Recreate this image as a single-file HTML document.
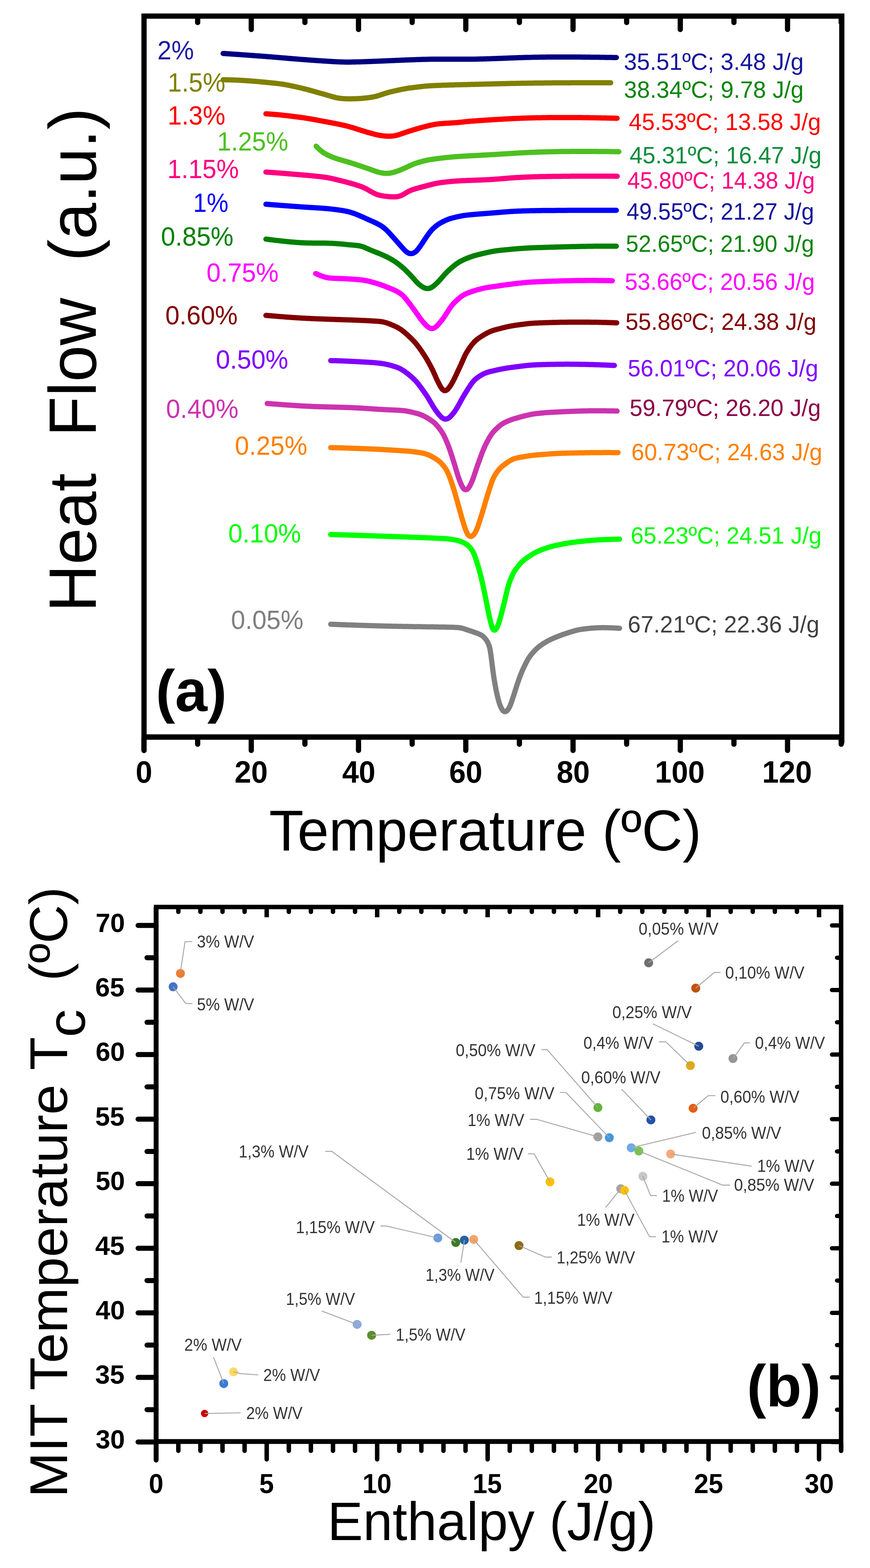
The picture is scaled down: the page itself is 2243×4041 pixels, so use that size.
<!DOCTYPE html>
<html><head><meta charset="utf-8"><title>DSC figure</title>
<style>
html,body{margin:0;padding:0;background:#fff;overflow:hidden;}
svg{display:block;filter:blur(0.5px);}
text{font-family:"Liberation Sans",Arial,sans-serif;white-space:pre;}
</style></head>
<body>
<svg width="2243" height="4041" viewBox="0 0 2243 4041">
<rect width="2243" height="4041" fill="#fff"/>
<g fill="none" stroke="#000" stroke-linecap="round">
<line x1="371.3" y1="1902" x2="371.3" y2="1934" stroke-width="13.5"/>
<line x1="647.8" y1="1902" x2="647.8" y2="1934" stroke-width="13.5"/>
<line x1="924.3" y1="1902" x2="924.3" y2="1934" stroke-width="13.5"/>
<line x1="1200.9" y1="1902" x2="1200.9" y2="1934" stroke-width="13.5"/>
<line x1="1477.4" y1="1902" x2="1477.4" y2="1934" stroke-width="13.5"/>
<line x1="1753.9" y1="1902" x2="1753.9" y2="1934" stroke-width="13.5"/>
<line x1="2030.4" y1="1902" x2="2030.4" y2="1934" stroke-width="13.5"/>
<line x1="509.6" y1="1902" x2="509.6" y2="1918" stroke-width="13.5"/>
<line x1="786.1" y1="1902" x2="786.1" y2="1918" stroke-width="13.5"/>
<line x1="1062.6" y1="1902" x2="1062.6" y2="1918" stroke-width="13.5"/>
<line x1="1339.1" y1="1902" x2="1339.1" y2="1918" stroke-width="13.5"/>
<line x1="1615.6" y1="1902" x2="1615.6" y2="1918" stroke-width="13.5"/>
<line x1="1892.2" y1="1902" x2="1892.2" y2="1918" stroke-width="13.5"/>
<line x1="2168.7" y1="1902" x2="2168.7" y2="1918" stroke-width="13.5"/>
<line x1="647.8" y1="44" x2="647.8" y2="76" stroke-width="13.5"/>
<line x1="924.3" y1="44" x2="924.3" y2="76" stroke-width="13.5"/>
<line x1="1200.9" y1="44" x2="1200.9" y2="76" stroke-width="13.5"/>
<line x1="1477.4" y1="44" x2="1477.4" y2="76" stroke-width="13.5"/>
<line x1="1753.9" y1="44" x2="1753.9" y2="76" stroke-width="13.5"/>
<line x1="2030.4" y1="44" x2="2030.4" y2="76" stroke-width="13.5"/>
<line x1="509.6" y1="44" x2="509.6" y2="58" stroke-width="13.5"/>
<line x1="786.1" y1="44" x2="786.1" y2="58" stroke-width="13.5"/>
<line x1="1062.6" y1="44" x2="1062.6" y2="58" stroke-width="13.5"/>
<line x1="1339.1" y1="44" x2="1339.1" y2="58" stroke-width="13.5"/>
<line x1="1615.6" y1="44" x2="1615.6" y2="58" stroke-width="13.5"/>
<line x1="1892.2" y1="44" x2="1892.2" y2="58" stroke-width="13.5"/>
<line x1="2168.7" y1="44" x2="2168.7" y2="58" stroke-width="13.5"/>
</g>
<path d="M371.3 1934 V41.5 H2170.3 V1913" fill="none" stroke="#000" stroke-width="13.5" stroke-linejoin="miter" stroke-linecap="round"/>
<line x1="365" y1="1899.5" x2="2177" y2="1899.5" stroke="#000" stroke-width="14"/>
<g fill="none" stroke-width="13.5" stroke-linecap="round" stroke-linejoin="round">
<path d="M575.3 137.8 L578.8 138.0 L580.2 138.1 L581.8 138.2 L583.5 138.3 L585.4 138.5 L587.3 138.6 L589.3 138.7 L591.3 138.8 L593.3 139.0 L595.3 139.1 L597.3 139.2 L599.2 139.4 L601.2 139.5 L603.2 139.6 L605.2 139.8 L607.2 139.9 L609.2 140.0 L611.2 140.2 L613.2 140.3 L615.2 140.5 L617.2 140.6 L619.2 140.7 L621.2 140.9 L623.2 141.0 L625.2 141.2 L627.2 141.3 L629.2 141.4 L631.2 141.6 L633.2 141.7 L635.2 141.9 L637.2 142.0 L639.2 142.1 L641.1 142.3 L643.1 142.4 L645.1 142.6 L647.1 142.7 L649.1 142.9 L651.1 143.0 L653.1 143.2 L655.1 143.3 L657.1 143.5 L659.1 143.6 L661.1 143.8 L663.1 143.9 L665.1 144.0 L667.1 144.2 L669.1 144.3 L671.1 144.5 L673.1 144.6 L675.1 144.8 L677.0 144.9 L679.0 145.1 L681.0 145.2 L683.0 145.4 L685.0 145.6 L687.0 145.7 L689.0 145.9 L691.0 146.0 L693.0 146.2 L695.0 146.3 L697.0 146.5 L699.0 146.6 L701.0 146.8 L703.0 146.9 L705.0 147.1 L707.0 147.3 L709.0 147.4 L710.9 147.6 L712.9 147.8 L714.9 147.9 L716.9 148.1 L718.9 148.3 L720.9 148.4 L722.9 148.6 L724.9 148.8 L726.9 148.9 L728.9 149.1 L730.9 149.3 L732.9 149.5 L734.9 149.6 L736.9 149.8 L738.8 150.0 L740.8 150.2 L742.8 150.3 L744.8 150.5 L746.8 150.7 L748.8 150.8 L750.8 151.0 L752.8 151.2 L754.8 151.3 L756.8 151.5 L758.8 151.7 L760.8 151.8 L762.8 152.0 L764.8 152.1 L766.7 152.3 L768.7 152.5 L770.7 152.6 L772.7 152.8 L774.7 152.9 L776.7 153.1 L778.7 153.2 L780.7 153.4 L782.7 153.5 L784.7 153.7 L786.7 153.8 L788.7 154.0 L790.7 154.1 L792.7 154.3 L794.7 154.4 L796.7 154.6 L798.7 154.7 L800.6 154.9 L802.6 155.0 L804.6 155.2 L806.6 155.3 L808.6 155.4 L810.6 155.6 L812.6 155.7 L814.6 155.9 L816.6 156.0 L818.6 156.1 L820.6 156.3 L822.6 156.4 L824.6 156.5 L826.6 156.6 L828.6 156.8 L830.6 156.9 L832.6 157.0 L834.6 157.2 L836.6 157.3 L838.6 157.4 L840.6 157.6 L842.6 157.7 L844.5 157.8 L846.5 158.0 L848.5 158.1 L850.5 158.2 L852.5 158.3 L854.5 158.5 L856.5 158.6 L858.5 158.7 L860.5 158.8 L862.5 158.9 L864.5 159.0 L866.5 159.1 L868.5 159.2 L870.5 159.3 L872.5 159.4 L874.5 159.5 L876.5 159.6 L878.5 159.6 L880.5 159.7 L882.5 159.8 L884.5 159.8 L886.5 159.8 L888.5 159.9 L890.5 159.9 L892.5 159.9 L894.5 159.9 L896.5 159.9 L898.5 159.9 L900.5 159.9 L902.5 159.9 L904.5 159.9 L906.5 159.8 L908.5 159.8 L910.5 159.8 L912.5 159.8 L914.5 159.7 L916.5 159.7 L918.5 159.6 L920.5 159.6 L922.5 159.5 L924.5 159.5 L926.5 159.4 L928.5 159.4 L930.5 159.3 L932.5 159.2 L934.5 159.2 L936.5 159.1 L938.5 159.0 L940.5 159.0 L942.5 158.9 L944.5 158.8 L946.5 158.8 L948.5 158.7 L950.5 158.6 L952.5 158.5 L954.5 158.5 L956.5 158.4 L958.5 158.3 L960.5 158.2 L962.5 158.1 L964.5 158.1 L966.5 158.0 L968.5 157.9 L970.5 157.8 L972.5 157.7 L974.5 157.7 L976.5 157.6 L978.5 157.5 L980.5 157.4 L982.4 157.3 L984.4 157.2 L986.4 157.2 L988.4 157.1 L990.4 157.0 L992.4 156.9 L994.4 156.8 L996.4 156.7 L998.4 156.7 L1000.4 156.6 L1002.4 156.5 L1004.4 156.4 L1006.4 156.3 L1008.4 156.2 L1010.4 156.2 L1012.4 156.1 L1014.4 156.0 L1016.4 155.9 L1018.4 155.8 L1020.4 155.7 L1022.4 155.6 L1024.4 155.6 L1026.4 155.5 L1028.4 155.4 L1030.4 155.3 L1032.4 155.2 L1034.4 155.1 L1036.4 155.0 L1038.4 155.0 L1040.4 154.9 L1042.4 154.8 L1044.4 154.7 L1046.4 154.6 L1048.4 154.5 L1050.4 154.5 L1052.4 154.4 L1054.4 154.3 L1056.4 154.2 L1058.4 154.2 L1060.4 154.1 L1062.4 154.0 L1064.4 153.9 L1066.4 153.9 L1068.4 153.8 L1070.4 153.7 L1072.4 153.7 L1074.4 153.6 L1076.4 153.5 L1078.4 153.5 L1080.4 153.4 L1082.4 153.3 L1084.4 153.3 L1086.4 153.2 L1088.4 153.1 L1090.4 153.1 L1092.4 153.0 L1094.4 153.0 L1096.4 152.9 L1098.4 152.9 L1100.4 152.8 L1102.4 152.8 L1104.4 152.7 L1106.4 152.7 L1108.4 152.6 L1110.4 152.6 L1112.4 152.6 L1114.4 152.5 L1116.4 152.5 L1118.4 152.5 L1120.4 152.5 L1122.4 152.4 L1124.4 152.4 L1126.4 152.4 L1128.4 152.4 L1130.4 152.4 L1132.4 152.4 L1134.4 152.4 L1136.4 152.4 L1138.4 152.4 L1140.4 152.4 L1142.4 152.4 L1144.4 152.4 L1146.4 152.4 L1148.4 152.4 L1150.4 152.4 L1152.4 152.4 L1154.4 152.4 L1156.4 152.4 L1158.4 152.4 L1160.4 152.5 L1162.4 152.5 L1164.4 152.5 L1166.4 152.5 L1168.4 152.5 L1170.4 152.5 L1172.4 152.5 L1174.4 152.6 L1176.4 152.6 L1178.4 152.6 L1180.4 152.6 L1182.4 152.6 L1184.4 152.6 L1186.4 152.6 L1188.4 152.6 L1190.4 152.6 L1192.4 152.6 L1194.4 152.6 L1196.4 152.6 L1198.4 152.6 L1200.4 152.6 L1202.4 152.6 L1204.4 152.6 L1206.4 152.6 L1208.4 152.6 L1210.4 152.6 L1212.4 152.6 L1214.4 152.5 L1216.4 152.5 L1218.4 152.5 L1220.4 152.5 L1222.4 152.4 L1224.4 152.4 L1226.4 152.4 L1228.4 152.3 L1230.4 152.3 L1232.4 152.2 L1234.4 152.2 L1236.4 152.1 L1238.4 152.1 L1240.4 152.0 L1242.4 152.0 L1244.4 151.9 L1246.3 151.9 L1248.3 151.8 L1250.3 151.8 L1252.3 151.7 L1254.3 151.7 L1256.3 151.6 L1258.3 151.5 L1260.3 151.5 L1262.3 151.4 L1264.3 151.3 L1266.3 151.3 L1268.3 151.2 L1270.3 151.1 L1272.3 151.1 L1274.3 151.0 L1276.3 150.9 L1278.3 150.8 L1280.3 150.8 L1282.3 150.7 L1284.3 150.6 L1286.3 150.6 L1288.3 150.5 L1290.3 150.4 L1292.3 150.3 L1294.3 150.3 L1296.3 150.2 L1298.3 150.1 L1300.3 150.0 L1302.3 149.9 L1304.3 149.9 L1306.3 149.8 L1308.3 149.7 L1310.3 149.6 L1312.3 149.6 L1314.3 149.5 L1316.3 149.4 L1318.3 149.3 L1320.3 149.3 L1322.3 149.2 L1324.3 149.1 L1326.3 149.0 L1328.3 149.0 L1330.3 148.9 L1332.3 148.8 L1334.3 148.8 L1336.3 148.7 L1338.3 148.6 L1340.3 148.6 L1342.3 148.5 L1344.3 148.4 L1346.3 148.4 L1348.3 148.3 L1350.3 148.2 L1352.3 148.2 L1354.3 148.1 L1356.3 148.1 L1358.3 148.0 L1360.3 148.0 L1362.3 147.9 L1364.3 147.9 L1366.3 147.8 L1368.3 147.8 L1370.3 147.7 L1372.3 147.7 L1374.3 147.6 L1376.3 147.6 L1378.3 147.5 L1380.3 147.5 L1382.3 147.5 L1384.3 147.4 L1386.3 147.4 L1388.3 147.4 L1390.3 147.3 L1392.3 147.3 L1394.3 147.3 L1396.3 147.3 L1398.3 147.2 L1400.3 147.2 L1402.3 147.2 L1404.3 147.2 L1406.3 147.2 L1408.3 147.1 L1410.3 147.1 L1412.3 147.1 L1414.3 147.1 L1416.3 147.1 L1418.3 147.1 L1420.3 147.0 L1422.3 147.0 L1424.3 147.0 L1426.3 147.0 L1428.3 147.0 L1430.3 147.0 L1432.3 147.0 L1434.3 147.0 L1436.3 147.0 L1438.3 147.0 L1440.3 147.0 L1442.3 147.0 L1444.3 146.9 L1446.3 146.9 L1448.3 146.9 L1450.3 146.9 L1452.3 146.9 L1454.3 146.9 L1456.3 146.9 L1458.3 146.9 L1460.3 147.0 L1462.3 147.0 L1464.3 147.0 L1466.3 147.0 L1468.3 147.0 L1470.3 147.0 L1472.3 147.0 L1474.3 147.0 L1476.3 147.0 L1478.3 147.0 L1480.3 147.0 L1482.3 147.0 L1484.3 147.0 L1486.3 147.1 L1488.3 147.1 L1490.3 147.1 L1492.3 147.1 L1494.3 147.1 L1496.3 147.1 L1498.3 147.1 L1500.3 147.2 L1502.3 147.2 L1504.3 147.2 L1506.3 147.2 L1508.3 147.2 L1510.3 147.2 L1512.3 147.3 L1514.3 147.3 L1516.3 147.3 L1518.3 147.3 L1520.3 147.3 L1522.3 147.4 L1524.3 147.4 L1526.3 147.4 L1528.3 147.4 L1530.3 147.5 L1532.3 147.5 L1534.3 147.5 L1536.3 147.5 L1538.3 147.6 L1540.3 147.6 L1542.3 147.6 L1544.3 147.6 L1546.3 147.7 L1548.3 147.7 L1550.3 147.7 L1552.3 147.7 L1554.3 147.8 L1556.3 147.8 L1558.3 147.8 L1560.3 147.9 L1562.3 147.9 L1564.3 147.9 L1566.3 147.9 L1568.3 148.0 L1570.3 148.0 L1572.3 148.0 L1574.3 148.1 L1576.2 148.1 L1578.2 148.1 L1580.1 148.2 L1581.9 148.2 L1583.5 148.2 L1585.0 148.2 L1586.2 148.3 L1589.0 148.3" stroke="#000080"/>
<path d="M575.3 205.6 L578.8 205.6 L580.2 205.6 L581.8 205.7 L583.6 205.7 L585.4 205.7 L587.3 205.8 L589.3 205.8 L591.3 205.8 L593.3 205.9 L595.3 206.0 L597.3 206.0 L599.3 206.1 L601.3 206.1 L603.3 206.2 L605.3 206.3 L607.3 206.4 L609.3 206.5 L611.3 206.5 L613.3 206.6 L615.3 206.7 L617.3 206.8 L619.3 206.9 L621.3 207.1 L623.3 207.2 L625.3 207.3 L627.3 207.4 L629.3 207.5 L631.3 207.6 L633.2 207.8 L635.2 207.9 L637.2 208.0 L639.2 208.2 L641.2 208.3 L643.2 208.5 L645.2 208.6 L647.2 208.8 L649.2 208.9 L651.2 209.1 L653.2 209.2 L655.2 209.4 L657.2 209.6 L659.2 209.7 L661.2 209.9 L663.2 210.1 L665.2 210.2 L667.1 210.4 L669.1 210.6 L671.1 210.8 L673.1 211.0 L675.1 211.1 L677.1 211.3 L679.1 211.5 L681.1 211.7 L683.1 211.9 L685.1 212.1 L687.1 212.3 L689.0 212.5 L691.0 212.7 L693.0 212.9 L695.0 213.1 L697.0 213.3 L699.0 213.5 L701.0 213.7 L703.0 213.9 L705.0 214.1 L707.0 214.3 L708.9 214.5 L710.9 214.7 L712.9 214.9 L714.9 215.1 L716.9 215.4 L718.9 215.6 L720.9 215.9 L722.8 216.1 L724.8 216.4 L726.8 216.7 L728.8 217.0 L730.8 217.3 L732.7 217.7 L734.7 218.0 L736.7 218.4 L738.6 218.7 L740.6 219.1 L742.6 219.5 L744.5 219.8 L746.5 220.2 L748.4 220.6 L750.4 221.0 L752.4 221.5 L754.3 221.9 L756.3 222.3 L758.2 222.7 L760.2 223.2 L762.1 223.6 L764.1 224.0 L766.0 224.5 L768.0 224.9 L769.9 225.4 L771.9 225.8 L773.8 226.3 L775.8 226.7 L777.7 227.2 L779.7 227.6 L781.6 228.1 L783.6 228.6 L785.5 229.1 L787.4 229.5 L789.4 230.0 L791.3 230.5 L793.2 231.0 L795.2 231.6 L797.1 232.1 L799.0 232.6 L801.0 233.1 L802.9 233.7 L804.8 234.2 L806.7 234.8 L808.7 235.3 L810.6 235.9 L812.5 236.4 L814.4 237.0 L816.4 237.5 L818.3 238.1 L820.2 238.6 L822.1 239.2 L824.1 239.7 L826.0 240.2 L827.9 240.8 L829.8 241.3 L831.8 241.8 L833.7 242.4 L835.6 242.9 L837.5 243.5 L839.5 244.0 L841.4 244.6 L843.3 245.1 L845.2 245.7 L847.1 246.2 L849.1 246.8 L851.0 247.4 L852.9 248.0 L854.8 248.5 L856.7 249.1 L858.7 249.6 L860.6 250.1 L862.5 250.6 L864.5 251.1 L866.4 251.6 L868.4 252.0 L870.3 252.4 L872.3 252.7 L874.3 253.0 L876.2 253.3 L878.2 253.6 L880.2 253.8 L882.2 254.0 L884.2 254.1 L886.2 254.3 L888.2 254.4 L890.2 254.5 L892.2 254.6 L894.2 254.6 L896.2 254.7 L898.2 254.7 L900.2 254.7 L902.2 254.7 L904.2 254.7 L906.2 254.7 L908.2 254.6 L910.2 254.6 L912.2 254.5 L914.2 254.5 L916.2 254.4 L918.2 254.3 L920.2 254.3 L922.2 254.2 L924.2 254.1 L926.1 253.9 L928.1 253.8 L930.1 253.7 L932.1 253.5 L934.1 253.4 L936.1 253.2 L938.1 253.0 L940.1 252.8 L942.1 252.6 L944.1 252.4 L946.1 252.2 L948.1 251.9 L950.0 251.7 L952.0 251.4 L954.0 251.1 L956.0 250.8 L957.9 250.5 L959.9 250.2 L961.9 249.8 L963.8 249.5 L965.8 249.0 L967.7 248.6 L969.7 248.1 L971.6 247.6 L973.5 247.0 L975.5 246.5 L977.4 245.9 L979.3 245.3 L981.2 244.7 L983.1 244.0 L985.0 243.4 L986.9 242.7 L988.7 242.1 L990.6 241.5 L992.5 240.9 L994.5 240.3 L996.4 239.7 L998.3 239.1 L1000.2 238.6 L1002.1 238.0 L1004.1 237.5 L1006.0 237.0 L1007.9 236.5 L1009.9 236.1 L1011.8 235.6 L1013.8 235.2 L1015.7 234.7 L1017.7 234.3 L1019.6 233.8 L1021.6 233.4 L1023.5 232.9 L1025.5 232.5 L1027.4 232.1 L1029.4 231.7 L1031.3 231.2 L1033.3 230.8 L1035.3 230.4 L1037.2 230.1 L1039.2 229.7 L1041.2 229.3 L1043.1 228.9 L1045.1 228.6 L1047.1 228.3 L1049.0 227.9 L1051.0 227.6 L1053.0 227.3 L1055.0 227.0 L1056.9 226.7 L1058.9 226.4 L1060.9 226.2 L1062.9 225.9 L1064.9 225.7 L1066.9 225.4 L1068.8 225.1 L1070.8 224.9 L1072.8 224.7 L1074.8 224.4 L1076.8 224.2 L1078.8 223.9 L1080.8 223.7 L1082.7 223.5 L1084.7 223.3 L1086.7 223.0 L1088.7 222.8 L1090.7 222.6 L1092.7 222.4 L1094.7 222.2 L1096.7 222.1 L1098.7 221.9 L1100.7 221.7 L1102.6 221.5 L1104.6 221.4 L1106.6 221.3 L1108.6 221.1 L1110.6 221.0 L1112.6 220.9 L1114.6 220.8 L1116.6 220.7 L1118.6 220.6 L1120.6 220.5 L1122.6 220.4 L1124.6 220.3 L1126.6 220.2 L1128.6 220.2 L1130.6 220.1 L1132.6 220.0 L1134.6 219.9 L1136.6 219.9 L1138.6 219.8 L1140.6 219.7 L1142.6 219.6 L1144.6 219.6 L1146.6 219.5 L1148.6 219.4 L1150.6 219.4 L1152.6 219.3 L1154.6 219.2 L1156.6 219.2 L1158.6 219.1 L1160.6 219.0 L1162.6 219.0 L1164.6 218.9 L1166.6 218.9 L1168.6 218.8 L1170.6 218.7 L1172.6 218.7 L1174.6 218.6 L1176.6 218.6 L1178.6 218.5 L1180.6 218.5 L1182.6 218.4 L1184.6 218.4 L1186.6 218.3 L1188.6 218.3 L1190.6 218.2 L1192.6 218.2 L1194.6 218.1 L1196.6 218.1 L1198.6 218.0 L1200.6 218.0 L1202.6 217.9 L1204.6 217.9 L1206.6 217.8 L1208.6 217.8 L1210.6 217.7 L1212.6 217.7 L1214.6 217.6 L1216.6 217.6 L1218.6 217.5 L1220.6 217.5 L1222.6 217.4 L1224.6 217.4 L1226.6 217.3 L1228.6 217.3 L1230.6 217.2 L1232.6 217.2 L1234.6 217.1 L1236.6 217.1 L1238.6 217.0 L1240.6 217.0 L1242.6 216.9 L1244.6 216.9 L1246.6 216.8 L1248.6 216.8 L1250.6 216.7 L1252.6 216.7 L1254.6 216.6 L1256.6 216.6 L1258.6 216.5 L1260.6 216.5 L1262.5 216.4 L1264.5 216.4 L1266.5 216.3 L1268.5 216.3 L1270.5 216.2 L1272.5 216.2 L1274.5 216.1 L1276.5 216.1 L1278.5 216.0 L1280.5 216.0 L1282.5 215.9 L1284.5 215.9 L1286.5 215.8 L1288.5 215.8 L1290.5 215.7 L1292.5 215.7 L1294.5 215.6 L1296.5 215.6 L1298.5 215.5 L1300.5 215.5 L1302.5 215.4 L1304.5 215.4 L1306.5 215.3 L1308.5 215.3 L1310.5 215.3 L1312.5 215.2 L1314.5 215.2 L1316.5 215.1 L1318.5 215.1 L1320.5 215.0 L1322.5 215.0 L1324.5 215.0 L1326.5 214.9 L1328.5 214.9 L1330.5 214.8 L1332.5 214.8 L1334.5 214.8 L1336.5 214.7 L1338.5 214.7 L1340.5 214.7 L1342.5 214.6 L1344.5 214.6 L1346.5 214.6 L1348.5 214.5 L1350.5 214.5 L1352.5 214.5 L1354.5 214.4 L1356.5 214.4 L1358.5 214.4 L1360.5 214.3 L1362.5 214.3 L1364.5 214.3 L1366.5 214.2 L1368.5 214.2 L1370.5 214.2 L1372.5 214.2 L1374.5 214.1 L1376.5 214.1 L1378.5 214.1 L1380.5 214.1 L1382.5 214.0 L1384.5 214.0 L1386.5 214.0 L1388.5 214.0 L1390.5 214.0 L1392.5 213.9 L1394.5 213.9 L1396.5 213.9 L1398.5 213.9 L1400.5 213.9 L1402.5 213.8 L1404.5 213.8 L1406.5 213.8 L1408.5 213.8 L1410.5 213.8 L1412.5 213.7 L1414.5 213.7 L1416.5 213.7 L1418.5 213.7 L1420.5 213.7 L1422.5 213.7 L1424.5 213.6 L1426.5 213.6 L1428.5 213.6 L1430.5 213.6 L1432.5 213.6 L1434.5 213.6 L1436.5 213.6 L1438.5 213.5 L1440.5 213.5 L1442.5 213.5 L1444.5 213.5 L1446.5 213.5 L1448.5 213.5 L1450.5 213.5 L1452.5 213.5 L1454.5 213.4 L1456.5 213.4 L1458.5 213.4 L1460.5 213.4 L1462.5 213.4 L1464.5 213.4 L1466.5 213.4 L1468.5 213.4 L1470.5 213.4 L1472.5 213.3 L1474.5 213.3 L1476.5 213.3 L1478.5 213.3 L1480.5 213.3 L1482.5 213.3 L1484.5 213.3 L1486.5 213.3 L1488.5 213.3 L1490.5 213.3 L1492.5 213.3 L1494.5 213.3 L1496.5 213.3 L1498.5 213.3 L1500.5 213.2 L1502.5 213.2 L1504.5 213.2 L1506.5 213.2 L1508.5 213.2 L1510.5 213.2 L1512.5 213.2 L1514.5 213.2 L1516.5 213.2 L1518.5 213.2 L1520.5 213.2 L1522.5 213.2 L1524.5 213.2 L1526.5 213.2 L1528.5 213.2 L1530.5 213.2 L1532.5 213.2 L1534.5 213.2 L1536.5 213.2 L1538.5 213.2 L1540.5 213.2 L1542.5 213.2 L1544.5 213.2 L1546.5 213.2 L1548.5 213.2 L1550.5 213.2 L1552.5 213.2 L1554.5 213.2 L1556.5 213.2 L1558.5 213.2 L1560.5 213.3 L1562.5 213.3 L1564.4 213.3 L1566.3 213.3 L1568.0 213.3 L1569.6 213.3 L1571.0 213.3 L1574.5 213.3 L1574.5 213.3" stroke="#808000"/>
<path d="M685.6 293.3 L689.1 293.5 L690.5 293.6 L692.1 293.7 L693.8 293.8 L695.7 293.9 L697.6 294.1 L699.6 294.2 L701.6 294.4 L703.6 294.5 L705.6 294.7 L707.5 294.8 L709.5 295.0 L711.5 295.2 L713.5 295.4 L715.5 295.5 L717.5 295.7 L719.5 295.9 L721.5 296.1 L723.5 296.3 L725.5 296.5 L727.5 296.7 L729.4 297.0 L731.4 297.2 L733.4 297.4 L735.4 297.6 L737.4 297.8 L739.4 298.1 L741.4 298.3 L743.4 298.5 L745.3 298.8 L747.3 299.0 L749.3 299.2 L751.3 299.5 L753.3 299.7 L755.3 300.0 L757.2 300.2 L759.2 300.5 L761.2 300.7 L763.2 301.0 L765.2 301.3 L767.2 301.5 L769.1 301.8 L771.1 302.0 L773.1 302.3 L775.1 302.6 L777.1 302.8 L779.1 303.1 L781.0 303.4 L783.0 303.6 L785.0 303.9 L787.0 304.2 L789.0 304.5 L790.9 304.8 L792.9 305.1 L794.9 305.5 L796.9 305.8 L798.8 306.1 L800.8 306.5 L802.8 306.8 L804.7 307.2 L806.7 307.5 L808.7 307.9 L810.6 308.2 L812.6 308.6 L814.6 309.0 L816.5 309.3 L818.5 309.7 L820.5 310.1 L822.4 310.4 L824.4 310.8 L826.4 311.2 L828.3 311.6 L830.3 311.9 L832.3 312.3 L834.2 312.7 L836.2 313.0 L838.2 313.4 L840.1 313.8 L842.1 314.1 L844.1 314.5 L846.0 314.8 L848.0 315.2 L850.0 315.6 L851.9 315.9 L853.9 316.3 L855.9 316.7 L857.8 317.1 L859.8 317.4 L861.8 317.8 L863.7 318.2 L865.7 318.6 L867.6 319.0 L869.6 319.4 L871.6 319.7 L873.5 320.2 L875.5 320.6 L877.4 321.0 L879.4 321.4 L881.3 321.8 L883.3 322.2 L885.2 322.7 L887.2 323.1 L889.1 323.6 L891.1 324.1 L893.0 324.5 L895.0 325.0 L896.9 325.5 L898.8 326.0 L900.8 326.6 L902.7 327.1 L904.6 327.7 L906.5 328.2 L908.4 328.8 L910.4 329.4 L912.3 330.0 L914.2 330.6 L916.1 331.2 L918.0 331.8 L919.9 332.4 L921.8 333.0 L923.7 333.6 L925.6 334.2 L927.5 334.8 L929.4 335.4 L931.3 336.0 L933.2 336.6 L935.2 337.2 L937.1 337.8 L939.0 338.4 L940.9 339.0 L942.8 339.5 L944.7 340.1 L946.6 340.7 L948.6 341.2 L950.5 341.8 L952.4 342.3 L954.3 342.8 L956.3 343.4 L958.2 343.9 L960.1 344.4 L962.1 345.0 L964.0 345.5 L965.9 346.0 L967.9 346.5 L969.8 346.9 L971.8 347.4 L973.7 347.8 L975.7 348.2 L977.6 348.6 L979.6 349.0 L981.6 349.3 L983.5 349.6 L985.5 349.9 L987.5 350.1 L989.5 350.3 L991.5 350.5 L993.5 350.7 L995.5 350.8 L997.5 350.9 L999.4 351.0 L1001.4 351.0 L1003.4 351.0 L1005.4 351.0 L1007.4 350.9 L1009.4 350.8 L1011.4 350.6 L1013.4 350.4 L1015.4 350.1 L1017.3 349.8 L1019.3 349.4 L1021.3 349.0 L1023.2 348.6 L1025.1 348.0 L1027.0 347.5 L1028.9 346.9 L1030.8 346.2 L1032.7 345.6 L1034.6 344.9 L1036.5 344.3 L1038.4 343.6 L1040.3 342.9 L1042.1 342.3 L1044.0 341.6 L1045.9 341.0 L1047.8 340.4 L1049.7 339.8 L1051.6 339.2 L1053.6 338.5 L1055.5 337.9 L1057.4 337.3 L1059.3 336.7 L1061.2 336.2 L1063.1 335.6 L1065.0 335.0 L1066.9 334.4 L1068.8 333.8 L1070.7 333.2 L1072.7 332.6 L1074.6 332.1 L1076.5 331.5 L1078.4 331.0 L1080.3 330.4 L1082.3 329.9 L1084.2 329.4 L1086.1 328.8 L1088.1 328.3 L1090.0 327.8 L1091.9 327.3 L1093.9 326.8 L1095.8 326.3 L1097.7 325.8 L1099.7 325.3 L1101.6 324.8 L1103.6 324.3 L1105.5 323.8 L1107.4 323.4 L1109.4 322.9 L1111.3 322.5 L1113.3 322.0 L1115.2 321.6 L1117.2 321.2 L1119.2 320.9 L1121.1 320.5 L1123.1 320.2 L1125.1 319.9 L1127.1 319.6 L1129.0 319.4 L1131.0 319.2 L1133.0 318.9 L1135.0 318.8 L1137.0 318.6 L1139.0 318.4 L1141.0 318.3 L1143.0 318.1 L1145.0 318.0 L1147.0 317.9 L1149.0 317.7 L1151.0 317.6 L1153.0 317.5 L1155.0 317.4 L1157.0 317.3 L1159.0 317.2 L1161.0 317.1 L1163.0 317.0 L1164.9 316.8 L1166.9 316.7 L1168.9 316.6 L1170.9 316.5 L1172.9 316.3 L1174.9 316.2 L1176.9 316.0 L1178.9 315.9 L1180.9 315.7 L1182.9 315.5 L1184.9 315.3 L1186.9 315.1 L1188.9 314.9 L1190.9 314.7 L1192.8 314.5 L1194.8 314.3 L1196.8 314.0 L1198.8 313.8 L1200.8 313.6 L1202.8 313.4 L1204.8 313.2 L1206.8 313.0 L1208.8 312.8 L1210.7 312.6 L1212.7 312.5 L1214.7 312.3 L1216.7 312.1 L1218.7 312.0 L1220.7 311.8 L1222.7 311.7 L1224.7 311.5 L1226.7 311.4 L1228.7 311.3 L1230.7 311.1 L1232.7 311.0 L1234.7 310.8 L1236.7 310.7 L1238.7 310.6 L1240.7 310.4 L1242.7 310.3 L1244.7 310.2 L1246.7 310.0 L1248.6 309.9 L1250.6 309.8 L1252.6 309.6 L1254.6 309.5 L1256.6 309.4 L1258.6 309.2 L1260.6 309.1 L1262.6 309.0 L1264.6 308.9 L1266.6 308.7 L1268.6 308.6 L1270.6 308.5 L1272.6 308.4 L1274.6 308.2 L1276.6 308.1 L1278.6 308.0 L1280.6 307.9 L1282.6 307.7 L1284.6 307.6 L1286.6 307.5 L1288.6 307.4 L1290.6 307.3 L1292.6 307.2 L1294.6 307.1 L1296.6 306.9 L1298.6 306.8 L1300.6 306.7 L1302.5 306.6 L1304.5 306.5 L1306.5 306.4 L1308.5 306.3 L1310.5 306.2 L1312.5 306.1 L1314.5 306.0 L1316.5 305.9 L1318.5 305.8 L1320.5 305.7 L1322.5 305.6 L1324.5 305.5 L1326.5 305.4 L1328.5 305.3 L1330.5 305.3 L1332.5 305.2 L1334.5 305.1 L1336.5 305.0 L1338.5 304.9 L1340.5 304.8 L1342.5 304.8 L1344.5 304.7 L1346.5 304.6 L1348.5 304.5 L1350.5 304.5 L1352.5 304.4 L1354.5 304.3 L1356.5 304.3 L1358.5 304.2 L1360.5 304.1 L1362.5 304.1 L1364.5 304.0 L1366.5 304.0 L1368.5 303.9 L1370.5 303.8 L1372.5 303.8 L1374.5 303.7 L1376.5 303.7 L1378.5 303.7 L1380.5 303.6 L1382.5 303.6 L1384.5 303.5 L1386.5 303.5 L1388.5 303.5 L1390.5 303.4 L1392.5 303.4 L1394.5 303.4 L1396.5 303.3 L1398.5 303.3 L1400.5 303.3 L1402.5 303.2 L1404.5 303.2 L1406.5 303.2 L1408.5 303.2 L1410.5 303.2 L1412.5 303.1 L1414.5 303.1 L1416.5 303.1 L1418.5 303.1 L1420.5 303.1 L1422.5 303.0 L1424.5 303.0 L1426.5 303.0 L1428.5 303.0 L1430.5 303.0 L1432.5 303.0 L1434.5 303.0 L1436.5 302.9 L1438.5 302.9 L1440.5 302.9 L1442.5 302.9 L1444.5 302.9 L1446.5 302.9 L1448.5 302.9 L1450.5 302.9 L1452.5 302.9 L1454.5 302.9 L1456.5 302.9 L1458.5 302.9 L1460.5 302.9 L1462.5 302.9 L1464.5 302.9 L1466.5 302.9 L1468.5 302.9 L1470.5 302.9 L1472.5 302.9 L1474.5 302.9 L1476.5 303.0 L1478.5 303.0 L1480.5 303.0 L1482.5 303.0 L1484.5 303.0 L1486.5 303.0 L1488.5 303.0 L1490.5 303.0 L1492.5 303.1 L1494.5 303.1 L1496.5 303.1 L1498.5 303.1 L1500.5 303.1 L1502.5 303.2 L1504.5 303.2 L1506.5 303.2 L1508.5 303.2 L1510.5 303.2 L1512.5 303.3 L1514.5 303.3 L1516.5 303.3 L1518.5 303.3 L1520.5 303.4 L1522.5 303.4 L1524.5 303.4 L1526.5 303.5 L1528.5 303.5 L1530.5 303.5 L1532.5 303.6 L1534.5 303.6 L1536.5 303.6 L1538.5 303.7 L1540.5 303.7 L1542.5 303.7 L1544.5 303.8 L1546.5 303.8 L1548.5 303.8 L1550.5 303.9 L1552.5 303.9 L1554.5 304.0 L1556.5 304.0 L1558.5 304.0 L1560.5 304.1 L1562.5 304.1 L1564.5 304.2 L1566.5 304.2 L1568.5 304.3 L1570.5 304.3 L1572.5 304.3 L1574.5 304.4 L1576.5 304.4 L1578.4 304.5 L1580.4 304.5 L1582.3 304.6 L1584.0 304.6 L1585.7 304.7 L1587.1 304.7 L1588.3 304.7 L1591.0 304.8" stroke="#FF0000"/>
<path d="M815.0 376.8 L817.5 379.3 L818.5 380.3 L819.6 381.4 L820.9 382.6 L822.2 383.9 L823.6 385.2 L825.1 386.5 L826.6 387.8 L828.1 389.1 L829.7 390.3 L831.3 391.5 L832.9 392.7 L834.5 393.8 L836.2 394.9 L838.0 395.9 L839.7 396.8 L841.4 397.8 L843.2 398.7 L845.0 399.6 L846.8 400.5 L848.6 401.3 L850.4 402.2 L852.3 403.0 L854.1 403.7 L856.0 404.5 L857.8 405.2 L859.7 405.9 L861.6 406.6 L863.4 407.3 L865.3 408.0 L867.2 408.6 L869.1 409.2 L871.0 409.8 L872.9 410.4 L874.9 411.0 L876.8 411.5 L878.7 412.1 L880.6 412.7 L882.5 413.2 L884.5 413.8 L886.4 414.3 L888.3 414.9 L890.2 415.4 L892.1 416.0 L894.1 416.6 L896.0 417.1 L897.9 417.7 L899.8 418.3 L901.7 418.8 L903.6 419.4 L905.6 420.0 L907.5 420.6 L909.4 421.2 L911.3 421.9 L913.2 422.5 L915.1 423.1 L917.0 423.7 L918.9 424.4 L920.8 425.0 L922.7 425.6 L924.6 426.3 L926.4 426.9 L928.3 427.5 L930.2 428.2 L932.1 428.8 L934.0 429.5 L935.9 430.1 L937.8 430.7 L939.7 431.4 L941.6 432.0 L943.5 432.7 L945.4 433.3 L947.3 434.0 L949.2 434.6 L951.1 435.3 L952.9 435.9 L954.8 436.6 L956.7 437.3 L958.6 438.0 L960.5 438.6 L962.4 439.3 L964.2 440.0 L966.1 440.6 L968.0 441.3 L969.9 441.9 L971.8 442.5 L973.7 443.1 L975.7 443.7 L977.6 444.2 L979.5 444.7 L981.5 445.1 L983.4 445.5 L985.4 445.8 L987.4 446.1 L989.3 446.4 L991.3 446.6 L993.3 446.7 L995.3 446.8 L997.3 446.8 L999.3 446.7 L1001.3 446.6 L1003.2 446.4 L1005.2 446.2 L1007.2 445.9 L1009.1 445.5 L1011.1 445.1 L1013.0 444.6 L1014.9 444.1 L1016.9 443.5 L1018.8 442.9 L1020.7 442.3 L1022.6 441.6 L1024.4 440.9 L1026.3 440.3 L1028.2 439.6 L1030.1 438.9 L1031.9 438.1 L1033.8 437.4 L1035.6 436.7 L1037.5 435.9 L1039.3 435.1 L1041.2 434.3 L1043.0 433.5 L1044.8 432.6 L1046.6 431.8 L1048.4 431.0 L1050.2 430.1 L1052.0 429.2 L1053.8 428.4 L1055.6 427.5 L1057.5 426.7 L1059.3 425.9 L1061.1 425.1 L1062.9 424.3 L1064.8 423.5 L1066.6 422.8 L1068.5 422.1 L1070.4 421.4 L1072.3 420.7 L1074.2 420.1 L1076.1 419.5 L1078.0 418.9 L1079.9 418.3 L1081.8 417.7 L1083.7 417.2 L1085.7 416.7 L1087.6 416.1 L1089.5 415.6 L1091.5 415.1 L1093.4 414.7 L1095.4 414.2 L1097.3 413.7 L1099.3 413.3 L1101.2 412.9 L1103.2 412.5 L1105.1 412.1 L1107.1 411.7 L1109.1 411.4 L1111.0 411.1 L1113.0 410.8 L1115.0 410.5 L1117.0 410.2 L1119.0 409.9 L1120.9 409.6 L1122.9 409.4 L1124.9 409.1 L1126.9 408.8 L1128.9 408.6 L1130.9 408.3 L1132.8 408.1 L1134.8 407.8 L1136.8 407.6 L1138.8 407.4 L1140.8 407.1 L1142.8 406.9 L1144.8 406.7 L1146.7 406.4 L1148.7 406.2 L1150.7 406.0 L1152.7 405.8 L1154.7 405.6 L1156.7 405.4 L1158.7 405.2 L1160.7 405.0 L1162.7 404.8 L1164.6 404.6 L1166.6 404.4 L1168.6 404.3 L1170.6 404.1 L1172.6 403.9 L1174.6 403.8 L1176.6 403.7 L1178.6 403.5 L1180.6 403.4 L1182.6 403.3 L1184.6 403.1 L1186.6 403.0 L1188.6 402.9 L1190.6 402.8 L1192.6 402.6 L1194.6 402.5 L1196.6 402.4 L1198.6 402.3 L1200.6 402.2 L1202.6 402.1 L1204.6 402.0 L1206.6 401.8 L1208.5 401.7 L1210.5 401.6 L1212.5 401.5 L1214.5 401.4 L1216.5 401.3 L1218.5 401.2 L1220.5 401.1 L1222.5 401.0 L1224.5 400.9 L1226.5 400.8 L1228.5 400.7 L1230.5 400.6 L1232.5 400.5 L1234.5 400.4 L1236.5 400.3 L1238.5 400.2 L1240.5 400.0 L1242.5 399.9 L1244.5 399.8 L1246.5 399.7 L1248.5 399.6 L1250.5 399.5 L1252.5 399.4 L1254.5 399.3 L1256.5 399.2 L1258.5 399.1 L1260.5 399.0 L1262.5 398.9 L1264.5 398.7 L1266.5 398.6 L1268.5 398.5 L1270.5 398.4 L1272.5 398.3 L1274.5 398.2 L1276.4 398.0 L1278.4 397.9 L1280.4 397.8 L1282.4 397.7 L1284.4 397.6 L1286.4 397.4 L1288.4 397.3 L1290.4 397.2 L1292.4 397.1 L1294.4 396.9 L1296.4 396.8 L1298.4 396.7 L1300.4 396.6 L1302.4 396.4 L1304.4 396.3 L1306.4 396.2 L1308.4 396.1 L1310.4 395.9 L1312.4 395.8 L1314.4 395.7 L1316.4 395.6 L1318.4 395.4 L1320.4 395.3 L1322.4 395.2 L1324.4 395.1 L1326.4 395.0 L1328.3 394.8 L1330.3 394.7 L1332.3 394.6 L1334.3 394.5 L1336.3 394.4 L1338.3 394.2 L1340.3 394.1 L1342.3 394.0 L1344.3 393.9 L1346.3 393.8 L1348.3 393.7 L1350.3 393.6 L1352.3 393.5 L1354.3 393.4 L1356.3 393.3 L1358.3 393.2 L1360.3 393.1 L1362.3 393.0 L1364.3 392.9 L1366.3 392.8 L1368.3 392.7 L1370.3 392.6 L1372.3 392.5 L1374.3 392.4 L1376.3 392.4 L1378.3 392.3 L1380.3 392.2 L1382.3 392.1 L1384.3 392.1 L1386.3 392.0 L1388.3 391.9 L1390.3 391.9 L1392.3 391.8 L1394.3 391.7 L1396.3 391.7 L1398.3 391.6 L1400.3 391.6 L1402.3 391.5 L1404.3 391.5 L1406.3 391.4 L1408.3 391.3 L1410.3 391.3 L1412.3 391.2 L1414.3 391.2 L1416.3 391.2 L1418.3 391.1 L1420.3 391.1 L1422.3 391.0 L1424.3 391.0 L1426.3 390.9 L1428.3 390.9 L1430.3 390.9 L1432.3 390.8 L1434.3 390.8 L1436.3 390.8 L1438.3 390.7 L1440.3 390.7 L1442.3 390.7 L1444.3 390.6 L1446.3 390.6 L1448.3 390.6 L1450.3 390.5 L1452.3 390.5 L1454.3 390.5 L1456.3 390.5 L1458.3 390.4 L1460.3 390.4 L1462.3 390.4 L1464.3 390.4 L1466.3 390.4 L1468.3 390.4 L1470.3 390.3 L1472.3 390.3 L1474.3 390.3 L1476.3 390.3 L1478.3 390.3 L1480.3 390.3 L1482.3 390.3 L1484.3 390.3 L1486.3 390.2 L1488.3 390.2 L1490.3 390.2 L1492.3 390.2 L1494.3 390.2 L1496.3 390.2 L1498.3 390.2 L1500.3 390.2 L1502.3 390.2 L1504.3 390.2 L1506.3 390.2 L1508.3 390.2 L1510.3 390.2 L1512.3 390.2 L1514.3 390.2 L1516.3 390.2 L1518.3 390.2 L1520.3 390.2 L1522.3 390.3 L1524.3 390.3 L1526.3 390.3 L1528.3 390.3 L1530.3 390.3 L1532.3 390.3 L1534.3 390.3 L1536.3 390.3 L1538.3 390.3 L1540.3 390.4 L1542.3 390.4 L1544.3 390.4 L1546.3 390.4 L1548.3 390.4 L1550.3 390.4 L1552.3 390.5 L1554.3 390.5 L1556.3 390.5 L1558.3 390.5 L1560.3 390.5 L1562.3 390.6 L1564.3 390.6 L1566.3 390.6 L1568.3 390.6 L1570.3 390.7 L1572.3 390.7 L1574.3 390.7 L1576.3 390.7 L1578.3 390.8 L1580.2 390.8 L1582.2 390.8 L1584.2 390.8 L1586.1 390.9 L1587.9 390.9 L1589.6 390.9 L1591.1 390.9 L1592.4 391.0 L1595.5 391.0 L1595.5 391.0" stroke="#4DC020"/>
<path d="M685.6 443.4 L689.1 443.6 L690.5 443.7 L692.1 443.8 L693.8 444.0 L695.7 444.1 L697.6 444.2 L699.6 444.4 L701.6 444.5 L703.6 444.7 L705.6 444.8 L707.5 445.0 L709.5 445.1 L711.5 445.3 L713.5 445.4 L715.5 445.6 L717.5 445.7 L719.5 445.9 L721.5 446.0 L723.5 446.2 L725.5 446.4 L727.5 446.5 L729.5 446.7 L731.5 446.8 L733.5 447.0 L735.5 447.2 L737.5 447.3 L739.4 447.5 L741.4 447.7 L743.4 447.8 L745.4 448.0 L747.4 448.2 L749.4 448.3 L751.4 448.5 L753.4 448.7 L755.4 448.8 L757.4 449.0 L759.4 449.2 L761.4 449.3 L763.4 449.5 L765.4 449.7 L767.3 449.8 L769.3 450.0 L771.3 450.2 L773.3 450.3 L775.3 450.5 L777.3 450.7 L779.3 450.8 L781.3 451.0 L783.3 451.2 L785.3 451.3 L787.3 451.5 L789.3 451.7 L791.3 451.9 L793.3 452.0 L795.2 452.2 L797.2 452.4 L799.2 452.6 L801.2 452.8 L803.2 452.9 L805.2 453.1 L807.2 453.3 L809.2 453.5 L811.2 453.7 L813.2 453.9 L815.2 454.1 L817.1 454.3 L819.1 454.5 L821.1 454.7 L823.1 455.0 L825.1 455.2 L827.1 455.4 L829.1 455.7 L831.1 455.9 L833.0 456.2 L835.0 456.4 L837.0 456.7 L839.0 457.0 L841.0 457.3 L842.9 457.6 L844.9 458.0 L846.9 458.3 L848.8 458.7 L850.8 459.1 L852.7 459.5 L854.7 459.9 L856.7 460.3 L858.6 460.8 L860.6 461.2 L862.5 461.7 L864.4 462.1 L866.4 462.6 L868.3 463.1 L870.3 463.6 L872.2 464.1 L874.2 464.5 L876.1 465.0 L878.0 465.5 L880.0 466.0 L881.9 466.5 L883.8 467.0 L885.8 467.5 L887.7 468.0 L889.6 468.5 L891.6 469.0 L893.5 469.5 L895.5 470.0 L897.4 470.5 L899.3 471.0 L901.3 471.6 L903.2 472.1 L905.1 472.6 L907.0 473.1 L909.0 473.7 L910.9 474.3 L912.8 474.8 L914.7 475.4 L916.6 476.0 L918.5 476.6 L920.4 477.2 L922.4 477.8 L924.2 478.4 L926.1 479.1 L928.0 479.7 L929.9 480.4 L931.8 481.1 L933.6 481.8 L935.5 482.6 L937.3 483.4 L939.1 484.2 L940.9 485.1 L942.7 486.0 L944.5 486.9 L946.2 487.9 L948.0 488.9 L949.7 489.8 L951.4 490.8 L953.2 491.9 L954.9 492.9 L956.6 493.9 L958.4 494.8 L960.1 495.8 L961.9 496.7 L963.7 497.7 L965.5 498.5 L967.3 499.3 L969.1 500.1 L971.0 500.8 L972.8 501.5 L974.7 502.1 L976.7 502.7 L978.6 503.2 L980.5 503.6 L982.5 504.0 L984.4 504.4 L986.4 504.7 L988.4 505.1 L990.4 505.4 L992.3 505.6 L994.3 505.9 L996.3 506.1 L998.3 506.3 L1000.3 506.5 L1002.3 506.7 L1004.3 506.9 L1006.3 507.0 L1008.3 507.1 L1010.3 507.2 L1012.3 507.3 L1014.2 507.3 L1016.2 507.3 L1018.2 507.3 L1020.2 507.2 L1022.2 507.0 L1024.2 506.7 L1026.1 506.4 L1028.1 506.0 L1030.0 505.5 L1031.8 504.8 L1033.7 504.1 L1035.5 503.3 L1037.3 502.5 L1039.0 501.5 L1040.8 500.6 L1042.5 499.6 L1044.2 498.5 L1045.9 497.5 L1047.6 496.5 L1049.4 495.5 L1051.1 494.5 L1052.9 493.5 L1054.6 492.6 L1056.4 491.8 L1058.3 491.0 L1060.1 490.2 L1062.0 489.5 L1063.8 488.8 L1065.7 488.2 L1067.6 487.6 L1069.5 487.0 L1071.5 486.4 L1073.4 485.8 L1075.3 485.2 L1077.2 484.7 L1079.1 484.2 L1081.1 483.6 L1083.0 483.1 L1084.9 482.6 L1086.9 482.1 L1088.8 481.6 L1090.7 481.1 L1092.7 480.6 L1094.6 480.1 L1096.5 479.6 L1098.5 479.1 L1100.4 478.6 L1102.3 478.1 L1104.3 477.6 L1106.2 477.1 L1108.2 476.6 L1110.1 476.1 L1112.0 475.6 L1114.0 475.1 L1115.9 474.6 L1117.8 474.1 L1119.8 473.7 L1121.7 473.2 L1123.7 472.8 L1125.7 472.4 L1127.6 472.0 L1129.6 471.7 L1131.6 471.4 L1133.5 471.1 L1135.5 470.8 L1137.5 470.5 L1139.5 470.3 L1141.5 470.0 L1143.5 469.8 L1145.4 469.5 L1147.4 469.3 L1149.4 469.1 L1151.4 468.8 L1153.4 468.6 L1155.4 468.4 L1157.4 468.2 L1159.4 468.0 L1161.3 467.8 L1163.3 467.6 L1165.3 467.5 L1167.3 467.3 L1169.3 467.1 L1171.3 467.0 L1173.3 466.8 L1175.3 466.7 L1177.3 466.5 L1179.3 466.4 L1181.3 466.3 L1183.3 466.2 L1185.3 466.0 L1187.3 465.9 L1189.3 465.8 L1191.3 465.7 L1193.3 465.6 L1195.3 465.5 L1197.3 465.4 L1199.3 465.4 L1201.3 465.3 L1203.3 465.2 L1205.3 465.1 L1207.3 465.0 L1209.3 465.0 L1211.3 464.9 L1213.3 464.8 L1215.3 464.7 L1217.2 464.7 L1219.2 464.6 L1221.2 464.5 L1223.2 464.5 L1225.2 464.4 L1227.2 464.3 L1229.2 464.2 L1231.2 464.2 L1233.2 464.1 L1235.2 464.0 L1237.2 463.9 L1239.2 463.9 L1241.2 463.8 L1243.2 463.7 L1245.2 463.6 L1247.2 463.5 L1249.2 463.5 L1251.2 463.4 L1253.2 463.3 L1255.2 463.2 L1257.2 463.1 L1259.2 463.0 L1261.2 462.9 L1263.2 462.8 L1265.2 462.6 L1267.2 462.5 L1269.2 462.4 L1271.2 462.3 L1273.2 462.1 L1275.2 462.0 L1277.2 461.8 L1279.2 461.7 L1281.2 461.5 L1283.2 461.4 L1285.2 461.2 L1287.1 461.1 L1289.1 460.9 L1291.1 460.7 L1293.1 460.6 L1295.1 460.4 L1297.1 460.2 L1299.1 460.0 L1301.1 459.9 L1303.1 459.7 L1305.1 459.5 L1307.1 459.4 L1309.1 459.2 L1311.1 459.1 L1313.1 458.9 L1315.1 458.8 L1317.0 458.6 L1319.0 458.5 L1321.0 458.3 L1323.0 458.2 L1325.0 458.1 L1327.0 457.9 L1329.0 457.8 L1331.0 457.7 L1333.0 457.6 L1335.0 457.5 L1337.0 457.4 L1339.0 457.3 L1341.0 457.2 L1343.0 457.1 L1345.0 457.0 L1347.0 456.9 L1349.0 456.8 L1351.0 456.7 L1353.0 456.6 L1355.0 456.5 L1357.0 456.4 L1359.0 456.3 L1361.0 456.2 L1363.0 456.1 L1365.0 456.1 L1367.0 456.0 L1369.0 455.9 L1371.0 455.8 L1373.0 455.7 L1375.0 455.7 L1377.0 455.6 L1379.0 455.5 L1381.0 455.5 L1383.0 455.4 L1385.0 455.4 L1387.0 455.3 L1389.0 455.2 L1391.0 455.2 L1393.0 455.1 L1395.0 455.1 L1397.0 455.1 L1399.0 455.0 L1401.0 455.0 L1403.0 455.0 L1405.0 454.9 L1407.0 454.9 L1409.0 454.9 L1411.0 454.8 L1413.0 454.8 L1415.0 454.8 L1417.0 454.7 L1419.0 454.7 L1421.0 454.7 L1423.0 454.7 L1425.0 454.6 L1427.0 454.6 L1429.0 454.6 L1431.0 454.6 L1433.0 454.5 L1435.0 454.5 L1437.0 454.5 L1439.0 454.5 L1441.0 454.4 L1443.0 454.4 L1445.0 454.4 L1447.0 454.4 L1449.0 454.3 L1451.0 454.3 L1453.0 454.3 L1455.0 454.3 L1457.0 454.3 L1459.0 454.2 L1461.0 454.2 L1463.0 454.2 L1465.0 454.2 L1467.0 454.2 L1469.0 454.2 L1471.0 454.1 L1473.0 454.1 L1475.0 454.1 L1477.0 454.1 L1479.0 454.1 L1481.0 454.1 L1483.0 454.1 L1485.0 454.0 L1487.0 454.0 L1489.0 454.0 L1491.0 454.0 L1493.0 454.0 L1495.0 454.0 L1497.0 454.0 L1499.0 454.0 L1501.0 454.0 L1503.0 454.0 L1505.0 453.9 L1507.0 453.9 L1509.0 453.9 L1511.0 453.9 L1513.0 453.9 L1515.0 453.9 L1517.0 453.9 L1519.0 453.9 L1521.0 453.9 L1523.0 453.9 L1525.0 453.9 L1527.0 453.9 L1529.0 453.9 L1531.0 453.9 L1533.0 453.9 L1535.0 453.9 L1537.0 453.9 L1539.0 453.9 L1541.0 453.9 L1543.0 453.9 L1545.0 453.9 L1547.0 453.9 L1549.0 453.9 L1551.0 453.9 L1553.0 453.9 L1555.0 454.0 L1557.0 454.0 L1559.0 454.0 L1561.0 454.0 L1563.0 454.0 L1565.0 454.0 L1567.0 454.0 L1569.0 454.0 L1571.0 454.0 L1573.0 454.0 L1574.9 454.1 L1576.9 454.1 L1578.9 454.1 L1580.8 454.1 L1582.7 454.1 L1584.5 454.1 L1586.1 454.2 L1587.6 454.2 L1588.7 454.2 L1591.3 454.2" stroke="#FF0080"/>
<path d="M685.6 526.3 L689.1 526.6 L690.5 526.7 L692.1 526.8 L693.8 527.0 L695.7 527.1 L697.6 527.3 L699.6 527.4 L701.6 527.6 L703.5 527.7 L705.5 527.9 L707.5 528.0 L709.5 528.2 L711.5 528.3 L713.5 528.5 L715.5 528.6 L717.5 528.8 L719.5 528.9 L721.5 529.1 L723.5 529.3 L725.5 529.4 L727.5 529.6 L729.5 529.7 L731.5 529.9 L733.5 530.0 L735.5 530.2 L737.4 530.3 L739.4 530.5 L741.4 530.6 L743.4 530.7 L745.4 530.9 L747.4 531.0 L749.4 531.2 L751.4 531.3 L753.4 531.5 L755.4 531.6 L757.4 531.8 L759.4 531.9 L761.4 532.1 L763.4 532.2 L765.4 532.4 L767.4 532.5 L769.4 532.6 L771.4 532.8 L773.4 532.9 L775.3 533.1 L777.3 533.2 L779.3 533.3 L781.3 533.5 L783.3 533.6 L785.3 533.8 L787.3 533.9 L789.3 534.0 L791.3 534.1 L793.3 534.3 L795.3 534.4 L797.3 534.5 L799.3 534.6 L801.3 534.8 L803.3 534.9 L805.3 535.0 L807.3 535.1 L809.3 535.2 L811.3 535.4 L813.3 535.5 L815.3 535.6 L817.3 535.7 L819.3 535.9 L821.3 536.0 L823.2 536.1 L825.2 536.2 L827.2 536.4 L829.2 536.5 L831.2 536.7 L833.2 536.8 L835.2 537.0 L837.2 537.1 L839.2 537.3 L841.2 537.5 L843.2 537.6 L845.2 537.8 L847.2 538.0 L849.2 538.2 L851.1 538.4 L853.1 538.6 L855.1 538.9 L857.1 539.1 L859.1 539.3 L861.1 539.6 L863.1 539.8 L865.1 540.1 L867.0 540.3 L869.0 540.6 L871.0 540.8 L873.0 541.1 L875.0 541.4 L876.9 541.7 L878.9 541.9 L880.9 542.2 L882.9 542.6 L884.8 542.9 L886.8 543.2 L888.8 543.6 L890.7 544.0 L892.7 544.4 L894.6 544.9 L896.6 545.3 L898.5 545.8 L900.5 546.3 L902.4 546.8 L904.3 547.4 L906.2 548.0 L908.1 548.6 L910.0 549.2 L911.9 549.8 L913.8 550.5 L915.7 551.2 L917.5 551.9 L919.4 552.7 L921.3 553.4 L923.1 554.2 L924.9 554.9 L926.8 555.7 L928.6 556.5 L930.5 557.3 L932.3 558.1 L934.1 558.9 L936.0 559.7 L937.8 560.5 L939.6 561.4 L941.4 562.2 L943.2 563.0 L945.1 563.9 L946.9 564.7 L948.7 565.5 L950.5 566.3 L952.4 567.1 L954.2 567.9 L956.0 568.8 L957.8 569.6 L959.7 570.4 L961.5 571.2 L963.3 572.0 L965.1 572.8 L967.0 573.7 L968.8 574.5 L970.6 575.4 L972.4 576.3 L974.1 577.2 L975.9 578.1 L977.7 579.1 L979.4 580.1 L981.1 581.1 L982.8 582.1 L984.5 583.2 L986.1 584.4 L987.7 585.5 L989.3 586.8 L990.9 588.0 L992.4 589.3 L993.9 590.6 L995.3 592.0 L996.8 593.3 L998.2 594.7 L999.6 596.2 L1001.0 597.6 L1002.4 599.1 L1003.7 600.5 L1005.1 602.0 L1006.4 603.5 L1007.8 605.0 L1009.1 606.5 L1010.5 607.9 L1011.8 609.4 L1013.1 610.9 L1014.5 612.4 L1015.8 613.9 L1017.1 615.4 L1018.5 616.9 L1019.8 618.4 L1021.1 619.9 L1022.4 621.4 L1023.7 622.9 L1025.0 624.4 L1026.4 625.9 L1027.7 627.4 L1029.0 628.9 L1030.3 630.4 L1031.6 631.9 L1032.9 633.4 L1034.3 634.9 L1035.6 636.4 L1036.9 637.9 L1038.3 639.4 L1039.6 640.9 L1041.0 642.3 L1042.3 643.8 L1043.7 645.2 L1045.2 646.6 L1046.6 647.9 L1048.2 649.2 L1049.7 650.3 L1051.4 651.3 L1053.1 652.2 L1054.8 652.9 L1056.7 653.4 L1058.5 653.6 L1060.3 653.6 L1062.2 653.4 L1064.0 652.9 L1065.8 652.3 L1067.5 651.4 L1069.1 650.4 L1070.7 649.3 L1072.3 648.1 L1073.7 646.7 L1075.1 645.3 L1076.4 643.9 L1077.7 642.3 L1078.9 640.8 L1080.1 639.2 L1081.3 637.5 L1082.4 635.9 L1083.6 634.3 L1084.7 632.6 L1085.8 631.0 L1087.0 629.3 L1088.1 627.7 L1089.2 626.0 L1090.3 624.3 L1091.4 622.7 L1092.5 621.0 L1093.6 619.3 L1094.7 617.7 L1095.8 616.0 L1096.9 614.3 L1098.1 612.7 L1099.2 611.0 L1100.3 609.4 L1101.5 607.7 L1102.6 606.1 L1103.8 604.5 L1104.9 602.9 L1106.1 601.2 L1107.3 599.6 L1108.6 598.1 L1109.8 596.5 L1111.1 595.0 L1112.4 593.5 L1113.8 592.0 L1115.2 590.6 L1116.6 589.2 L1118.0 587.8 L1119.5 586.5 L1121.0 585.1 L1122.5 583.9 L1124.1 582.6 L1125.6 581.4 L1127.2 580.2 L1128.8 579.0 L1130.5 577.9 L1132.2 576.8 L1133.9 575.7 L1135.6 574.7 L1137.3 573.8 L1139.1 572.8 L1140.9 571.9 L1142.6 571.0 L1144.4 570.1 L1146.2 569.2 L1148.0 568.3 L1149.8 567.5 L1151.7 566.7 L1153.5 566.0 L1155.4 565.2 L1157.3 564.6 L1159.2 563.9 L1161.1 563.3 L1163.0 562.7 L1164.9 562.2 L1166.8 561.7 L1168.8 561.2 L1170.7 560.7 L1172.6 560.2 L1174.6 559.8 L1176.5 559.3 L1178.5 558.8 L1180.4 558.4 L1182.4 558.0 L1184.3 557.6 L1186.3 557.2 L1188.3 556.8 L1190.2 556.4 L1192.2 556.1 L1194.2 555.7 L1196.1 555.4 L1198.1 555.1 L1200.1 554.9 L1202.1 554.6 L1204.1 554.4 L1206.1 554.1 L1208.0 553.9 L1210.0 553.7 L1212.0 553.5 L1214.0 553.3 L1216.0 553.2 L1218.0 553.0 L1220.0 552.8 L1222.0 552.6 L1224.0 552.5 L1226.0 552.3 L1228.0 552.1 L1230.0 552.0 L1231.9 551.8 L1233.9 551.6 L1235.9 551.5 L1237.9 551.3 L1239.9 551.2 L1241.9 551.0 L1243.9 550.8 L1245.9 550.7 L1247.9 550.5 L1249.9 550.4 L1251.9 550.2 L1253.9 550.1 L1255.9 549.9 L1257.9 549.8 L1259.9 549.6 L1261.9 549.5 L1263.8 549.3 L1265.8 549.1 L1267.8 549.0 L1269.8 548.8 L1271.8 548.7 L1273.8 548.5 L1275.8 548.3 L1277.8 548.2 L1279.8 548.0 L1281.8 547.8 L1283.8 547.7 L1285.8 547.5 L1287.8 547.3 L1289.8 547.2 L1291.8 547.0 L1293.7 546.8 L1295.7 546.7 L1297.7 546.5 L1299.7 546.3 L1301.7 546.2 L1303.7 546.0 L1305.7 545.9 L1307.7 545.7 L1309.7 545.6 L1311.7 545.4 L1313.7 545.3 L1315.7 545.1 L1317.7 545.0 L1319.7 544.9 L1321.7 544.8 L1323.7 544.7 L1325.7 544.6 L1327.7 544.5 L1329.7 544.4 L1331.7 544.3 L1333.7 544.2 L1335.7 544.1 L1337.7 544.0 L1339.7 544.0 L1341.6 543.9 L1343.6 543.8 L1345.6 543.8 L1347.6 543.7 L1349.6 543.6 L1351.6 543.6 L1353.6 543.5 L1355.6 543.5 L1357.6 543.4 L1359.6 543.3 L1361.6 543.3 L1363.6 543.2 L1365.6 543.2 L1367.6 543.1 L1369.6 543.1 L1371.6 543.0 L1373.6 543.0 L1375.6 543.0 L1377.6 542.9 L1379.6 542.9 L1381.6 542.8 L1383.6 542.8 L1385.6 542.8 L1387.6 542.7 L1389.6 542.7 L1391.6 542.7 L1393.6 542.7 L1395.6 542.6 L1397.6 542.6 L1399.6 542.6 L1401.6 542.6 L1403.6 542.6 L1405.6 542.6 L1407.6 542.5 L1409.6 542.5 L1411.6 542.5 L1413.6 542.5 L1415.6 542.5 L1417.6 542.5 L1419.6 542.4 L1421.6 542.4 L1423.6 542.4 L1425.6 542.4 L1427.6 542.4 L1429.6 542.4 L1431.6 542.4 L1433.6 542.3 L1435.6 542.3 L1437.6 542.3 L1439.6 542.3 L1441.6 542.3 L1443.6 542.3 L1445.6 542.3 L1447.6 542.2 L1449.6 542.2 L1451.6 542.2 L1453.6 542.2 L1455.6 542.2 L1457.6 542.2 L1459.6 542.2 L1461.6 542.2 L1463.6 542.1 L1465.6 542.1 L1467.6 542.1 L1469.6 542.1 L1471.6 542.1 L1473.6 542.1 L1475.6 542.1 L1477.6 542.1 L1479.6 542.0 L1481.6 542.0 L1483.6 542.0 L1485.6 542.0 L1487.6 542.0 L1489.6 542.0 L1491.6 542.0 L1493.6 542.0 L1495.6 542.0 L1497.6 542.0 L1499.6 542.0 L1501.6 542.0 L1503.6 541.9 L1505.6 541.9 L1507.6 541.9 L1509.6 541.9 L1511.6 541.9 L1513.6 541.9 L1515.6 541.9 L1517.6 541.9 L1519.6 541.9 L1521.6 541.9 L1523.6 541.9 L1525.6 541.9 L1527.6 541.9 L1529.6 541.9 L1531.6 541.9 L1533.6 541.9 L1535.6 541.9 L1537.6 541.9 L1539.6 541.9 L1541.6 541.9 L1543.6 541.9 L1545.6 541.9 L1547.6 541.9 L1549.6 541.9 L1551.6 541.9 L1553.6 541.9 L1555.6 541.9 L1557.6 541.9 L1559.6 541.9 L1561.6 541.9 L1563.6 541.9 L1565.6 541.9 L1567.6 541.9 L1569.6 541.9 L1571.6 541.9 L1573.6 541.9 L1575.6 541.9 L1577.6 541.9 L1579.5 542.0 L1581.3 542.0 L1583.0 542.0 L1584.6 542.0 L1585.9 542.0 L1589.0 542.0 L1589.0 542.0" stroke="#0000FF"/>
<path d="M685.6 616.2 L689.1 616.6 L690.5 616.8 L692.0 617.0 L693.8 617.2 L695.6 617.5 L697.6 617.7 L699.5 617.9 L701.5 618.2 L703.5 618.4 L705.4 618.7 L707.4 618.9 L709.4 619.2 L711.4 619.4 L713.4 619.6 L715.4 619.9 L717.4 620.1 L719.3 620.3 L721.3 620.6 L723.3 620.8 L725.3 621.0 L727.3 621.2 L729.3 621.4 L731.3 621.7 L733.3 621.9 L735.3 622.1 L737.2 622.3 L739.2 622.5 L741.2 622.7 L743.2 622.9 L745.2 623.1 L747.2 623.3 L749.2 623.5 L751.2 623.6 L753.2 623.8 L755.2 624.0 L757.2 624.1 L759.1 624.3 L761.1 624.5 L763.1 624.6 L765.1 624.8 L767.1 624.9 L769.1 625.0 L771.1 625.2 L773.1 625.3 L775.1 625.4 L777.1 625.5 L779.1 625.6 L781.1 625.7 L783.1 625.8 L785.1 625.9 L787.1 626.0 L789.1 626.0 L791.1 626.1 L793.1 626.2 L795.1 626.2 L797.1 626.2 L799.1 626.3 L801.1 626.3 L803.1 626.3 L805.1 626.4 L807.1 626.4 L809.1 626.4 L811.1 626.4 L813.1 626.4 L815.1 626.4 L817.1 626.5 L819.1 626.5 L821.1 626.5 L823.1 626.5 L825.1 626.5 L827.1 626.5 L829.1 626.5 L831.1 626.5 L833.1 626.6 L835.1 626.6 L837.1 626.6 L839.1 626.6 L841.1 626.7 L843.1 626.7 L845.1 626.8 L847.1 626.8 L849.1 626.9 L851.1 626.9 L853.1 627.0 L855.1 627.1 L857.1 627.2 L859.1 627.3 L861.1 627.4 L863.1 627.5 L865.1 627.6 L867.1 627.8 L869.1 627.9 L871.0 628.1 L873.0 628.2 L875.0 628.4 L877.0 628.6 L879.0 628.7 L881.0 628.9 L883.0 629.1 L885.0 629.3 L887.0 629.5 L889.0 629.7 L891.0 629.9 L893.0 630.1 L894.9 630.3 L896.9 630.5 L898.9 630.7 L900.9 630.9 L902.9 631.0 L904.9 631.2 L906.9 631.4 L908.9 631.5 L910.9 631.7 L912.9 631.9 L914.9 632.1 L916.9 632.3 L918.8 632.5 L920.8 632.7 L922.8 633.0 L924.8 633.3 L926.7 633.7 L928.7 634.0 L930.6 634.5 L932.5 635.0 L934.4 635.6 L936.3 636.2 L938.2 636.9 L940.1 637.7 L941.9 638.5 L943.7 639.3 L945.5 640.1 L947.4 640.9 L949.2 641.7 L951.0 642.5 L952.8 643.3 L954.7 644.1 L956.5 644.9 L958.4 645.7 L960.2 646.4 L962.1 647.2 L963.9 647.9 L965.8 648.6 L967.7 649.4 L969.5 650.1 L971.4 650.8 L973.2 651.6 L975.1 652.3 L977.0 653.1 L978.8 653.8 L980.7 654.6 L982.5 655.4 L984.3 656.2 L986.2 657.0 L988.0 657.8 L989.8 658.6 L991.6 659.4 L993.4 660.3 L995.2 661.1 L997.0 662.0 L998.8 662.9 L1000.6 663.8 L1002.4 664.7 L1004.2 665.7 L1005.9 666.6 L1007.7 667.6 L1009.4 668.6 L1011.1 669.6 L1012.8 670.6 L1014.5 671.7 L1016.2 672.7 L1017.9 673.8 L1019.6 674.9 L1021.2 676.1 L1022.8 677.2 L1024.4 678.4 L1026.0 679.6 L1027.6 680.8 L1029.2 682.1 L1030.8 683.3 L1032.3 684.6 L1033.9 685.9 L1035.4 687.1 L1036.9 688.4 L1038.4 689.7 L1039.9 691.1 L1041.4 692.4 L1042.9 693.7 L1044.3 695.1 L1045.8 696.5 L1047.2 697.9 L1048.6 699.3 L1050.0 700.7 L1051.4 702.1 L1052.8 703.6 L1054.2 705.0 L1055.6 706.5 L1057.0 707.9 L1058.4 709.4 L1059.7 710.8 L1061.1 712.3 L1062.4 713.8 L1063.8 715.2 L1065.1 716.7 L1066.5 718.2 L1067.8 719.7 L1069.1 721.2 L1070.4 722.7 L1071.8 724.2 L1073.1 725.7 L1074.5 727.1 L1075.9 728.6 L1077.3 730.0 L1078.8 731.3 L1080.2 732.7 L1081.8 733.9 L1083.3 735.2 L1084.9 736.4 L1086.5 737.6 L1088.2 738.7 L1089.9 739.7 L1091.6 740.6 L1093.4 741.5 L1095.2 742.3 L1097.0 742.9 L1098.9 743.3 L1100.8 743.6 L1102.7 743.6 L1104.6 743.5 L1106.4 743.2 L1108.3 742.7 L1110.1 741.9 L1111.8 741.1 L1113.5 740.1 L1115.2 739.0 L1116.8 737.9 L1118.3 736.7 L1119.9 735.4 L1121.4 734.1 L1122.9 732.8 L1124.4 731.5 L1125.8 730.1 L1127.3 728.7 L1128.7 727.3 L1130.1 725.9 L1131.5 724.4 L1132.8 723.0 L1134.2 721.5 L1135.5 720.0 L1136.8 718.5 L1138.1 716.9 L1139.4 715.4 L1140.7 713.9 L1142.0 712.4 L1143.3 710.9 L1144.6 709.3 L1145.9 707.8 L1147.3 706.4 L1148.6 704.9 L1150.0 703.5 L1151.4 702.0 L1152.8 700.6 L1154.3 699.2 L1155.7 697.9 L1157.2 696.5 L1158.7 695.2 L1160.1 693.8 L1161.6 692.5 L1163.1 691.2 L1164.6 689.9 L1166.2 688.6 L1167.7 687.3 L1169.2 686.0 L1170.8 684.7 L1172.3 683.5 L1173.9 682.2 L1175.5 681.0 L1177.1 679.9 L1178.7 678.7 L1180.4 677.6 L1182.1 676.5 L1183.8 675.4 L1185.5 674.4 L1187.2 673.5 L1189.0 672.5 L1190.8 671.6 L1192.6 670.7 L1194.4 669.9 L1196.2 669.0 L1198.0 668.2 L1199.8 667.4 L1201.7 666.6 L1203.5 665.9 L1205.4 665.1 L1207.2 664.4 L1209.1 663.7 L1211.0 663.0 L1212.8 662.3 L1214.7 661.6 L1216.6 661.0 L1218.5 660.3 L1220.4 659.7 L1222.3 659.1 L1224.3 658.6 L1226.2 658.0 L1228.1 657.5 L1230.0 657.0 L1232.0 656.5 L1233.9 656.0 L1235.9 655.5 L1237.8 655.1 L1239.7 654.6 L1241.7 654.1 L1243.6 653.7 L1245.6 653.2 L1247.5 652.7 L1249.5 652.3 L1251.4 651.8 L1253.4 651.4 L1255.3 650.9 L1257.3 650.5 L1259.2 650.1 L1261.2 649.7 L1263.1 649.3 L1265.1 648.9 L1267.1 648.5 L1269.0 648.1 L1271.0 647.8 L1273.0 647.4 L1274.9 647.1 L1276.9 646.8 L1278.9 646.5 L1280.9 646.2 L1282.9 645.9 L1284.8 645.7 L1286.8 645.4 L1288.8 645.2 L1290.8 645.0 L1292.8 644.8 L1294.8 644.6 L1296.8 644.4 L1298.8 644.2 L1300.7 644.0 L1302.7 643.8 L1304.7 643.6 L1306.7 643.4 L1308.7 643.3 L1310.7 643.1 L1312.7 642.9 L1314.7 642.7 L1316.7 642.5 L1318.7 642.3 L1320.7 642.1 L1322.7 642.0 L1324.6 641.8 L1326.6 641.6 L1328.6 641.4 L1330.6 641.3 L1332.6 641.1 L1334.6 641.0 L1336.6 640.8 L1338.6 640.6 L1340.6 640.5 L1342.6 640.3 L1344.6 640.2 L1346.6 640.0 L1348.6 639.9 L1350.6 639.8 L1352.6 639.6 L1354.6 639.5 L1356.6 639.4 L1358.5 639.3 L1360.5 639.2 L1362.5 639.1 L1364.5 639.0 L1366.5 638.9 L1368.5 638.8 L1370.5 638.7 L1372.5 638.6 L1374.5 638.5 L1376.5 638.4 L1378.5 638.4 L1380.5 638.3 L1382.5 638.2 L1384.5 638.2 L1386.5 638.1 L1388.5 638.0 L1390.5 638.0 L1392.5 637.9 L1394.5 637.9 L1396.5 637.8 L1398.5 637.7 L1400.5 637.7 L1402.5 637.6 L1404.5 637.6 L1406.5 637.5 L1408.5 637.4 L1410.5 637.4 L1412.5 637.3 L1414.5 637.3 L1416.5 637.2 L1418.5 637.1 L1420.5 637.1 L1422.5 637.0 L1424.5 637.0 L1426.5 636.9 L1428.5 636.9 L1430.5 636.8 L1432.5 636.7 L1434.5 636.7 L1436.5 636.6 L1438.5 636.6 L1440.5 636.5 L1442.5 636.5 L1444.5 636.4 L1446.5 636.3 L1448.5 636.3 L1450.5 636.2 L1452.5 636.2 L1454.5 636.1 L1456.5 636.1 L1458.5 636.0 L1460.5 636.0 L1462.5 635.9 L1464.5 635.9 L1466.5 635.8 L1468.5 635.8 L1470.5 635.7 L1472.5 635.7 L1474.5 635.6 L1476.5 635.6 L1478.5 635.5 L1480.5 635.5 L1482.5 635.5 L1484.5 635.4 L1486.5 635.4 L1488.5 635.3 L1490.5 635.3 L1492.5 635.2 L1494.5 635.2 L1496.5 635.2 L1498.5 635.1 L1500.5 635.1 L1502.5 635.0 L1504.5 635.0 L1506.5 635.0 L1508.5 634.9 L1510.5 634.9 L1512.5 634.9 L1514.5 634.8 L1516.5 634.8 L1518.5 634.8 L1520.5 634.8 L1522.5 634.7 L1524.5 634.7 L1526.5 634.7 L1528.5 634.7 L1530.5 634.6 L1532.5 634.6 L1534.5 634.6 L1536.5 634.6 L1538.5 634.6 L1540.5 634.5 L1542.5 634.5 L1544.5 634.5 L1546.5 634.5 L1548.5 634.5 L1550.5 634.5 L1552.5 634.5 L1554.5 634.4 L1556.5 634.4 L1558.5 634.4 L1560.5 634.4 L1562.5 634.4 L1564.5 634.4 L1566.5 634.4 L1568.5 634.4 L1570.5 634.4 L1572.5 634.4 L1574.5 634.4 L1576.4 634.4 L1578.4 634.4 L1580.3 634.5 L1582.1 634.5 L1583.7 634.5 L1585.1 634.5 L1586.3 634.5 L1589.0 634.5" stroke="#008000"/>
<path d="M813.8 705.0 L817.0 706.4 L818.3 706.9 L819.8 707.5 L821.4 708.2 L823.1 708.9 L824.9 709.7 L826.7 710.4 L828.6 711.1 L830.5 711.8 L832.3 712.5 L834.2 713.1 L836.1 713.7 L838.0 714.3 L840.0 714.8 L841.9 715.2 L843.9 715.6 L845.8 715.9 L847.8 716.2 L849.8 716.4 L851.8 716.6 L853.8 716.8 L855.8 716.9 L857.8 717.1 L859.8 717.2 L861.8 717.3 L863.8 717.4 L865.7 717.5 L867.7 717.5 L869.7 717.6 L871.7 717.7 L873.7 717.8 L875.7 717.8 L877.7 717.9 L879.7 718.0 L881.7 718.0 L883.7 718.1 L885.7 718.2 L887.7 718.3 L889.7 718.4 L891.7 718.5 L893.7 718.6 L895.7 718.7 L897.7 718.8 L899.7 718.9 L901.7 719.0 L903.7 719.2 L905.7 719.3 L907.7 719.4 L909.7 719.6 L911.7 719.7 L913.7 719.8 L915.7 720.0 L917.7 720.1 L919.7 720.3 L921.7 720.5 L923.7 720.6 L925.6 720.8 L927.6 721.0 L929.6 721.2 L931.6 721.4 L933.6 721.6 L935.6 721.9 L937.6 722.2 L939.5 722.5 L941.5 722.8 L943.5 723.2 L945.4 723.6 L947.4 724.0 L949.3 724.4 L951.3 724.9 L953.2 725.4 L955.1 725.9 L957.1 726.4 L959.0 726.9 L960.9 727.5 L962.9 728.0 L964.8 728.5 L966.7 729.1 L968.6 729.7 L970.5 730.2 L972.5 730.8 L974.4 731.4 L976.3 732.0 L978.2 732.7 L980.1 733.3 L981.9 733.9 L983.8 734.6 L985.7 735.3 L987.6 736.0 L989.5 736.7 L991.3 737.4 L993.2 738.1 L995.1 738.8 L996.9 739.6 L998.8 740.3 L1000.6 741.0 L1002.5 741.8 L1004.4 742.5 L1006.2 743.3 L1008.1 744.0 L1009.9 744.8 L1011.8 745.5 L1013.6 746.3 L1015.4 747.2 L1017.2 748.0 L1019.0 748.8 L1020.8 749.7 L1022.6 750.6 L1024.4 751.6 L1026.1 752.6 L1027.8 753.6 L1029.5 754.7 L1031.2 755.8 L1032.8 756.9 L1034.4 758.1 L1035.9 759.4 L1037.4 760.7 L1038.9 762.0 L1040.3 763.4 L1041.7 764.9 L1043.0 766.3 L1044.4 767.8 L1045.7 769.3 L1046.9 770.9 L1048.2 772.4 L1049.4 774.0 L1050.7 775.6 L1051.9 777.2 L1053.1 778.7 L1054.3 780.3 L1055.5 781.9 L1056.7 783.5 L1057.9 785.1 L1059.1 786.7 L1060.3 788.3 L1061.5 789.9 L1062.7 791.5 L1063.9 793.1 L1065.1 794.7 L1066.3 796.3 L1067.5 797.9 L1068.7 799.5 L1069.9 801.2 L1071.0 802.8 L1072.2 804.4 L1073.3 806.1 L1074.4 807.7 L1075.6 809.4 L1076.7 811.0 L1077.8 812.7 L1079.0 814.3 L1080.1 816.0 L1081.3 817.6 L1082.4 819.2 L1083.6 820.8 L1084.8 822.4 L1086.0 824.0 L1087.3 825.6 L1088.5 827.1 L1089.8 828.7 L1091.1 830.2 L1092.4 831.7 L1093.7 833.2 L1095.1 834.7 L1096.5 836.1 L1097.8 837.6 L1099.3 839.0 L1100.7 840.3 L1102.2 841.6 L1103.8 842.8 L1105.4 843.9 L1107.0 844.9 L1108.7 845.7 L1110.5 846.2 L1112.3 846.6 L1114.1 846.6 L1115.9 846.4 L1117.6 845.9 L1119.4 845.2 L1121.0 844.3 L1122.6 843.2 L1124.1 842.0 L1125.6 840.7 L1127.0 839.3 L1128.4 837.9 L1129.7 836.4 L1131.1 834.9 L1132.4 833.4 L1133.7 831.9 L1135.0 830.4 L1136.2 828.8 L1137.5 827.3 L1138.7 825.7 L1140.0 824.1 L1141.2 822.5 L1142.3 820.9 L1143.5 819.3 L1144.6 817.6 L1145.8 816.0 L1146.9 814.3 L1148.0 812.6 L1149.0 811.0 L1150.1 809.3 L1151.2 807.6 L1152.3 805.9 L1153.4 804.2 L1154.4 802.5 L1155.5 800.9 L1156.6 799.2 L1157.7 797.5 L1158.8 795.8 L1159.9 794.2 L1161.1 792.6 L1162.2 790.9 L1163.4 789.3 L1164.7 787.7 L1165.9 786.2 L1167.2 784.6 L1168.5 783.1 L1169.8 781.7 L1171.2 780.2 L1172.6 778.8 L1174.0 777.4 L1175.4 776.0 L1176.9 774.6 L1178.4 773.3 L1179.9 771.9 L1181.3 770.6 L1182.9 769.3 L1184.4 768.0 L1185.9 766.8 L1187.5 765.5 L1189.1 764.3 L1190.7 763.2 L1192.4 762.1 L1194.1 761.0 L1195.8 760.0 L1197.5 759.0 L1199.3 758.1 L1201.1 757.2 L1202.9 756.4 L1204.8 755.6 L1206.6 754.9 L1208.5 754.2 L1210.4 753.5 L1212.2 752.9 L1214.1 752.2 L1216.0 751.6 L1217.9 751.0 L1219.8 750.3 L1221.7 749.7 L1223.6 749.1 L1225.5 748.5 L1227.5 747.9 L1229.4 747.3 L1231.3 746.8 L1233.2 746.2 L1235.1 745.7 L1237.1 745.2 L1239.0 744.7 L1240.9 744.2 L1242.9 743.7 L1244.8 743.3 L1246.8 742.8 L1248.7 742.4 L1250.7 742.0 L1252.7 741.6 L1254.6 741.3 L1256.6 741.0 L1258.6 740.6 L1260.6 740.3 L1262.5 740.0 L1264.5 739.7 L1266.5 739.4 L1268.5 739.2 L1270.4 738.9 L1272.4 738.6 L1274.4 738.3 L1276.4 738.0 L1278.4 737.7 L1280.3 737.5 L1282.3 737.2 L1284.3 736.9 L1286.3 736.6 L1288.3 736.3 L1290.2 736.0 L1292.2 735.7 L1294.2 735.5 L1296.2 735.2 L1298.2 734.9 L1300.1 734.6 L1302.1 734.4 L1304.1 734.1 L1306.1 733.8 L1308.1 733.5 L1310.1 733.3 L1312.0 733.0 L1314.0 732.7 L1316.0 732.5 L1318.0 732.2 L1320.0 732.0 L1321.9 731.7 L1323.9 731.4 L1325.9 731.2 L1327.9 731.0 L1329.9 730.7 L1331.9 730.5 L1333.9 730.3 L1335.8 730.0 L1337.8 729.8 L1339.8 729.6 L1341.8 729.4 L1343.8 729.2 L1345.8 729.0 L1347.8 728.8 L1349.8 728.6 L1351.8 728.4 L1353.8 728.2 L1355.7 728.0 L1357.7 727.9 L1359.7 727.7 L1361.7 727.5 L1363.7 727.4 L1365.7 727.2 L1367.7 727.1 L1369.7 727.0 L1371.7 726.9 L1373.7 726.7 L1375.7 726.6 L1377.7 726.5 L1379.7 726.4 L1381.7 726.3 L1383.7 726.3 L1385.7 726.2 L1387.7 726.1 L1389.7 726.0 L1391.7 725.9 L1393.7 725.8 L1395.7 725.7 L1397.7 725.7 L1399.7 725.6 L1401.7 725.5 L1403.7 725.4 L1405.7 725.4 L1407.7 725.3 L1409.7 725.2 L1411.7 725.1 L1413.7 725.1 L1415.7 725.0 L1417.7 724.9 L1419.7 724.8 L1421.7 724.8 L1423.7 724.7 L1425.7 724.6 L1427.7 724.6 L1429.7 724.5 L1431.7 724.4 L1433.7 724.4 L1435.6 724.3 L1437.6 724.2 L1439.6 724.2 L1441.6 724.1 L1443.6 724.1 L1445.6 724.0 L1447.6 723.9 L1449.6 723.9 L1451.6 723.8 L1453.6 723.8 L1455.6 723.7 L1457.6 723.7 L1459.6 723.6 L1461.6 723.6 L1463.6 723.5 L1465.6 723.5 L1467.6 723.4 L1469.6 723.4 L1471.6 723.4 L1473.6 723.3 L1475.6 723.3 L1477.6 723.2 L1479.6 723.2 L1481.6 723.2 L1483.6 723.1 L1485.6 723.1 L1487.6 723.1 L1489.6 723.0 L1491.6 723.0 L1493.6 723.0 L1495.6 723.0 L1497.6 722.9 L1499.6 722.9 L1501.6 722.9 L1503.6 722.9 L1505.6 722.9 L1507.6 722.9 L1509.6 722.8 L1511.6 722.8 L1513.6 722.8 L1515.6 722.8 L1517.6 722.8 L1519.6 722.8 L1521.6 722.8 L1523.6 722.8 L1525.6 722.8 L1527.6 722.8 L1529.6 722.8 L1531.6 722.8 L1533.6 722.8 L1535.6 722.8 L1537.6 722.8 L1539.6 722.8 L1541.6 722.9 L1543.6 722.9 L1545.6 722.9 L1547.6 722.9 L1549.6 722.9 L1551.6 723.0 L1553.6 723.0 L1555.6 723.0 L1557.6 723.1 L1559.6 723.1 L1561.6 723.1 L1563.6 723.2 L1565.6 723.2 L1567.6 723.2 L1569.5 723.3 L1571.3 723.3 L1573.0 723.4 L1574.5 723.4 L1575.7 723.4 L1578.7 723.5 L1578.7 723.5" stroke="#FF00FF"/>
<path d="M685.6 812.8 L689.1 813.1 L690.5 813.2 L692.1 813.3 L693.8 813.5 L695.7 813.7 L697.6 813.8 L699.6 814.0 L701.6 814.1 L703.5 814.3 L705.5 814.5 L707.5 814.6 L709.5 814.8 L711.5 815.0 L713.5 815.1 L715.5 815.3 L717.5 815.5 L719.5 815.6 L721.5 815.8 L723.5 815.9 L725.5 816.1 L727.5 816.2 L729.5 816.4 L731.4 816.6 L733.4 816.7 L735.4 816.9 L737.4 817.0 L739.4 817.2 L741.4 817.3 L743.4 817.5 L745.4 817.6 L747.4 817.7 L749.4 817.9 L751.4 818.0 L753.4 818.2 L755.4 818.3 L757.4 818.4 L759.4 818.6 L761.4 818.7 L763.4 818.8 L765.4 819.0 L767.4 819.1 L769.4 819.2 L771.3 819.3 L773.3 819.4 L775.3 819.6 L777.3 819.7 L779.3 819.8 L781.3 819.9 L783.3 820.0 L785.3 820.1 L787.3 820.2 L789.3 820.3 L791.3 820.4 L793.3 820.5 L795.3 820.6 L797.3 820.7 L799.3 820.8 L801.3 820.9 L803.3 821.0 L805.3 821.1 L807.3 821.2 L809.3 821.2 L811.3 821.3 L813.3 821.4 L815.3 821.5 L817.3 821.6 L819.3 821.7 L821.3 821.7 L823.3 821.8 L825.3 821.9 L827.3 822.0 L829.3 822.0 L831.3 822.1 L833.3 822.2 L835.3 822.3 L837.3 822.3 L839.3 822.4 L841.3 822.5 L843.3 822.5 L845.3 822.6 L847.3 822.7 L849.3 822.8 L851.3 822.8 L853.3 822.9 L855.3 823.0 L857.3 823.0 L859.3 823.1 L861.3 823.2 L863.3 823.2 L865.3 823.3 L867.3 823.4 L869.3 823.4 L871.3 823.5 L873.3 823.6 L875.3 823.6 L877.3 823.7 L879.3 823.8 L881.3 823.8 L883.3 823.9 L885.3 824.0 L887.3 824.0 L889.2 824.1 L891.2 824.2 L893.2 824.2 L895.2 824.3 L897.2 824.4 L899.2 824.4 L901.2 824.5 L903.2 824.6 L905.2 824.6 L907.2 824.7 L909.2 824.8 L911.2 824.9 L913.2 824.9 L915.2 825.0 L917.2 825.1 L919.2 825.2 L921.2 825.2 L923.2 825.3 L925.2 825.4 L927.2 825.5 L929.2 825.6 L931.2 825.7 L933.2 825.7 L935.2 825.8 L937.2 825.9 L939.2 826.0 L941.2 826.1 L943.2 826.2 L945.2 826.3 L947.2 826.4 L949.2 826.5 L951.2 826.6 L953.2 826.7 L955.2 826.8 L957.2 826.9 L959.2 827.1 L961.2 827.2 L963.2 827.3 L965.2 827.4 L967.2 827.6 L969.2 827.7 L971.2 827.8 L973.2 828.0 L975.1 828.1 L977.1 828.3 L979.1 828.5 L981.1 828.7 L983.1 829.0 L985.1 829.3 L987.0 829.6 L989.0 830.0 L990.9 830.5 L992.8 831.0 L994.8 831.5 L996.7 832.1 L998.6 832.7 L1000.5 833.4 L1002.3 834.1 L1004.2 834.8 L1006.1 835.5 L1007.9 836.3 L1009.8 837.1 L1011.6 837.8 L1013.4 838.6 L1015.3 839.4 L1017.1 840.3 L1018.9 841.1 L1020.7 841.9 L1022.5 842.8 L1024.3 843.7 L1026.0 844.7 L1027.8 845.6 L1029.5 846.7 L1031.2 847.7 L1032.8 848.8 L1034.5 850.0 L1036.1 851.1 L1037.7 852.3 L1039.3 853.5 L1040.9 854.8 L1042.4 856.1 L1043.9 857.3 L1045.4 858.6 L1047.0 860.0 L1048.4 861.3 L1049.9 862.6 L1051.4 864.0 L1052.9 865.3 L1054.3 866.7 L1055.8 868.1 L1057.2 869.5 L1058.7 870.9 L1060.1 872.2 L1061.5 873.7 L1062.9 875.1 L1064.3 876.5 L1065.7 877.9 L1067.1 879.4 L1068.4 880.9 L1069.8 882.4 L1071.1 883.9 L1072.4 885.4 L1073.6 886.9 L1074.9 888.5 L1076.1 890.1 L1077.3 891.7 L1078.5 893.3 L1079.7 894.9 L1080.9 896.5 L1082.1 898.1 L1083.2 899.7 L1084.4 901.4 L1085.5 903.0 L1086.7 904.7 L1087.8 906.3 L1088.9 908.0 L1090.0 909.6 L1091.2 911.3 L1092.3 912.9 L1093.4 914.6 L1094.4 916.3 L1095.5 918.0 L1096.6 919.7 L1097.6 921.4 L1098.7 923.1 L1099.7 924.8 L1100.7 926.5 L1101.7 928.3 L1102.7 930.0 L1103.7 931.7 L1104.7 933.5 L1105.6 935.2 L1106.6 937.0 L1107.5 938.7 L1108.5 940.5 L1109.4 942.3 L1110.4 944.0 L1111.3 945.8 L1112.2 947.6 L1113.1 949.4 L1114.0 951.1 L1114.9 952.9 L1115.8 954.7 L1116.7 956.5 L1117.5 958.3 L1118.3 960.2 L1119.2 962.0 L1120.0 963.8 L1120.8 965.6 L1121.6 967.5 L1122.4 969.3 L1123.2 971.1 L1124.0 973.0 L1124.8 974.8 L1125.6 976.6 L1126.5 978.4 L1127.3 980.2 L1128.2 982.0 L1129.1 983.8 L1130.0 985.6 L1130.9 987.4 L1131.8 989.2 L1132.7 990.9 L1133.7 992.7 L1134.6 994.5 L1135.6 996.2 L1136.6 997.9 L1137.7 999.6 L1138.8 1001.2 L1140.0 1002.7 L1141.2 1004.0 L1142.6 1005.1 L1144.1 1006.0 L1145.6 1006.5 L1147.2 1006.7 L1148.8 1006.5 L1150.3 1005.9 L1151.8 1005.1 L1153.3 1004.0 L1154.7 1002.7 L1156.0 1001.3 L1157.2 999.7 L1158.4 998.2 L1159.6 996.5 L1160.7 994.9 L1161.8 993.2 L1162.8 991.5 L1163.9 989.8 L1164.9 988.1 L1165.9 986.4 L1166.8 984.6 L1167.8 982.9 L1168.7 981.1 L1169.6 979.3 L1170.5 977.5 L1171.4 975.7 L1172.3 973.9 L1173.2 972.1 L1174.0 970.3 L1174.9 968.5 L1175.8 966.7 L1176.6 964.9 L1177.4 963.1 L1178.3 961.3 L1179.1 959.5 L1180.0 957.7 L1180.8 955.8 L1181.7 954.0 L1182.5 952.2 L1183.4 950.4 L1184.2 948.6 L1185.1 946.8 L1185.9 945.0 L1186.7 943.1 L1187.6 941.3 L1188.4 939.5 L1189.2 937.7 L1190.0 935.8 L1190.8 934.0 L1191.6 932.2 L1192.4 930.3 L1193.2 928.5 L1194.0 926.7 L1194.8 924.8 L1195.6 923.0 L1196.4 921.2 L1197.3 919.4 L1198.1 917.6 L1199.0 915.8 L1199.9 914.0 L1200.8 912.2 L1201.8 910.5 L1202.8 908.7 L1203.8 907.0 L1204.8 905.3 L1205.9 903.6 L1207.0 901.9 L1208.1 900.2 L1209.2 898.6 L1210.3 896.9 L1211.4 895.3 L1212.6 893.7 L1213.8 892.1 L1215.0 890.5 L1216.2 888.9 L1217.4 887.3 L1218.7 885.8 L1220.0 884.3 L1221.3 882.8 L1222.7 881.3 L1224.1 879.9 L1225.5 878.5 L1227.0 877.2 L1228.5 875.9 L1230.1 874.6 L1231.6 873.4 L1233.3 872.2 L1234.9 871.1 L1236.5 870.0 L1238.2 868.8 L1239.9 867.7 L1241.6 866.7 L1243.3 865.6 L1244.9 864.5 L1246.7 863.5 L1248.4 862.5 L1250.1 861.5 L1251.8 860.5 L1253.6 859.5 L1255.3 858.6 L1257.1 857.6 L1258.9 856.8 L1260.7 855.9 L1262.5 855.1 L1264.4 854.3 L1266.2 853.5 L1268.1 852.8 L1270.0 852.2 L1271.8 851.5 L1273.8 850.9 L1275.7 850.3 L1277.6 849.8 L1279.5 849.3 L1281.4 848.7 L1283.4 848.2 L1285.3 847.7 L1287.2 847.2 L1289.2 846.7 L1291.1 846.2 L1293.0 845.7 L1295.0 845.2 L1296.9 844.7 L1298.9 844.2 L1300.8 843.8 L1302.8 843.3 L1304.7 842.9 L1306.7 842.4 L1308.6 842.0 L1310.6 841.6 L1312.5 841.2 L1314.5 840.8 L1316.5 840.4 L1318.4 840.1 L1320.4 839.7 L1322.4 839.4 L1324.3 839.1 L1326.3 838.7 L1328.3 838.4 L1330.3 838.2 L1332.2 837.9 L1334.2 837.6 L1336.2 837.3 L1338.2 837.0 L1340.2 836.8 L1342.2 836.5 L1344.1 836.2 L1346.1 836.0 L1348.1 835.7 L1350.1 835.5 L1352.1 835.2 L1354.1 835.0 L1356.0 834.7 L1358.0 834.5 L1360.0 834.3 L1362.0 834.0 L1364.0 833.8 L1366.0 833.6 L1368.0 833.5 L1370.0 833.3 L1372.0 833.1 L1374.0 833.0 L1375.9 832.9 L1377.9 832.8 L1379.9 832.6 L1381.9 832.5 L1383.9 832.5 L1385.9 832.4 L1387.9 832.3 L1389.9 832.2 L1391.9 832.1 L1393.9 832.1 L1395.9 832.0 L1397.9 831.9 L1399.9 831.8 L1401.9 831.8 L1403.9 831.7 L1405.9 831.6 L1407.9 831.6 L1409.9 831.5 L1411.9 831.4 L1413.9 831.4 L1415.9 831.3 L1417.9 831.3 L1419.9 831.2 L1421.9 831.2 L1423.9 831.1 L1425.9 831.1 L1427.9 831.0 L1429.9 831.0 L1431.9 830.9 L1433.9 830.9 L1435.9 830.8 L1437.9 830.8 L1439.9 830.7 L1441.9 830.7 L1443.9 830.6 L1445.9 830.6 L1447.9 830.6 L1449.9 830.5 L1451.9 830.5 L1453.9 830.5 L1455.9 830.4 L1457.9 830.4 L1459.9 830.4 L1461.9 830.4 L1463.9 830.3 L1465.9 830.3 L1467.9 830.3 L1469.9 830.3 L1471.9 830.3 L1473.9 830.3 L1475.9 830.2 L1477.9 830.2 L1479.9 830.2 L1481.9 830.2 L1483.9 830.2 L1485.9 830.2 L1487.9 830.2 L1489.9 830.2 L1491.9 830.2 L1493.9 830.2 L1495.9 830.2 L1497.9 830.2 L1499.9 830.2 L1501.9 830.2 L1503.9 830.2 L1505.9 830.2 L1507.9 830.2 L1509.9 830.2 L1511.9 830.2 L1513.9 830.3 L1515.9 830.3 L1517.9 830.3 L1519.9 830.3 L1521.9 830.3 L1523.9 830.4 L1525.9 830.4 L1527.9 830.4 L1529.9 830.4 L1531.9 830.5 L1533.9 830.5 L1535.9 830.5 L1537.9 830.6 L1539.9 830.6 L1541.9 830.6 L1543.9 830.7 L1545.9 830.7 L1547.9 830.7 L1549.9 830.8 L1551.9 830.8 L1553.9 830.9 L1555.9 830.9 L1557.9 831.0 L1559.9 831.0 L1561.9 831.1 L1563.9 831.1 L1565.9 831.2 L1567.9 831.3 L1569.9 831.3 L1571.9 831.4 L1573.9 831.4 L1575.9 831.5 L1577.8 831.6 L1579.8 831.6 L1581.6 831.7 L1583.4 831.8 L1585.0 831.8 L1586.4 831.9 L1587.6 831.9 L1590.0 832.0" stroke="#800000"/>
<path d="M852.7 929.3 L856.2 929.4 L857.6 929.4 L859.2 929.4 L860.9 929.5 L862.8 929.5 L864.7 929.6 L866.7 929.6 L868.7 929.7 L870.7 929.8 L872.7 929.8 L874.7 929.9 L876.7 930.0 L878.7 930.0 L880.7 930.1 L882.7 930.2 L884.7 930.3 L886.7 930.4 L888.7 930.4 L890.7 930.5 L892.7 930.6 L894.7 930.7 L896.7 930.8 L898.7 930.9 L900.7 931.0 L902.7 931.1 L904.7 931.2 L906.7 931.3 L908.7 931.4 L910.7 931.5 L912.7 931.6 L914.7 931.7 L916.6 931.8 L918.6 931.9 L920.6 932.0 L922.6 932.1 L924.6 932.2 L926.6 932.3 L928.6 932.4 L930.6 932.6 L932.6 932.7 L934.6 932.8 L936.6 932.9 L938.6 933.0 L940.6 933.1 L942.6 933.2 L944.6 933.3 L946.6 933.4 L948.6 933.5 L950.6 933.6 L952.6 933.8 L954.6 933.9 L956.6 934.0 L958.6 934.1 L960.6 934.3 L962.6 934.4 L964.6 934.6 L966.6 934.8 L968.5 935.0 L970.5 935.2 L972.5 935.4 L974.5 935.6 L976.5 935.8 L978.5 936.0 L980.5 936.2 L982.5 936.5 L984.4 936.8 L986.4 937.1 L988.4 937.4 L990.4 937.7 L992.3 938.1 L994.3 938.5 L996.2 938.9 L998.2 939.4 L1000.1 939.8 L1002.1 940.3 L1004.0 940.8 L1005.9 941.3 L1007.9 941.8 L1009.8 942.3 L1011.7 942.9 L1013.6 943.4 L1015.6 944.0 L1017.5 944.6 L1019.4 945.2 L1021.3 945.8 L1023.2 946.5 L1025.0 947.2 L1026.9 948.0 L1028.7 948.8 L1030.5 949.6 L1032.3 950.5 L1034.0 951.5 L1035.8 952.5 L1037.5 953.5 L1039.2 954.6 L1040.8 955.6 L1042.5 956.8 L1044.1 957.9 L1045.7 959.1 L1047.3 960.3 L1048.9 961.5 L1050.5 962.7 L1052.1 964.0 L1053.6 965.2 L1055.2 966.5 L1056.7 967.8 L1058.2 969.0 L1059.8 970.3 L1061.3 971.6 L1062.8 973.0 L1064.3 974.3 L1065.7 975.7 L1067.2 977.1 L1068.6 978.5 L1070.0 979.9 L1071.3 981.4 L1072.7 982.8 L1074.0 984.3 L1075.3 985.9 L1076.6 987.4 L1077.8 989.0 L1079.1 990.5 L1080.3 992.1 L1081.5 993.7 L1082.7 995.3 L1083.9 996.9 L1085.1 998.5 L1086.3 1000.1 L1087.5 1001.7 L1088.6 1003.3 L1089.8 1005.0 L1091.0 1006.6 L1092.1 1008.2 L1093.3 1009.9 L1094.4 1011.5 L1095.6 1013.1 L1096.7 1014.8 L1097.8 1016.4 L1099.0 1018.1 L1100.1 1019.7 L1101.2 1021.4 L1102.2 1023.1 L1103.3 1024.8 L1104.3 1026.5 L1105.4 1028.2 L1106.4 1029.9 L1107.4 1031.7 L1108.4 1033.4 L1109.4 1035.1 L1110.4 1036.8 L1111.4 1038.6 L1112.5 1040.3 L1113.5 1042.0 L1114.5 1043.7 L1115.5 1045.4 L1116.6 1047.2 L1117.6 1048.9 L1118.7 1050.5 L1119.8 1052.2 L1120.9 1053.9 L1122.0 1055.5 L1123.1 1057.2 L1124.3 1058.8 L1125.5 1060.4 L1126.7 1062.0 L1127.9 1063.6 L1129.1 1065.2 L1130.4 1066.7 L1131.6 1068.3 L1132.9 1069.8 L1134.3 1071.3 L1135.6 1072.7 L1137.0 1074.1 L1138.5 1075.5 L1140.0 1076.7 L1141.6 1077.8 L1143.2 1078.7 L1144.9 1079.4 L1146.7 1079.8 L1148.5 1080.0 L1150.3 1079.9 L1152.0 1079.5 L1153.8 1078.9 L1155.5 1078.1 L1157.1 1077.1 L1158.6 1075.9 L1160.1 1074.6 L1161.5 1073.3 L1162.9 1071.9 L1164.3 1070.4 L1165.6 1068.9 L1166.9 1067.4 L1168.1 1065.8 L1169.4 1064.2 L1170.6 1062.7 L1171.8 1061.0 L1172.9 1059.4 L1174.0 1057.8 L1175.2 1056.1 L1176.2 1054.4 L1177.3 1052.7 L1178.3 1051.0 L1179.3 1049.3 L1180.3 1047.6 L1181.3 1045.8 L1182.3 1044.1 L1183.2 1042.3 L1184.2 1040.6 L1185.2 1038.8 L1186.1 1037.0 L1187.1 1035.3 L1188.0 1033.5 L1189.0 1031.8 L1189.9 1030.0 L1190.9 1028.3 L1191.9 1026.5 L1192.9 1024.8 L1193.9 1023.1 L1194.9 1021.3 L1195.9 1019.6 L1196.9 1017.9 L1198.0 1016.2 L1199.0 1014.5 L1200.1 1012.8 L1201.2 1011.1 L1202.2 1009.4 L1203.3 1007.7 L1204.3 1006.0 L1205.4 1004.3 L1206.5 1002.6 L1207.5 1000.9 L1208.6 999.2 L1209.7 997.6 L1210.8 995.9 L1211.9 994.2 L1213.0 992.6 L1214.1 990.9 L1215.3 989.3 L1216.4 987.7 L1217.7 986.1 L1218.9 984.5 L1220.2 983.0 L1221.5 981.5 L1222.9 980.1 L1224.3 978.7 L1225.8 977.4 L1227.3 976.1 L1228.9 974.8 L1230.4 973.6 L1232.0 972.4 L1233.7 971.3 L1235.3 970.1 L1237.0 969.1 L1238.7 968.0 L1240.4 967.0 L1242.1 966.0 L1243.9 965.0 L1245.7 964.1 L1247.4 963.2 L1249.3 962.4 L1251.1 961.6 L1253.0 960.9 L1254.8 960.2 L1256.7 959.6 L1258.6 959.0 L1260.5 958.4 L1262.5 957.9 L1264.4 957.4 L1266.3 956.9 L1268.3 956.5 L1270.2 956.0 L1272.2 955.6 L1274.1 955.1 L1276.1 954.7 L1278.0 954.2 L1280.0 953.8 L1281.9 953.4 L1283.9 952.9 L1285.9 952.5 L1287.8 952.1 L1289.8 951.7 L1291.7 951.3 L1293.7 950.9 L1295.7 950.6 L1297.6 950.2 L1299.6 949.8 L1301.6 949.5 L1303.5 949.2 L1305.5 948.8 L1307.5 948.5 L1309.5 948.2 L1311.4 947.9 L1313.4 947.6 L1315.4 947.4 L1317.4 947.1 L1319.4 946.8 L1321.3 946.6 L1323.3 946.3 L1325.3 946.0 L1327.3 945.8 L1329.3 945.5 L1331.3 945.3 L1333.2 945.0 L1335.2 944.7 L1337.2 944.5 L1339.2 944.2 L1341.2 944.0 L1343.2 943.7 L1345.1 943.5 L1347.1 943.2 L1349.1 943.0 L1351.1 942.8 L1353.1 942.5 L1355.1 942.3 L1357.1 942.1 L1359.1 941.9 L1361.0 941.7 L1363.0 941.5 L1365.0 941.3 L1367.0 941.2 L1369.0 941.0 L1371.0 940.9 L1373.0 940.7 L1375.0 940.6 L1377.0 940.5 L1379.0 940.4 L1381.0 940.3 L1383.0 940.2 L1385.0 940.1 L1387.0 940.0 L1389.0 940.0 L1391.0 939.9 L1393.0 939.8 L1395.0 939.7 L1397.0 939.7 L1399.0 939.6 L1401.0 939.5 L1403.0 939.5 L1405.0 939.4 L1407.0 939.4 L1409.0 939.3 L1411.0 939.3 L1413.0 939.2 L1415.0 939.2 L1417.0 939.1 L1419.0 939.1 L1421.0 939.0 L1423.0 939.0 L1425.0 939.0 L1427.0 938.9 L1429.0 938.9 L1431.0 938.9 L1433.0 938.8 L1435.0 938.8 L1437.0 938.8 L1439.0 938.8 L1441.0 938.7 L1443.0 938.7 L1445.0 938.7 L1447.0 938.7 L1449.0 938.7 L1451.0 938.7 L1453.0 938.7 L1455.0 938.7 L1457.0 938.6 L1459.0 938.6 L1461.0 938.6 L1463.0 938.6 L1465.0 938.6 L1467.0 938.6 L1469.0 938.7 L1471.0 938.7 L1473.0 938.7 L1475.0 938.7 L1477.0 938.7 L1479.0 938.7 L1481.0 938.7 L1483.0 938.7 L1485.0 938.8 L1487.0 938.8 L1489.0 938.8 L1491.0 938.8 L1493.0 938.9 L1495.0 938.9 L1497.0 938.9 L1499.0 939.0 L1501.0 939.0 L1503.0 939.0 L1505.0 939.1 L1507.0 939.1 L1509.0 939.1 L1511.0 939.2 L1513.0 939.2 L1515.0 939.3 L1517.0 939.3 L1519.0 939.4 L1521.0 939.4 L1523.0 939.5 L1525.0 939.5 L1527.0 939.6 L1529.0 939.6 L1531.0 939.7 L1533.0 939.8 L1534.9 939.8 L1536.9 939.9 L1538.9 940.0 L1540.9 940.0 L1542.9 940.1 L1544.9 940.2 L1546.9 940.2 L1548.9 940.3 L1550.9 940.4 L1552.9 940.4 L1554.9 940.5 L1556.9 940.6 L1558.9 940.7 L1560.9 940.8 L1562.9 940.8 L1564.9 940.9 L1566.9 941.0 L1568.9 941.1 L1570.9 941.2 L1572.8 941.3 L1574.8 941.4 L1576.6 941.4 L1578.3 941.5 L1579.8 941.6 L1581.0 941.7 L1584.0 941.8 L1584.0 941.8" stroke="#8000FF"/>
<path d="M689.0 1039.8 L692.5 1040.1 L693.9 1040.2 L695.5 1040.3 L697.2 1040.5 L699.1 1040.6 L701.0 1040.8 L703.0 1040.9 L705.0 1041.1 L706.9 1041.2 L708.9 1041.4 L710.9 1041.5 L712.9 1041.7 L714.9 1041.8 L716.9 1042.0 L718.9 1042.1 L720.9 1042.3 L722.9 1042.4 L724.9 1042.6 L726.9 1042.7 L728.9 1042.9 L730.9 1043.0 L732.9 1043.2 L734.9 1043.3 L736.9 1043.5 L738.9 1043.6 L740.8 1043.8 L742.8 1043.9 L744.8 1044.0 L746.8 1044.2 L748.8 1044.3 L750.8 1044.5 L752.8 1044.6 L754.8 1044.7 L756.8 1044.9 L758.8 1045.0 L760.8 1045.1 L762.8 1045.2 L764.8 1045.4 L766.8 1045.5 L768.8 1045.6 L770.8 1045.7 L772.8 1045.9 L774.8 1046.0 L776.8 1046.1 L778.8 1046.2 L780.8 1046.3 L782.8 1046.4 L784.8 1046.5 L786.8 1046.6 L788.8 1046.7 L790.8 1046.8 L792.8 1046.9 L794.7 1047.0 L796.7 1047.1 L798.7 1047.2 L800.7 1047.3 L802.7 1047.4 L804.7 1047.5 L806.7 1047.6 L808.7 1047.7 L810.7 1047.7 L812.7 1047.8 L814.7 1047.9 L816.7 1048.0 L818.7 1048.0 L820.7 1048.1 L822.7 1048.2 L824.7 1048.2 L826.7 1048.3 L828.7 1048.3 L830.7 1048.4 L832.7 1048.5 L834.7 1048.5 L836.7 1048.6 L838.7 1048.6 L840.7 1048.7 L842.7 1048.7 L844.7 1048.8 L846.7 1048.8 L848.7 1048.9 L850.7 1048.9 L852.7 1049.0 L854.7 1049.0 L856.7 1049.1 L858.7 1049.1 L860.7 1049.2 L862.7 1049.2 L864.7 1049.3 L866.7 1049.3 L868.7 1049.4 L870.7 1049.4 L872.7 1049.5 L874.7 1049.5 L876.7 1049.6 L878.7 1049.7 L880.7 1049.7 L882.7 1049.8 L884.7 1049.8 L886.7 1049.9 L888.7 1050.0 L890.7 1050.0 L892.7 1050.1 L894.7 1050.2 L896.7 1050.2 L898.7 1050.3 L900.7 1050.4 L902.7 1050.5 L904.7 1050.5 L906.7 1050.6 L908.7 1050.7 L910.7 1050.8 L912.7 1050.9 L914.7 1051.0 L916.7 1051.1 L918.7 1051.2 L920.7 1051.3 L922.7 1051.4 L924.7 1051.5 L926.7 1051.6 L928.7 1051.7 L930.7 1051.8 L932.7 1052.0 L934.6 1052.1 L936.6 1052.2 L938.6 1052.3 L940.6 1052.5 L942.6 1052.6 L944.6 1052.7 L946.6 1052.8 L948.6 1053.0 L950.6 1053.1 L952.6 1053.2 L954.6 1053.4 L956.6 1053.5 L958.6 1053.6 L960.6 1053.8 L962.6 1053.9 L964.6 1054.0 L966.6 1054.2 L968.6 1054.3 L970.6 1054.4 L972.6 1054.5 L974.6 1054.7 L976.6 1054.8 L978.6 1054.9 L980.6 1055.0 L982.6 1055.1 L984.5 1055.2 L986.5 1055.4 L988.5 1055.5 L990.5 1055.6 L992.5 1055.7 L994.5 1055.8 L996.5 1055.8 L998.5 1055.9 L1000.5 1056.0 L1002.5 1056.1 L1004.5 1056.2 L1006.5 1056.3 L1008.5 1056.4 L1010.5 1056.5 L1012.5 1056.6 L1014.5 1056.7 L1016.5 1056.8 L1018.5 1056.9 L1020.5 1057.0 L1022.5 1057.1 L1024.5 1057.2 L1026.5 1057.3 L1028.5 1057.4 L1030.5 1057.5 L1032.5 1057.6 L1034.5 1057.8 L1036.5 1057.9 L1038.5 1058.1 L1040.5 1058.3 L1042.4 1058.6 L1044.4 1058.8 L1046.4 1059.1 L1048.4 1059.4 L1050.3 1059.8 L1052.3 1060.2 L1054.3 1060.5 L1056.2 1060.9 L1058.2 1061.4 L1060.1 1061.8 L1062.1 1062.3 L1064.0 1062.7 L1066.0 1063.2 L1067.9 1063.7 L1069.8 1064.2 L1071.8 1064.7 L1073.7 1065.2 L1075.6 1065.7 L1077.6 1066.3 L1079.5 1066.8 L1081.4 1067.5 L1083.2 1068.1 L1085.1 1068.8 L1087.0 1069.6 L1088.8 1070.3 L1090.6 1071.2 L1092.4 1072.1 L1094.2 1073.0 L1095.9 1073.9 L1097.7 1074.9 L1099.4 1075.8 L1101.2 1076.8 L1102.9 1077.9 L1104.6 1078.9 L1106.3 1080.0 L1108.0 1081.0 L1109.7 1082.1 L1111.3 1083.2 L1113.0 1084.3 L1114.6 1085.5 L1116.2 1086.7 L1117.7 1087.9 L1119.3 1089.2 L1120.7 1090.6 L1122.2 1091.9 L1123.6 1093.4 L1124.9 1094.8 L1126.3 1096.3 L1127.6 1097.8 L1128.9 1099.4 L1130.1 1100.9 L1131.3 1102.5 L1132.6 1104.1 L1133.8 1105.7 L1134.9 1107.3 L1136.1 1108.9 L1137.2 1110.5 L1138.4 1112.2 L1139.5 1113.9 L1140.5 1115.6 L1141.6 1117.3 L1142.6 1119.0 L1143.5 1120.7 L1144.5 1122.5 L1145.4 1124.3 L1146.2 1126.1 L1147.1 1127.9 L1147.9 1129.7 L1148.7 1131.5 L1149.5 1133.4 L1150.3 1135.2 L1151.1 1137.0 L1151.9 1138.9 L1152.6 1140.7 L1153.4 1142.6 L1154.1 1144.5 L1154.9 1146.3 L1155.6 1148.2 L1156.3 1150.0 L1157.0 1151.9 L1157.7 1153.8 L1158.4 1155.7 L1159.1 1157.5 L1159.7 1159.4 L1160.4 1161.3 L1161.0 1163.2 L1161.7 1165.1 L1162.3 1167.0 L1162.9 1168.9 L1163.6 1170.8 L1164.2 1172.7 L1164.8 1174.6 L1165.4 1176.5 L1166.0 1178.4 L1166.6 1180.3 L1167.2 1182.2 L1167.8 1184.1 L1168.4 1186.0 L1169.0 1188.0 L1169.6 1189.9 L1170.2 1191.8 L1170.8 1193.7 L1171.4 1195.6 L1172.0 1197.5 L1172.6 1199.4 L1173.2 1201.3 L1173.8 1203.2 L1174.3 1205.2 L1174.9 1207.1 L1175.5 1209.0 L1176.0 1210.9 L1176.6 1212.8 L1177.2 1214.7 L1177.7 1216.7 L1178.3 1218.6 L1178.9 1220.5 L1179.5 1222.4 L1180.1 1224.3 L1180.7 1226.2 L1181.3 1228.1 L1182.0 1230.0 L1182.6 1231.9 L1183.3 1233.8 L1184.0 1235.6 L1184.7 1237.5 L1185.4 1239.4 L1186.2 1241.2 L1186.9 1243.1 L1187.7 1244.9 L1188.4 1246.8 L1189.2 1248.6 L1190.1 1250.4 L1190.9 1252.2 L1191.8 1254.0 L1192.8 1255.7 L1193.8 1257.3 L1194.9 1258.8 L1196.1 1260.1 L1197.4 1261.1 L1198.8 1261.8 L1200.3 1262.1 L1201.8 1262.0 L1203.2 1261.5 L1204.7 1260.7 L1206.0 1259.6 L1207.2 1258.3 L1208.4 1256.8 L1209.5 1255.2 L1210.5 1253.5 L1211.5 1251.7 L1212.4 1250.0 L1213.3 1248.2 L1214.2 1246.4 L1215.0 1244.6 L1215.9 1242.8 L1216.6 1240.9 L1217.4 1239.1 L1218.1 1237.2 L1218.9 1235.4 L1219.6 1233.5 L1220.2 1231.6 L1220.9 1229.7 L1221.6 1227.8 L1222.2 1225.9 L1222.9 1224.0 L1223.5 1222.2 L1224.1 1220.3 L1224.7 1218.4 L1225.4 1216.5 L1226.0 1214.6 L1226.6 1212.7 L1227.2 1210.8 L1227.9 1208.9 L1228.5 1207.0 L1229.2 1205.1 L1229.8 1203.2 L1230.5 1201.3 L1231.1 1199.4 L1231.8 1197.5 L1232.5 1195.6 L1233.2 1193.8 L1233.9 1191.9 L1234.5 1190.0 L1235.2 1188.1 L1235.9 1186.2 L1236.6 1184.4 L1237.3 1182.5 L1238.0 1180.6 L1238.6 1178.7 L1239.3 1176.8 L1240.0 1175.0 L1240.7 1173.1 L1241.4 1171.2 L1242.1 1169.3 L1242.8 1167.5 L1243.5 1165.6 L1244.3 1163.7 L1245.0 1161.9 L1245.8 1160.0 L1246.5 1158.2 L1247.3 1156.3 L1248.1 1154.5 L1248.9 1152.7 L1249.7 1150.9 L1250.6 1149.0 L1251.4 1147.2 L1252.3 1145.4 L1253.2 1143.7 L1254.1 1141.9 L1255.0 1140.1 L1255.9 1138.3 L1256.9 1136.5 L1257.8 1134.8 L1258.8 1133.0 L1259.7 1131.3 L1260.7 1129.5 L1261.7 1127.8 L1262.8 1126.1 L1263.8 1124.4 L1264.9 1122.7 L1266.0 1121.1 L1267.1 1119.4 L1268.3 1117.8 L1269.5 1116.2 L1270.7 1114.6 L1272.0 1113.1 L1273.3 1111.6 L1274.7 1110.1 L1276.1 1108.7 L1277.5 1107.3 L1278.9 1105.9 L1280.3 1104.5 L1281.8 1103.1 L1283.2 1101.8 L1284.7 1100.4 L1286.2 1099.1 L1287.8 1097.8 L1289.3 1096.6 L1290.9 1095.4 L1292.5 1094.2 L1294.2 1093.1 L1295.8 1092.0 L1297.5 1090.9 L1299.3 1089.9 L1301.0 1089.0 L1302.8 1088.1 L1304.6 1087.3 L1306.4 1086.4 L1308.3 1085.6 L1310.1 1084.9 L1311.9 1084.1 L1313.8 1083.4 L1315.7 1082.7 L1317.5 1082.0 L1319.4 1081.3 L1321.3 1080.7 L1323.2 1080.0 L1325.1 1079.4 L1327.0 1078.8 L1329.0 1078.3 L1330.9 1077.7 L1332.8 1077.2 L1334.7 1076.6 L1336.7 1076.1 L1338.6 1075.6 L1340.5 1075.0 L1342.4 1074.5 L1344.4 1074.0 L1346.3 1073.5 L1348.2 1072.9 L1350.2 1072.4 L1352.1 1071.9 L1354.0 1071.4 L1356.0 1070.9 L1357.9 1070.5 L1359.9 1070.0 L1361.8 1069.5 L1363.8 1069.1 L1365.7 1068.7 L1367.7 1068.3 L1369.6 1067.9 L1371.6 1067.6 L1373.6 1067.2 L1375.5 1066.9 L1377.5 1066.6 L1379.5 1066.3 L1381.5 1066.1 L1383.5 1065.8 L1385.5 1065.6 L1387.4 1065.4 L1389.4 1065.2 L1391.4 1065.0 L1393.4 1064.7 L1395.4 1064.5 L1397.4 1064.4 L1399.4 1064.2 L1401.4 1064.0 L1403.4 1063.8 L1405.4 1063.6 L1407.4 1063.5 L1409.3 1063.3 L1411.3 1063.2 L1413.3 1063.1 L1415.3 1062.9 L1417.3 1062.8 L1419.3 1062.7 L1421.3 1062.6 L1423.3 1062.5 L1425.3 1062.4 L1427.3 1062.3 L1429.3 1062.2 L1431.3 1062.1 L1433.3 1062.0 L1435.3 1061.9 L1437.3 1061.8 L1439.3 1061.7 L1441.3 1061.6 L1443.3 1061.5 L1445.3 1061.4 L1447.3 1061.3 L1449.3 1061.2 L1451.3 1061.1 L1453.3 1061.0 L1455.3 1060.9 L1457.3 1060.8 L1459.3 1060.8 L1461.3 1060.7 L1463.3 1060.6 L1465.3 1060.5 L1467.3 1060.4 L1469.3 1060.3 L1471.3 1060.2 L1473.3 1060.1 L1475.3 1060.1 L1477.3 1060.0 L1479.3 1059.9 L1481.3 1059.8 L1483.3 1059.7 L1485.3 1059.7 L1487.3 1059.6 L1489.3 1059.5 L1491.2 1059.5 L1493.2 1059.4 L1495.2 1059.3 L1497.2 1059.3 L1499.2 1059.2 L1501.2 1059.2 L1503.2 1059.1 L1505.2 1059.1 L1507.2 1059.0 L1509.2 1059.0 L1511.2 1058.9 L1513.2 1058.9 L1515.2 1058.9 L1517.2 1058.8 L1519.2 1058.8 L1521.2 1058.8 L1523.2 1058.8 L1525.2 1058.8 L1527.2 1058.7 L1529.2 1058.7 L1531.2 1058.7 L1533.2 1058.7 L1535.2 1058.7 L1537.2 1058.7 L1539.2 1058.7 L1541.2 1058.7 L1543.2 1058.7 L1545.2 1058.7 L1547.2 1058.7 L1549.2 1058.7 L1551.2 1058.7 L1553.2 1058.7 L1555.2 1058.8 L1557.2 1058.8 L1559.2 1058.8 L1561.2 1058.8 L1563.2 1058.8 L1565.2 1058.9 L1567.2 1058.9 L1569.2 1058.9 L1571.2 1058.9 L1573.2 1059.0 L1575.2 1059.0 L1577.2 1059.0 L1579.2 1059.1 L1581.1 1059.1 L1583.0 1059.1 L1584.7 1059.2 L1586.3 1059.2 L1587.6 1059.2 L1591.0 1059.3 L1591.0 1059.3" stroke="#CC33B0"/>
<path d="M852.7 1153.6 L856.2 1153.7 L857.6 1153.7 L859.2 1153.7 L861.0 1153.8 L862.8 1153.8 L864.7 1153.8 L866.7 1153.9 L868.7 1153.9 L870.7 1154.0 L872.7 1154.0 L874.7 1154.1 L876.7 1154.2 L878.7 1154.2 L880.7 1154.3 L882.7 1154.3 L884.7 1154.4 L886.7 1154.5 L888.7 1154.5 L890.7 1154.6 L892.7 1154.7 L894.7 1154.7 L896.7 1154.8 L898.7 1154.9 L900.7 1154.9 L902.7 1155.0 L904.7 1155.1 L906.7 1155.2 L908.7 1155.2 L910.7 1155.3 L912.7 1155.4 L914.7 1155.5 L916.7 1155.5 L918.7 1155.6 L920.7 1155.7 L922.7 1155.8 L924.7 1155.8 L926.7 1155.9 L928.7 1156.0 L930.7 1156.1 L932.7 1156.2 L934.7 1156.2 L936.7 1156.3 L938.7 1156.4 L940.7 1156.5 L942.6 1156.6 L944.6 1156.6 L946.6 1156.7 L948.6 1156.8 L950.6 1156.9 L952.6 1157.0 L954.6 1157.0 L956.6 1157.1 L958.6 1157.2 L960.6 1157.3 L962.6 1157.4 L964.6 1157.5 L966.6 1157.6 L968.6 1157.6 L970.6 1157.7 L972.6 1157.8 L974.6 1157.9 L976.6 1158.0 L978.6 1158.1 L980.6 1158.2 L982.6 1158.3 L984.6 1158.5 L986.6 1158.6 L988.6 1158.7 L990.6 1158.8 L992.6 1158.9 L994.6 1159.0 L996.6 1159.1 L998.6 1159.2 L1000.6 1159.4 L1002.6 1159.5 L1004.6 1159.6 L1006.6 1159.7 L1008.6 1159.8 L1010.6 1160.0 L1012.6 1160.1 L1014.6 1160.2 L1016.5 1160.3 L1018.5 1160.5 L1020.5 1160.6 L1022.5 1160.7 L1024.5 1160.8 L1026.5 1161.0 L1028.5 1161.1 L1030.5 1161.2 L1032.5 1161.4 L1034.5 1161.5 L1036.5 1161.6 L1038.5 1161.8 L1040.5 1161.9 L1042.5 1162.0 L1044.5 1162.1 L1046.5 1162.3 L1048.5 1162.4 L1050.5 1162.6 L1052.5 1162.7 L1054.5 1162.9 L1056.5 1163.1 L1058.4 1163.3 L1060.4 1163.5 L1062.4 1163.7 L1064.4 1163.9 L1066.4 1164.2 L1068.4 1164.4 L1070.4 1164.7 L1072.3 1165.0 L1074.3 1165.3 L1076.3 1165.6 L1078.3 1165.9 L1080.2 1166.2 L1082.2 1166.5 L1084.2 1166.8 L1086.2 1167.2 L1088.1 1167.5 L1090.1 1167.9 L1092.0 1168.3 L1094.0 1168.8 L1095.9 1169.3 L1097.8 1169.9 L1099.7 1170.5 L1101.6 1171.2 L1103.4 1171.9 L1105.3 1172.7 L1107.1 1173.5 L1108.9 1174.4 L1110.7 1175.3 L1112.4 1176.2 L1114.2 1177.2 L1115.9 1178.1 L1117.7 1179.1 L1119.4 1180.1 L1121.1 1181.1 L1122.9 1182.1 L1124.6 1183.2 L1126.2 1184.3 L1127.9 1185.4 L1129.5 1186.6 L1131.1 1187.8 L1132.6 1189.1 L1134.1 1190.4 L1135.5 1191.7 L1136.9 1193.1 L1138.3 1194.6 L1139.7 1196.1 L1141.0 1197.5 L1142.3 1199.1 L1143.6 1200.6 L1144.8 1202.2 L1146.0 1203.8 L1147.2 1205.4 L1148.3 1207.0 L1149.4 1208.7 L1150.4 1210.4 L1151.4 1212.1 L1152.3 1213.9 L1153.2 1215.7 L1154.1 1217.5 L1154.9 1219.3 L1155.7 1221.1 L1156.5 1223.0 L1157.3 1224.8 L1158.0 1226.7 L1158.8 1228.5 L1159.5 1230.4 L1160.2 1232.2 L1160.9 1234.1 L1161.6 1236.0 L1162.3 1237.9 L1163.0 1239.7 L1163.7 1241.6 L1164.3 1243.5 L1165.0 1245.4 L1165.6 1247.3 L1166.2 1249.2 L1166.8 1251.1 L1167.4 1253.0 L1168.0 1254.9 L1168.6 1256.8 L1169.2 1258.7 L1169.8 1260.7 L1170.4 1262.6 L1170.9 1264.5 L1171.5 1266.4 L1172.1 1268.3 L1172.6 1270.2 L1173.2 1272.2 L1173.8 1274.1 L1174.3 1276.0 L1174.9 1277.9 L1175.4 1279.8 L1176.0 1281.8 L1176.5 1283.7 L1177.1 1285.6 L1177.6 1287.5 L1178.2 1289.5 L1178.7 1291.4 L1179.3 1293.3 L1179.8 1295.2 L1180.3 1297.2 L1180.8 1299.1 L1181.4 1301.0 L1181.9 1303.0 L1182.4 1304.9 L1182.9 1306.8 L1183.5 1308.8 L1184.0 1310.7 L1184.5 1312.6 L1185.0 1314.5 L1185.6 1316.5 L1186.1 1318.4 L1186.6 1320.3 L1187.2 1322.2 L1187.7 1324.2 L1188.3 1326.1 L1188.8 1328.0 L1189.4 1329.9 L1190.0 1331.9 L1190.5 1333.8 L1191.1 1335.7 L1191.7 1337.6 L1192.2 1339.5 L1192.8 1341.4 L1193.4 1343.4 L1193.9 1345.3 L1194.5 1347.2 L1195.1 1349.1 L1195.7 1351.0 L1196.3 1352.9 L1196.9 1354.8 L1197.5 1356.7 L1198.1 1358.6 L1198.7 1360.5 L1199.4 1362.4 L1200.1 1364.3 L1200.8 1366.2 L1201.5 1368.0 L1202.3 1369.9 L1203.1 1371.7 L1204.0 1373.5 L1204.9 1375.2 L1205.9 1376.9 L1207.0 1378.4 L1208.1 1379.8 L1209.4 1381.0 L1210.8 1381.8 L1212.2 1382.4 L1213.7 1382.5 L1215.3 1382.3 L1216.8 1381.7 L1218.2 1380.7 L1219.6 1379.6 L1220.9 1378.2 L1222.1 1376.7 L1223.3 1375.1 L1224.4 1373.5 L1225.4 1371.8 L1226.3 1370.0 L1227.3 1368.3 L1228.1 1366.5 L1228.9 1364.7 L1229.7 1362.8 L1230.5 1361.0 L1231.2 1359.1 L1231.9 1357.2 L1232.5 1355.3 L1233.2 1353.5 L1233.8 1351.6 L1234.5 1349.7 L1235.1 1347.8 L1235.7 1345.9 L1236.3 1344.0 L1236.9 1342.0 L1237.5 1340.1 L1238.1 1338.2 L1238.7 1336.3 L1239.3 1334.4 L1239.9 1332.5 L1240.5 1330.6 L1241.1 1328.7 L1241.7 1326.8 L1242.3 1324.9 L1242.9 1323.0 L1243.5 1321.1 L1244.1 1319.1 L1244.7 1317.2 L1245.2 1315.3 L1245.8 1313.4 L1246.4 1311.5 L1246.9 1309.6 L1247.5 1307.6 L1248.0 1305.7 L1248.6 1303.8 L1249.2 1301.9 L1249.7 1300.0 L1250.3 1298.0 L1250.8 1296.1 L1251.4 1294.2 L1252.0 1292.3 L1252.5 1290.4 L1253.1 1288.4 L1253.7 1286.5 L1254.3 1284.6 L1254.9 1282.7 L1255.4 1280.8 L1256.0 1278.9 L1256.6 1277.0 L1257.2 1275.1 L1257.8 1273.2 L1258.4 1271.3 L1259.0 1269.3 L1259.6 1267.4 L1260.2 1265.5 L1260.8 1263.6 L1261.4 1261.7 L1262.0 1259.8 L1262.6 1257.9 L1263.2 1256.0 L1263.9 1254.1 L1264.5 1252.2 L1265.1 1250.3 L1265.7 1248.4 L1266.4 1246.5 L1267.0 1244.6 L1267.7 1242.7 L1268.4 1240.9 L1269.1 1239.0 L1269.9 1237.1 L1270.6 1235.3 L1271.5 1233.5 L1272.3 1231.7 L1273.2 1229.9 L1274.1 1228.1 L1275.1 1226.4 L1276.1 1224.7 L1277.2 1222.9 L1278.2 1221.3 L1279.3 1219.6 L1280.4 1217.9 L1281.6 1216.3 L1282.7 1214.7 L1283.9 1213.1 L1285.2 1211.5 L1286.5 1210.0 L1287.8 1208.5 L1289.1 1207.0 L1290.5 1205.6 L1291.9 1204.2 L1293.4 1202.9 L1294.9 1201.6 L1296.5 1200.3 L1298.1 1199.1 L1299.6 1197.9 L1301.2 1196.7 L1302.9 1195.5 L1304.5 1194.3 L1306.1 1193.2 L1307.7 1192.0 L1309.4 1190.9 L1311.1 1189.8 L1312.7 1188.7 L1314.4 1187.7 L1316.1 1186.6 L1317.9 1185.7 L1319.7 1184.8 L1321.5 1183.9 L1323.3 1183.1 L1325.1 1182.4 L1327.0 1181.8 L1328.9 1181.2 L1330.8 1180.7 L1332.8 1180.2 L1334.7 1179.8 L1336.7 1179.4 L1338.6 1179.0 L1340.6 1178.6 L1342.6 1178.3 L1344.5 1177.9 L1346.5 1177.5 L1348.5 1177.2 L1350.5 1176.9 L1352.4 1176.5 L1354.4 1176.2 L1356.4 1175.9 L1358.3 1175.6 L1360.3 1175.3 L1362.3 1175.0 L1364.3 1174.7 L1366.3 1174.4 L1368.2 1174.2 L1370.2 1173.9 L1372.2 1173.7 L1374.2 1173.4 L1376.2 1173.2 L1378.2 1173.0 L1380.2 1172.8 L1382.2 1172.6 L1384.2 1172.5 L1386.1 1172.3 L1388.1 1172.1 L1390.1 1172.0 L1392.1 1171.8 L1394.1 1171.7 L1396.1 1171.5 L1398.1 1171.3 L1400.1 1171.2 L1402.1 1171.0 L1404.1 1170.9 L1406.1 1170.7 L1408.1 1170.6 L1410.1 1170.4 L1412.1 1170.3 L1414.1 1170.1 L1416.1 1170.0 L1418.0 1169.8 L1420.0 1169.7 L1422.0 1169.5 L1424.0 1169.4 L1426.0 1169.3 L1428.0 1169.1 L1430.0 1169.0 L1432.0 1168.9 L1434.0 1168.8 L1436.0 1168.7 L1438.0 1168.6 L1440.0 1168.5 L1442.0 1168.4 L1444.0 1168.3 L1446.0 1168.2 L1448.0 1168.2 L1450.0 1168.1 L1452.0 1168.1 L1454.0 1168.0 L1456.0 1168.0 L1458.0 1167.9 L1460.0 1167.9 L1462.0 1167.8 L1464.0 1167.8 L1466.0 1167.7 L1468.0 1167.7 L1470.0 1167.6 L1472.0 1167.6 L1474.0 1167.5 L1476.0 1167.5 L1478.0 1167.4 L1480.0 1167.4 L1482.0 1167.3 L1484.0 1167.3 L1486.0 1167.3 L1488.0 1167.2 L1490.0 1167.2 L1492.0 1167.1 L1494.0 1167.1 L1496.0 1167.1 L1498.0 1167.0 L1500.0 1167.0 L1502.0 1166.9 L1504.0 1166.9 L1506.0 1166.9 L1508.0 1166.8 L1510.0 1166.8 L1512.0 1166.8 L1514.0 1166.7 L1516.0 1166.7 L1518.0 1166.7 L1520.0 1166.7 L1522.0 1166.6 L1524.0 1166.6 L1526.0 1166.6 L1528.0 1166.6 L1530.0 1166.5 L1532.0 1166.5 L1534.0 1166.5 L1536.0 1166.5 L1538.0 1166.5 L1540.0 1166.4 L1542.0 1166.4 L1544.0 1166.4 L1546.0 1166.4 L1548.0 1166.4 L1550.0 1166.4 L1552.0 1166.4 L1554.0 1166.4 L1556.0 1166.3 L1558.0 1166.3 L1560.0 1166.3 L1562.0 1166.3 L1564.0 1166.3 L1566.0 1166.3 L1568.0 1166.3 L1570.0 1166.3 L1572.0 1166.3 L1574.0 1166.4 L1576.0 1166.4 L1578.0 1166.4 L1580.0 1166.4 L1581.9 1166.4 L1583.8 1166.4 L1585.7 1166.4 L1587.4 1166.4 L1588.9 1166.5 L1590.3 1166.5 L1593.5 1166.5 L1593.5 1166.5" stroke="#FF8000"/>
<path d="M852.6 1377.5 L856.1 1377.6 L857.5 1377.6 L859.1 1377.7 L860.8 1377.7 L862.7 1377.8 L864.6 1377.9 L866.6 1377.9 L868.6 1378.0 L870.6 1378.0 L872.6 1378.1 L874.6 1378.2 L876.6 1378.2 L878.6 1378.3 L880.6 1378.3 L882.6 1378.4 L884.6 1378.5 L886.6 1378.5 L888.6 1378.6 L890.6 1378.6 L892.6 1378.7 L894.6 1378.8 L896.6 1378.8 L898.6 1378.9 L900.6 1379.0 L902.6 1379.0 L904.6 1379.1 L906.6 1379.2 L908.6 1379.2 L910.6 1379.3 L912.6 1379.4 L914.6 1379.4 L916.6 1379.5 L918.6 1379.6 L920.6 1379.6 L922.6 1379.7 L924.6 1379.8 L926.6 1379.8 L928.6 1379.9 L930.6 1380.0 L932.6 1380.0 L934.6 1380.1 L936.6 1380.2 L938.6 1380.2 L940.6 1380.3 L942.6 1380.4 L944.6 1380.4 L946.6 1380.5 L948.6 1380.6 L950.6 1380.6 L952.5 1380.7 L954.5 1380.8 L956.5 1380.8 L958.5 1380.9 L960.5 1381.0 L962.5 1381.0 L964.5 1381.1 L966.5 1381.2 L968.5 1381.2 L970.5 1381.3 L972.5 1381.4 L974.5 1381.4 L976.5 1381.5 L978.5 1381.6 L980.5 1381.6 L982.5 1381.7 L984.5 1381.8 L986.5 1381.8 L988.5 1381.9 L990.5 1382.0 L992.5 1382.0 L994.5 1382.1 L996.5 1382.2 L998.5 1382.3 L1000.5 1382.3 L1002.5 1382.4 L1004.5 1382.5 L1006.5 1382.5 L1008.5 1382.6 L1010.5 1382.7 L1012.5 1382.7 L1014.5 1382.8 L1016.5 1382.9 L1018.5 1382.9 L1020.5 1383.0 L1022.5 1383.1 L1024.5 1383.1 L1026.5 1383.2 L1028.5 1383.3 L1030.5 1383.3 L1032.5 1383.4 L1034.5 1383.5 L1036.5 1383.6 L1038.5 1383.6 L1040.5 1383.7 L1042.5 1383.8 L1044.5 1383.8 L1046.5 1383.9 L1048.5 1384.0 L1050.5 1384.1 L1052.5 1384.1 L1054.5 1384.2 L1056.5 1384.3 L1058.5 1384.4 L1060.5 1384.4 L1062.5 1384.5 L1064.5 1384.6 L1066.5 1384.7 L1068.5 1384.7 L1070.5 1384.8 L1072.5 1384.9 L1074.5 1385.0 L1076.5 1385.0 L1078.5 1385.1 L1080.5 1385.2 L1082.5 1385.3 L1084.5 1385.3 L1086.5 1385.4 L1088.5 1385.5 L1090.5 1385.6 L1092.5 1385.7 L1094.5 1385.7 L1096.5 1385.8 L1098.5 1385.9 L1100.5 1386.0 L1102.5 1386.1 L1104.5 1386.2 L1106.4 1386.2 L1108.4 1386.3 L1110.4 1386.4 L1112.4 1386.5 L1114.4 1386.6 L1116.4 1386.7 L1118.4 1386.8 L1120.4 1386.8 L1122.4 1386.9 L1124.4 1387.0 L1126.4 1387.1 L1128.4 1387.2 L1130.4 1387.3 L1132.4 1387.4 L1134.4 1387.5 L1136.4 1387.6 L1138.4 1387.7 L1140.4 1387.8 L1142.4 1387.8 L1144.4 1388.0 L1146.4 1388.1 L1148.4 1388.2 L1150.4 1388.3 L1152.4 1388.5 L1154.4 1388.7 L1156.4 1388.9 L1158.3 1389.1 L1160.3 1389.4 L1162.3 1389.7 L1164.3 1390.0 L1166.3 1390.3 L1168.2 1390.6 L1170.2 1391.0 L1172.2 1391.4 L1174.1 1391.7 L1176.1 1392.2 L1178.0 1392.6 L1180.0 1393.1 L1181.9 1393.6 L1183.8 1394.2 L1185.7 1394.8 L1187.6 1395.4 L1189.4 1396.1 L1191.3 1396.9 L1193.1 1397.7 L1194.9 1398.5 L1196.7 1399.4 L1198.5 1400.3 L1200.2 1401.2 L1201.9 1402.3 L1203.6 1403.4 L1205.1 1404.6 L1206.6 1405.9 L1208.1 1407.2 L1209.5 1408.6 L1210.9 1410.1 L1212.2 1411.6 L1213.4 1413.1 L1214.6 1414.7 L1215.8 1416.3 L1216.9 1417.9 L1217.9 1419.6 L1218.9 1421.4 L1219.9 1423.1 L1220.7 1424.9 L1221.6 1426.7 L1222.3 1428.6 L1223.1 1430.4 L1223.8 1432.3 L1224.5 1434.2 L1225.2 1436.0 L1225.8 1437.9 L1226.5 1439.8 L1227.1 1441.7 L1227.7 1443.6 L1228.4 1445.5 L1229.0 1447.4 L1229.6 1449.3 L1230.2 1451.2 L1230.8 1453.1 L1231.4 1455.0 L1232.0 1456.9 L1232.6 1458.9 L1233.2 1460.8 L1233.7 1462.7 L1234.3 1464.6 L1234.8 1466.5 L1235.4 1468.5 L1235.9 1470.4 L1236.4 1472.3 L1236.9 1474.3 L1237.4 1476.2 L1237.9 1478.1 L1238.4 1480.1 L1238.9 1482.0 L1239.4 1483.9 L1239.9 1485.9 L1240.3 1487.8 L1240.8 1489.8 L1241.3 1491.7 L1241.7 1493.7 L1242.2 1495.6 L1242.7 1497.6 L1243.1 1499.5 L1243.6 1501.5 L1244.0 1503.4 L1244.4 1505.4 L1244.9 1507.3 L1245.3 1509.3 L1245.7 1511.2 L1246.1 1513.2 L1246.5 1515.1 L1246.9 1517.1 L1247.3 1519.1 L1247.7 1521.0 L1248.2 1523.0 L1248.6 1524.9 L1249.0 1526.9 L1249.4 1528.8 L1249.8 1530.8 L1250.2 1532.8 L1250.6 1534.7 L1251.0 1536.7 L1251.4 1538.6 L1251.8 1540.6 L1252.2 1542.6 L1252.6 1544.5 L1253.0 1546.5 L1253.4 1548.4 L1253.8 1550.4 L1254.2 1552.4 L1254.6 1554.3 L1255.0 1556.3 L1255.4 1558.2 L1255.8 1560.2 L1256.2 1562.2 L1256.6 1564.1 L1256.9 1566.1 L1257.3 1568.0 L1257.7 1570.0 L1258.1 1572.0 L1258.5 1573.9 L1258.9 1575.9 L1259.3 1577.8 L1259.7 1579.8 L1260.1 1581.8 L1260.5 1583.7 L1260.9 1585.7 L1261.3 1587.6 L1261.8 1589.6 L1262.2 1591.5 L1262.6 1593.5 L1263.1 1595.4 L1263.6 1597.4 L1264.0 1599.3 L1264.5 1601.3 L1265.0 1603.2 L1265.5 1605.1 L1266.0 1607.1 L1266.5 1609.0 L1267.1 1610.9 L1267.6 1612.8 L1268.2 1614.7 L1268.8 1616.6 L1269.5 1618.4 L1270.3 1620.0 L1271.2 1621.5 L1272.1 1622.7 L1273.2 1623.5 L1274.3 1623.9 L1275.5 1623.8 L1276.7 1623.3 L1277.9 1622.4 L1279.0 1621.2 L1280.0 1619.8 L1280.9 1618.1 L1281.8 1616.4 L1282.6 1614.6 L1283.3 1612.8 L1284.0 1610.9 L1284.7 1609.0 L1285.4 1607.2 L1286.1 1605.3 L1286.7 1603.4 L1287.3 1601.5 L1287.9 1599.5 L1288.4 1597.6 L1289.0 1595.7 L1289.5 1593.8 L1290.1 1591.9 L1290.6 1589.9 L1291.1 1588.0 L1291.6 1586.1 L1292.1 1584.1 L1292.6 1582.2 L1293.2 1580.3 L1293.6 1578.3 L1294.1 1576.4 L1294.6 1574.4 L1295.1 1572.5 L1295.6 1570.6 L1296.1 1568.6 L1296.6 1566.7 L1297.1 1564.8 L1297.6 1562.8 L1298.1 1560.9 L1298.6 1558.9 L1299.1 1557.0 L1299.6 1555.1 L1300.0 1553.1 L1300.5 1551.2 L1301.0 1549.2 L1301.4 1547.3 L1301.9 1545.3 L1302.3 1543.4 L1302.8 1541.4 L1303.2 1539.5 L1303.7 1537.5 L1304.1 1535.6 L1304.6 1533.6 L1305.0 1531.7 L1305.5 1529.7 L1305.9 1527.8 L1306.4 1525.8 L1306.9 1523.9 L1307.3 1522.0 L1307.8 1520.0 L1308.3 1518.1 L1308.8 1516.1 L1309.3 1514.2 L1309.9 1512.3 L1310.4 1510.4 L1311.0 1508.5 L1311.6 1506.5 L1312.2 1504.6 L1312.8 1502.7 L1313.5 1500.9 L1314.2 1499.0 L1314.9 1497.1 L1315.6 1495.2 L1316.3 1493.4 L1317.0 1491.5 L1317.8 1489.7 L1318.5 1487.8 L1319.3 1486.0 L1320.2 1484.2 L1321.0 1482.3 L1321.9 1480.5 L1322.7 1478.8 L1323.7 1477.0 L1324.6 1475.2 L1325.6 1473.5 L1326.7 1471.8 L1327.7 1470.1 L1328.8 1468.4 L1330.0 1466.8 L1331.1 1465.2 L1332.3 1463.6 L1333.5 1462.0 L1334.8 1460.4 L1336.0 1458.8 L1337.2 1457.3 L1338.5 1455.7 L1339.8 1454.2 L1341.1 1452.7 L1342.5 1451.2 L1343.9 1449.8 L1345.3 1448.4 L1346.7 1447.0 L1348.2 1445.7 L1349.7 1444.4 L1351.2 1443.1 L1352.8 1441.9 L1354.4 1440.6 L1356.0 1439.4 L1357.6 1438.3 L1359.2 1437.1 L1360.9 1436.0 L1362.5 1434.8 L1364.2 1433.7 L1365.8 1432.6 L1367.5 1431.5 L1369.2 1430.4 L1370.9 1429.3 L1372.6 1428.3 L1374.3 1427.3 L1376.0 1426.3 L1377.7 1425.3 L1379.5 1424.3 L1381.3 1423.4 L1383.1 1422.6 L1384.9 1421.7 L1386.7 1420.9 L1388.6 1420.1 L1390.4 1419.3 L1392.2 1418.6 L1394.1 1417.9 L1396.0 1417.1 L1397.8 1416.4 L1399.7 1415.7 L1401.6 1415.0 L1403.5 1414.3 L1405.3 1413.6 L1407.2 1413.0 L1409.1 1412.3 L1411.0 1411.7 L1412.9 1411.1 L1414.8 1410.5 L1416.7 1409.9 L1418.6 1409.3 L1420.6 1408.8 L1422.5 1408.2 L1424.4 1407.7 L1426.4 1407.3 L1428.3 1406.8 L1430.3 1406.3 L1432.2 1405.9 L1434.2 1405.5 L1436.1 1405.1 L1438.1 1404.7 L1440.0 1404.3 L1442.0 1403.9 L1444.0 1403.5 L1445.9 1403.1 L1447.9 1402.7 L1449.8 1402.3 L1451.8 1401.9 L1453.8 1401.5 L1455.7 1401.2 L1457.7 1400.8 L1459.7 1400.4 L1461.6 1400.1 L1463.6 1399.8 L1465.6 1399.4 L1467.6 1399.1 L1469.5 1398.8 L1471.5 1398.5 L1473.5 1398.2 L1475.5 1397.9 L1477.5 1397.6 L1479.4 1397.4 L1481.4 1397.1 L1483.4 1396.9 L1485.4 1396.7 L1487.4 1396.4 L1489.4 1396.2 L1491.4 1396.0 L1493.3 1395.8 L1495.3 1395.6 L1497.3 1395.4 L1499.3 1395.2 L1501.3 1394.9 L1503.3 1394.7 L1505.3 1394.5 L1507.3 1394.3 L1509.3 1394.1 L1511.2 1393.9 L1513.2 1393.7 L1515.2 1393.5 L1517.2 1393.4 L1519.2 1393.2 L1521.2 1393.0 L1523.2 1392.8 L1525.2 1392.6 L1527.2 1392.5 L1529.2 1392.3 L1531.2 1392.2 L1533.2 1392.0 L1535.2 1391.9 L1537.2 1391.7 L1539.1 1391.6 L1541.1 1391.5 L1543.1 1391.4 L1545.1 1391.3 L1547.1 1391.2 L1549.1 1391.1 L1551.1 1391.0 L1553.1 1390.9 L1555.1 1390.8 L1557.1 1390.7 L1559.1 1390.6 L1561.1 1390.5 L1563.1 1390.5 L1565.1 1390.4 L1567.1 1390.3 L1569.1 1390.2 L1571.1 1390.2 L1573.1 1390.1 L1575.1 1390.0 L1577.1 1390.0 L1579.1 1389.9 L1581.1 1389.9 L1583.1 1389.8 L1585.1 1389.8 L1587.0 1389.7 L1588.9 1389.7 L1590.6 1389.7 L1592.2 1389.6 L1593.7 1389.6 L1594.8 1389.6 L1597.3 1389.6" stroke="#00FF00"/>
<path d="M852.6 1608.8 L856.1 1608.9 L857.5 1609.0 L859.1 1609.0 L860.8 1609.1 L862.7 1609.2 L864.6 1609.3 L866.6 1609.3 L868.6 1609.4 L870.6 1609.5 L872.6 1609.6 L874.6 1609.6 L876.6 1609.7 L878.6 1609.8 L880.6 1609.8 L882.6 1609.9 L884.6 1610.0 L886.6 1610.1 L888.6 1610.1 L890.6 1610.2 L892.6 1610.3 L894.6 1610.4 L896.6 1610.4 L898.6 1610.5 L900.6 1610.6 L902.6 1610.6 L904.6 1610.7 L906.6 1610.8 L908.6 1610.8 L910.6 1610.9 L912.6 1611.0 L914.6 1611.1 L916.6 1611.1 L918.6 1611.2 L920.6 1611.3 L922.6 1611.3 L924.6 1611.4 L926.6 1611.5 L928.6 1611.5 L930.6 1611.6 L932.5 1611.7 L934.5 1611.7 L936.5 1611.8 L938.5 1611.8 L940.5 1611.9 L942.5 1612.0 L944.5 1612.0 L946.5 1612.1 L948.5 1612.2 L950.5 1612.2 L952.5 1612.3 L954.5 1612.3 L956.5 1612.4 L958.5 1612.5 L960.5 1612.5 L962.5 1612.6 L964.5 1612.6 L966.5 1612.7 L968.5 1612.8 L970.5 1612.8 L972.5 1612.9 L974.5 1612.9 L976.5 1613.0 L978.5 1613.0 L980.5 1613.1 L982.5 1613.1 L984.5 1613.2 L986.5 1613.3 L988.5 1613.3 L990.5 1613.4 L992.5 1613.4 L994.5 1613.5 L996.5 1613.5 L998.5 1613.6 L1000.5 1613.6 L1002.5 1613.7 L1004.5 1613.7 L1006.5 1613.8 L1008.5 1613.8 L1010.5 1613.8 L1012.5 1613.9 L1014.5 1613.9 L1016.5 1614.0 L1018.5 1614.0 L1020.5 1614.1 L1022.5 1614.1 L1024.5 1614.1 L1026.5 1614.2 L1028.5 1614.2 L1030.5 1614.3 L1032.5 1614.3 L1034.5 1614.3 L1036.5 1614.4 L1038.5 1614.4 L1040.5 1614.4 L1042.5 1614.5 L1044.5 1614.5 L1046.5 1614.5 L1048.5 1614.6 L1050.5 1614.6 L1052.5 1614.6 L1054.5 1614.7 L1056.5 1614.7 L1058.5 1614.7 L1060.5 1614.8 L1062.5 1614.8 L1064.5 1614.8 L1066.5 1614.9 L1068.5 1614.9 L1070.5 1614.9 L1072.5 1615.0 L1074.5 1615.0 L1076.5 1615.0 L1078.5 1615.1 L1080.5 1615.1 L1082.5 1615.1 L1084.5 1615.1 L1086.5 1615.2 L1088.5 1615.2 L1090.5 1615.2 L1092.5 1615.3 L1094.5 1615.3 L1096.5 1615.3 L1098.5 1615.4 L1100.5 1615.4 L1102.5 1615.4 L1104.5 1615.4 L1106.5 1615.5 L1108.5 1615.5 L1110.5 1615.5 L1112.5 1615.6 L1114.5 1615.6 L1116.5 1615.6 L1118.5 1615.7 L1120.5 1615.7 L1122.5 1615.7 L1124.5 1615.8 L1126.5 1615.8 L1128.5 1615.8 L1130.5 1615.9 L1132.5 1615.9 L1134.5 1615.9 L1136.5 1616.0 L1138.5 1616.0 L1140.5 1616.0 L1142.5 1616.1 L1144.5 1616.1 L1146.5 1616.1 L1148.5 1616.2 L1150.5 1616.2 L1152.5 1616.3 L1154.5 1616.3 L1156.5 1616.3 L1158.5 1616.4 L1160.5 1616.4 L1162.5 1616.5 L1164.5 1616.6 L1166.5 1616.6 L1168.5 1616.7 L1170.5 1616.8 L1172.5 1616.9 L1174.5 1616.9 L1176.5 1617.1 L1178.5 1617.2 L1180.5 1617.3 L1182.5 1617.5 L1184.4 1617.7 L1186.4 1618.0 L1188.3 1618.4 L1190.3 1618.8 L1192.2 1619.3 L1194.1 1619.8 L1196.0 1620.4 L1197.9 1621.0 L1199.8 1621.7 L1201.7 1622.3 L1203.6 1622.9 L1205.5 1623.6 L1207.4 1624.2 L1209.3 1624.8 L1211.2 1625.5 L1213.1 1626.1 L1215.0 1626.7 L1216.9 1627.4 L1218.8 1628.0 L1220.7 1628.7 L1222.6 1629.3 L1224.5 1630.0 L1226.3 1630.7 L1228.2 1631.3 L1230.1 1632.0 L1232.0 1632.8 L1233.8 1633.5 L1235.6 1634.3 L1237.4 1635.1 L1239.2 1636.0 L1240.9 1637.0 L1242.6 1638.0 L1244.2 1639.2 L1245.7 1640.4 L1247.2 1641.7 L1248.6 1643.1 L1249.9 1644.6 L1251.2 1646.1 L1252.5 1647.6 L1253.6 1649.2 L1254.7 1650.9 L1255.8 1652.6 L1256.7 1654.3 L1257.6 1656.1 L1258.5 1657.9 L1259.2 1659.7 L1260.0 1661.6 L1260.6 1663.4 L1261.3 1665.3 L1261.8 1667.2 L1262.4 1669.2 L1262.8 1671.1 L1263.3 1673.1 L1263.6 1675.0 L1264.0 1677.0 L1264.3 1679.0 L1264.6 1680.9 L1264.9 1682.9 L1265.2 1684.9 L1265.5 1686.9 L1265.8 1688.8 L1266.1 1690.8 L1266.3 1692.8 L1266.6 1694.8 L1266.9 1696.8 L1267.1 1698.8 L1267.4 1700.7 L1267.6 1702.7 L1267.9 1704.7 L1268.1 1706.7 L1268.4 1708.7 L1268.6 1710.7 L1268.8 1712.6 L1269.1 1714.6 L1269.3 1716.6 L1269.6 1718.6 L1269.8 1720.6 L1270.1 1722.6 L1270.3 1724.6 L1270.6 1726.5 L1270.9 1728.5 L1271.1 1730.5 L1271.4 1732.5 L1271.7 1734.5 L1272.0 1736.4 L1272.3 1738.4 L1272.5 1740.4 L1272.8 1742.4 L1273.1 1744.4 L1273.4 1746.3 L1273.7 1748.3 L1274.0 1750.3 L1274.3 1752.3 L1274.7 1754.2 L1275.0 1756.2 L1275.3 1758.2 L1275.7 1760.2 L1276.0 1762.1 L1276.4 1764.1 L1276.7 1766.1 L1277.1 1768.0 L1277.4 1770.0 L1277.8 1772.0 L1278.2 1773.9 L1278.5 1775.9 L1278.9 1777.9 L1279.3 1779.8 L1279.7 1781.8 L1280.1 1783.7 L1280.6 1785.7 L1281.0 1787.6 L1281.4 1789.6 L1281.9 1791.5 L1282.4 1793.5 L1282.8 1795.4 L1283.3 1797.4 L1283.8 1799.3 L1284.3 1801.2 L1284.8 1803.2 L1285.3 1805.1 L1285.8 1807.0 L1286.4 1809.0 L1287.0 1810.9 L1287.6 1812.8 L1288.2 1814.7 L1288.9 1816.6 L1289.6 1818.4 L1290.3 1820.3 L1291.1 1822.1 L1292.0 1823.9 L1292.9 1825.6 L1293.9 1827.3 L1294.9 1829.0 L1296.0 1830.5 L1297.2 1831.8 L1298.5 1832.9 L1299.9 1833.6 L1301.3 1834.0 L1302.8 1834.0 L1304.2 1833.6 L1305.7 1832.9 L1307.0 1831.8 L1308.3 1830.5 L1309.5 1829.0 L1310.6 1827.4 L1311.6 1825.8 L1312.6 1824.0 L1313.5 1822.3 L1314.3 1820.5 L1315.2 1818.7 L1315.9 1816.8 L1316.6 1815.0 L1317.3 1813.1 L1318.0 1811.2 L1318.7 1809.3 L1319.3 1807.4 L1320.0 1805.5 L1320.6 1803.6 L1321.3 1801.7 L1321.9 1799.8 L1322.5 1797.9 L1323.2 1796.0 L1323.8 1794.1 L1324.4 1792.2 L1325.0 1790.3 L1325.6 1788.4 L1326.2 1786.5 L1326.8 1784.6 L1327.4 1782.7 L1328.0 1780.8 L1328.6 1778.9 L1329.2 1777.0 L1329.8 1775.1 L1330.4 1773.2 L1331.0 1771.3 L1331.6 1769.4 L1332.2 1767.5 L1332.8 1765.6 L1333.5 1763.7 L1334.1 1761.8 L1334.8 1759.9 L1335.4 1758.0 L1336.1 1756.1 L1336.7 1754.2 L1337.4 1752.3 L1338.1 1750.4 L1338.7 1748.5 L1339.4 1746.7 L1340.1 1744.8 L1340.8 1742.9 L1341.5 1741.0 L1342.2 1739.2 L1343.0 1737.3 L1343.7 1735.5 L1344.5 1733.6 L1345.2 1731.8 L1346.0 1729.9 L1346.8 1728.1 L1347.6 1726.3 L1348.4 1724.4 L1349.3 1722.6 L1350.1 1720.8 L1351.0 1719.0 L1351.8 1717.2 L1352.7 1715.4 L1353.6 1713.6 L1354.4 1711.8 L1355.3 1710.0 L1356.2 1708.2 L1357.2 1706.4 L1358.1 1704.7 L1359.1 1702.9 L1360.0 1701.2 L1361.0 1699.4 L1362.1 1697.7 L1363.1 1696.0 L1364.2 1694.4 L1365.3 1692.7 L1366.5 1691.1 L1367.7 1689.5 L1368.9 1687.9 L1370.1 1686.3 L1371.4 1684.8 L1372.7 1683.3 L1374.0 1681.8 L1375.3 1680.3 L1376.7 1678.8 L1378.0 1677.3 L1379.4 1675.9 L1380.8 1674.5 L1382.2 1673.1 L1383.7 1671.7 L1385.2 1670.3 L1386.7 1669.0 L1388.2 1667.7 L1389.7 1666.5 L1391.3 1665.3 L1392.9 1664.1 L1394.5 1662.9 L1396.2 1661.7 L1397.8 1660.6 L1399.5 1659.5 L1401.2 1658.4 L1402.9 1657.4 L1404.6 1656.3 L1406.3 1655.3 L1408.0 1654.3 L1409.7 1653.3 L1411.5 1652.3 L1413.2 1651.3 L1415.0 1650.4 L1416.8 1649.5 L1418.6 1648.6 L1420.4 1647.8 L1422.2 1646.9 L1424.0 1646.1 L1425.8 1645.3 L1427.7 1644.5 L1429.5 1643.7 L1431.4 1642.9 L1433.2 1642.2 L1435.1 1641.4 L1436.9 1640.7 L1438.8 1639.9 L1440.6 1639.2 L1442.5 1638.5 L1444.4 1637.8 L1446.2 1637.1 L1448.1 1636.4 L1450.0 1635.7 L1451.9 1635.0 L1453.8 1634.4 L1455.7 1633.7 L1457.6 1633.1 L1459.5 1632.5 L1461.4 1631.9 L1463.3 1631.2 L1465.2 1630.6 L1467.1 1630.0 L1469.0 1629.4 L1470.9 1628.8 L1472.8 1628.2 L1474.7 1627.7 L1476.6 1627.1 L1478.5 1626.5 L1480.5 1626.0 L1482.4 1625.4 L1484.3 1624.9 L1486.3 1624.4 L1488.2 1624.0 L1490.2 1623.5 L1492.1 1623.1 L1494.1 1622.7 L1496.0 1622.4 L1498.0 1622.1 L1500.0 1621.8 L1502.0 1621.5 L1504.0 1621.2 L1505.9 1620.9 L1507.9 1620.7 L1509.9 1620.5 L1511.9 1620.2 L1513.9 1620.0 L1515.9 1619.8 L1517.9 1619.6 L1519.8 1619.4 L1521.8 1619.2 L1523.8 1619.0 L1525.8 1618.8 L1527.8 1618.7 L1529.8 1618.5 L1531.8 1618.4 L1533.8 1618.3 L1535.8 1618.1 L1537.8 1618.0 L1539.8 1617.9 L1541.8 1617.9 L1543.8 1617.8 L1545.8 1617.7 L1547.8 1617.7 L1549.8 1617.7 L1551.8 1617.6 L1553.8 1617.6 L1555.8 1617.6 L1557.8 1617.6 L1559.8 1617.7 L1561.8 1617.7 L1563.8 1617.7 L1565.8 1617.8 L1567.8 1617.8 L1569.8 1617.9 L1571.8 1617.9 L1573.8 1618.0 L1575.8 1618.1 L1577.8 1618.1 L1579.8 1618.2 L1581.8 1618.3 L1583.7 1618.4 L1585.7 1618.5 L1587.6 1618.6 L1589.5 1618.7 L1591.2 1618.8 L1592.7 1618.9 L1594.1 1619.0 L1597.3 1619.2 L1597.3 1619.2" stroke="#808080"/>
</g>
<g stroke="#000" stroke-linecap="round" fill="none">
<line x1="402.5" y1="3716.2" x2="356" y2="3716.2" stroke-width="13"/>
<line x1="402.5" y1="3633.0" x2="379" y2="3633.0" stroke-width="13"/>
<line x1="402.5" y1="3549.8" x2="356" y2="3549.8" stroke-width="13"/>
<line x1="402.5" y1="3466.6" x2="379" y2="3466.6" stroke-width="13"/>
<line x1="402.5" y1="3383.4" x2="356" y2="3383.4" stroke-width="13"/>
<line x1="402.5" y1="3300.2" x2="379" y2="3300.2" stroke-width="13"/>
<line x1="402.5" y1="3217.0" x2="356" y2="3217.0" stroke-width="13"/>
<line x1="402.5" y1="3133.8" x2="379" y2="3133.8" stroke-width="13"/>
<line x1="402.5" y1="3050.6" x2="356" y2="3050.6" stroke-width="13"/>
<line x1="402.5" y1="2967.4" x2="379" y2="2967.4" stroke-width="13"/>
<line x1="402.5" y1="2884.2" x2="356" y2="2884.2" stroke-width="13"/>
<line x1="402.5" y1="2801.0" x2="379" y2="2801.0" stroke-width="13"/>
<line x1="402.5" y1="2717.8" x2="356" y2="2717.8" stroke-width="13"/>
<line x1="402.5" y1="2634.6" x2="379" y2="2634.6" stroke-width="13"/>
<line x1="402.5" y1="2551.4" x2="356" y2="2551.4" stroke-width="13"/>
<line x1="402.5" y1="2468.2" x2="379" y2="2468.2" stroke-width="13"/>
<line x1="402.5" y1="2385.0" x2="356" y2="2385.0" stroke-width="13"/>
<line x1="2168.5" y1="3716.2" x2="2145" y2="3716.2" stroke-width="11"/>
<line x1="2168.5" y1="3633.0" x2="2158" y2="3633.0" stroke-width="11"/>
<line x1="2168.5" y1="3549.8" x2="2145" y2="3549.8" stroke-width="11"/>
<line x1="2168.5" y1="3466.6" x2="2158" y2="3466.6" stroke-width="11"/>
<line x1="2168.5" y1="3383.4" x2="2145" y2="3383.4" stroke-width="11"/>
<line x1="2168.5" y1="3300.2" x2="2158" y2="3300.2" stroke-width="11"/>
<line x1="2168.5" y1="3217.0" x2="2145" y2="3217.0" stroke-width="11"/>
<line x1="2168.5" y1="3133.8" x2="2158" y2="3133.8" stroke-width="11"/>
<line x1="2168.5" y1="3050.6" x2="2145" y2="3050.6" stroke-width="11"/>
<line x1="2168.5" y1="2967.4" x2="2158" y2="2967.4" stroke-width="11"/>
<line x1="2168.5" y1="2884.2" x2="2145" y2="2884.2" stroke-width="11"/>
<line x1="2168.5" y1="2801.0" x2="2158" y2="2801.0" stroke-width="11"/>
<line x1="2168.5" y1="2717.8" x2="2145" y2="2717.8" stroke-width="11"/>
<line x1="2168.5" y1="2634.6" x2="2158" y2="2634.6" stroke-width="11"/>
<line x1="2168.5" y1="2551.4" x2="2145" y2="2551.4" stroke-width="11"/>
<line x1="2168.5" y1="2468.2" x2="2158" y2="2468.2" stroke-width="11"/>
<line x1="2168.5" y1="2385.0" x2="2145" y2="2385.0" stroke-width="11"/>
<line x1="402.8" y1="3718" x2="402.8" y2="3761" stroke-width="11.5"/>
<line x1="459.8" y1="3718" x2="459.8" y2="3739" stroke-width="11.5"/>
<line x1="516.7" y1="3718" x2="516.7" y2="3739" stroke-width="11.5"/>
<line x1="573.7" y1="3718" x2="573.7" y2="3739" stroke-width="11.5"/>
<line x1="630.6" y1="3718" x2="630.6" y2="3739" stroke-width="11.5"/>
<line x1="687.6" y1="3718" x2="687.6" y2="3761" stroke-width="11.5"/>
<line x1="744.6" y1="3718" x2="744.6" y2="3739" stroke-width="11.5"/>
<line x1="801.5" y1="3718" x2="801.5" y2="3739" stroke-width="11.5"/>
<line x1="858.5" y1="3718" x2="858.5" y2="3739" stroke-width="11.5"/>
<line x1="915.4" y1="3718" x2="915.4" y2="3739" stroke-width="11.5"/>
<line x1="972.4" y1="3718" x2="972.4" y2="3761" stroke-width="11.5"/>
<line x1="1029.4" y1="3718" x2="1029.4" y2="3739" stroke-width="11.5"/>
<line x1="1086.3" y1="3718" x2="1086.3" y2="3739" stroke-width="11.5"/>
<line x1="1143.3" y1="3718" x2="1143.3" y2="3739" stroke-width="11.5"/>
<line x1="1200.2" y1="3718" x2="1200.2" y2="3739" stroke-width="11.5"/>
<line x1="1257.2" y1="3718" x2="1257.2" y2="3761" stroke-width="11.5"/>
<line x1="1314.2" y1="3718" x2="1314.2" y2="3739" stroke-width="11.5"/>
<line x1="1371.1" y1="3718" x2="1371.1" y2="3739" stroke-width="11.5"/>
<line x1="1428.1" y1="3718" x2="1428.1" y2="3739" stroke-width="11.5"/>
<line x1="1485.0" y1="3718" x2="1485.0" y2="3739" stroke-width="11.5"/>
<line x1="1542.0" y1="3718" x2="1542.0" y2="3761" stroke-width="11.5"/>
<line x1="1599.0" y1="3718" x2="1599.0" y2="3739" stroke-width="11.5"/>
<line x1="1655.9" y1="3718" x2="1655.9" y2="3739" stroke-width="11.5"/>
<line x1="1712.9" y1="3718" x2="1712.9" y2="3739" stroke-width="11.5"/>
<line x1="1769.8" y1="3718" x2="1769.8" y2="3739" stroke-width="11.5"/>
<line x1="1826.8" y1="3718" x2="1826.8" y2="3761" stroke-width="11.5"/>
<line x1="1883.8" y1="3718" x2="1883.8" y2="3739" stroke-width="11.5"/>
<line x1="1940.7" y1="3718" x2="1940.7" y2="3739" stroke-width="11.5"/>
<line x1="1997.7" y1="3718" x2="1997.7" y2="3739" stroke-width="11.5"/>
<line x1="2054.6" y1="3718" x2="2054.6" y2="3739" stroke-width="11.5"/>
<line x1="2111.6" y1="3718" x2="2111.6" y2="3761" stroke-width="11.5"/>
<line x1="2168.6" y1="3718" x2="2168.6" y2="3739" stroke-width="11.5"/>
<line x1="459.8" y1="2340" x2="459.8" y2="2350" stroke-width="11.5"/>
<line x1="516.7" y1="2340" x2="516.7" y2="2350" stroke-width="11.5"/>
<line x1="573.7" y1="2340" x2="573.7" y2="2350" stroke-width="11.5"/>
<line x1="630.6" y1="2340" x2="630.6" y2="2350" stroke-width="11.5"/>
<line x1="687.6" y1="2337.5" x2="687.6" y2="2364" stroke-width="11.5" stroke-linecap="butt"/>
<line x1="744.6" y1="2340" x2="744.6" y2="2350" stroke-width="11.5"/>
<line x1="801.5" y1="2340" x2="801.5" y2="2350" stroke-width="11.5"/>
<line x1="858.5" y1="2340" x2="858.5" y2="2350" stroke-width="11.5"/>
<line x1="915.4" y1="2340" x2="915.4" y2="2350" stroke-width="11.5"/>
<line x1="972.4" y1="2337.5" x2="972.4" y2="2364" stroke-width="11.5" stroke-linecap="butt"/>
<line x1="1029.4" y1="2340" x2="1029.4" y2="2350" stroke-width="11.5"/>
<line x1="1086.3" y1="2340" x2="1086.3" y2="2350" stroke-width="11.5"/>
<line x1="1143.3" y1="2340" x2="1143.3" y2="2350" stroke-width="11.5"/>
<line x1="1200.2" y1="2340" x2="1200.2" y2="2350" stroke-width="11.5"/>
<line x1="1257.2" y1="2337.5" x2="1257.2" y2="2364" stroke-width="11.5" stroke-linecap="butt"/>
<line x1="1314.2" y1="2340" x2="1314.2" y2="2350" stroke-width="11.5"/>
<line x1="1371.1" y1="2340" x2="1371.1" y2="2350" stroke-width="11.5"/>
<line x1="1428.1" y1="2340" x2="1428.1" y2="2350" stroke-width="11.5"/>
<line x1="1485.0" y1="2340" x2="1485.0" y2="2350" stroke-width="11.5"/>
<line x1="1542.0" y1="2337.5" x2="1542.0" y2="2364" stroke-width="11.5" stroke-linecap="butt"/>
<line x1="1599.0" y1="2340" x2="1599.0" y2="2350" stroke-width="11.5"/>
<line x1="1655.9" y1="2340" x2="1655.9" y2="2350" stroke-width="11.5"/>
<line x1="1712.9" y1="2340" x2="1712.9" y2="2350" stroke-width="11.5"/>
<line x1="1769.8" y1="2340" x2="1769.8" y2="2350" stroke-width="11.5"/>
<line x1="1826.8" y1="2337.5" x2="1826.8" y2="2364" stroke-width="11.5" stroke-linecap="butt"/>
<line x1="1883.8" y1="2340" x2="1883.8" y2="2350" stroke-width="11.5"/>
<line x1="1940.7" y1="2340" x2="1940.7" y2="2350" stroke-width="11.5"/>
<line x1="1997.7" y1="2340" x2="1997.7" y2="2350" stroke-width="11.5"/>
<line x1="2054.6" y1="2340" x2="2054.6" y2="2350" stroke-width="11.5"/>
<line x1="2111.6" y1="2337.5" x2="2111.6" y2="2364" stroke-width="11.5" stroke-linecap="butt"/>
</g>
<path d="M402.5 3763 V2337.5 H2168.5 V3739" fill="none" stroke="#000" stroke-width="11.5" stroke-linejoin="miter" stroke-linecap="round"/>
<line x1="402.5" y1="2340" x2="402.5" y2="3763" stroke="#000" stroke-width="12.5" stroke-linecap="round"/>
<line x1="2168.5" y1="2340" x2="2168.5" y2="3739" stroke="#000" stroke-width="9.5" stroke-linecap="round"/>
<line x1="400" y1="3715" x2="2173" y2="3715" stroke="#000" stroke-width="12.5" stroke-linecap="butt"/>
<g>
<circle cx="465.2" cy="2508.7" r="11.5" fill="#ED7D31"/>
<circle cx="446.3" cy="2543.1" r="11.5" fill="#4472C4"/>
<circle cx="1672.3" cy="2481.3" r="11.5" fill="#6E6E6E"/>
<circle cx="1793.7" cy="2546.5" r="11.5" fill="#C5500A"/>
<circle cx="1801.5" cy="2696.3" r="11.5" fill="#234B96"/>
<circle cx="1780.0" cy="2746.1" r="11.5" fill="#E0AA14"/>
<circle cx="1889.7" cy="2728.0" r="11.5" fill="#969696"/>
<circle cx="1541.5" cy="2854.3" r="11.5" fill="#62B43A"/>
<circle cx="1678.1" cy="2886.2" r="11.5" fill="#2352A8"/>
<circle cx="1787.0" cy="2856.2" r="11.5" fill="#E46010"/>
<circle cx="1541.5" cy="2929.9" r="11.5" fill="#A0A0A0"/>
<circle cx="1570.9" cy="2932.0" r="11.5" fill="#4696DC"/>
<circle cx="1627.4" cy="2957.9" r="11.5" fill="#6EAAE6"/>
<circle cx="1647.1" cy="2966.3" r="11.5" fill="#78C350"/>
<circle cx="1729.0" cy="2974.0" r="11.5" fill="#F5AA78"/>
<circle cx="1657.4" cy="3031.5" r="11.5" fill="#C8C8C8"/>
<circle cx="1418.0" cy="3045.8" r="11.5" fill="#FFC000"/>
<circle cx="1600.3" cy="3063.5" r="11.5" fill="#A5A5A5"/>
<circle cx="1610.0" cy="3067.8" r="11.5" fill="#FFC000"/>
<circle cx="1128.8" cy="3190.4" r="11.5" fill="#6C9BE0"/>
<circle cx="1175.0" cy="3202.0" r="11.5" fill="#3F7A22"/>
<circle cx="1197.2" cy="3196.0" r="11.5" fill="#2162AA"/>
<circle cx="1221.2" cy="3194.2" r="11.5" fill="#F4A463"/>
<circle cx="1338.0" cy="3210.0" r="11.5" fill="#8C6A0F"/>
<circle cx="920.7" cy="3413.2" r="11.5" fill="#8FAADC"/>
<circle cx="958.0" cy="3441.2" r="11.5" fill="#5A8F2E"/>
<circle cx="601.9" cy="3535.4" r="11.5" fill="#FFD966"/>
<circle cx="576.9" cy="3565.7" r="11.5" fill="#3A7BD5"/>
<circle cx="527.5" cy="3642.7" r="9.5" fill="#CC0000"/>
</g>
<g fill="none" stroke="#A6A6A6" stroke-width="2.4" stroke-linejoin="round">
<polyline points="465.2,2505.0 477.0,2426.9 495.8,2426.9"/>
<polyline points="446.3,2543.1 479.0,2586.3 495.8,2586.3"/>
<polyline points="1672.3,2481.3 1748.4,2424.3"/>
<polyline points="1793.7,2546.5 1841.7,2506.0 1857.8,2506.0"/>
<polyline points="1683.2,2638.5 1801.5,2696.3"/>
<polyline points="1699.0,2685.0 1716.6,2685.0 1780.0,2746.1"/>
<polyline points="1889.7,2728.0 1919.4,2687.7 1933.5,2687.7"/>
<polyline points="1396.0,2705.0 1410.5,2705.0 1541.5,2854.3"/>
<polyline points="1602.8,2807.0 1678.1,2886.2"/>
<polyline points="1787.0,2856.2 1826.0,2823.6 1844.3,2823.6"/>
<polyline points="1366.5,2884.7 1383.3,2884.7 1541.5,2929.9"/>
<polyline points="1443.3,2815.4 1458.8,2815.4 1570.9,2932.0"/>
<polyline points="1627.4,2957.9 1794.4,2918.2"/>
<polyline points="1729.0,2974.0 1938.0,3005.5"/>
<polyline points="1647.1,2966.3 1863.1,3054.3 1882.0,3054.3"/>
<polyline points="838.4,2967.3 855.4,2967.3 1175.0,3202.0"/>
<polyline points="1361.0,2973.6 1377.0,2973.6 1418.0,3045.8"/>
<polyline points="1657.4,3031.5 1677.3,3081.2 1693.5,3081.2"/>
<polyline points="1600.3,3063.5 1561.5,3112.0"/>
<polyline points="1610.0,3067.8 1674.6,3187.3 1690.8,3187.3"/>
<polyline points="981.0,3159.5 995.0,3159.5 1128.8,3190.4"/>
<polyline points="1338.0,3210.0 1405.5,3239.7 1422.5,3239.7"/>
<polyline points="1188.3,3254.0 1197.2,3196.0"/>
<polyline points="1221.2,3194.2 1348.8,3343.0 1365.8,3343.0"/>
<polyline points="829.3,3378.6 920.7,3413.2"/>
<polyline points="958.0,3441.2 1006.0,3438.8"/>
<polyline points="550.4,3497.7 576.9,3565.7"/>
<polyline points="601.9,3535.4 620.0,3540.0 665.7,3543.4"/>
<polyline points="527.5,3642.7 620.5,3641.1"/>
</g>
<text transform="translate(405.8 152.5) scale(1 1.030)" font-size="67" fill="#1E1EA0" textLength="94.3" lengthAdjust="spacingAndGlyphs">2%</text>
<text transform="translate(432.2 236.2) scale(1 1.030)" font-size="67" fill="#808000" textLength="148.7" lengthAdjust="spacingAndGlyphs">1.5%</text>
<text transform="translate(432.2 320.7) scale(1 1.030)" font-size="67" fill="#FF0000" textLength="148.7" lengthAdjust="spacingAndGlyphs">1.3%</text>
<text transform="translate(559.9 387.6) scale(1 1.030)" font-size="67" fill="#4DC020" textLength="183.4" lengthAdjust="spacingAndGlyphs">1.25%</text>
<text transform="translate(431.4 459.4) scale(1 1.030)" font-size="67" fill="#FF0080" textLength="184.4" lengthAdjust="spacingAndGlyphs">1.15%</text>
<text transform="translate(498.1 545.7) scale(1 1.030)" font-size="67" fill="#0000FF" textLength="90.9" lengthAdjust="spacingAndGlyphs">1%</text>
<text transform="translate(415.0 633.4) scale(1 1.030)" font-size="67" fill="#008000" textLength="186.9" lengthAdjust="spacingAndGlyphs">0.85%</text>
<text transform="translate(532.6 725.6) scale(1 1.030)" font-size="67" fill="#FF00FF" textLength="185.6" lengthAdjust="spacingAndGlyphs">0.75%</text>
<text transform="translate(426.3 836.2) scale(1 1.030)" font-size="67" fill="#800000" textLength="186.4" lengthAdjust="spacingAndGlyphs">0.60%</text>
<text transform="translate(556.4 950.0) scale(1 1.030)" font-size="67" fill="#8000FF" textLength="186.7" lengthAdjust="spacingAndGlyphs">0.50%</text>
<text transform="translate(428.0 1077.3) scale(1 1.030)" font-size="67" fill="#CC33B0" textLength="186.7" lengthAdjust="spacingAndGlyphs">0.40%</text>
<text transform="translate(605.5 1171.8) scale(1 1.030)" font-size="67" fill="#FF8000" textLength="186.7" lengthAdjust="spacingAndGlyphs">0.25%</text>
<text transform="translate(588.5 1398.0) scale(1 1.030)" font-size="67" fill="#00FF00" textLength="187.4" lengthAdjust="spacingAndGlyphs">0.10%</text>
<text transform="translate(595.5 1621.4) scale(1 1.030)" font-size="67" fill="#808080" textLength="186.8" lengthAdjust="spacingAndGlyphs">0.05%</text>
<text transform="translate(1608.5 179.8) scale(1 1.030)" font-size="60" fill="#14149C" textLength="463.4" lengthAdjust="spacingAndGlyphs">35.51ºC; 3.48 J/g</text>
<text transform="translate(1608.8 252.3) scale(1 1.030)" font-size="60" fill="#0A850A" textLength="463.1" lengthAdjust="spacingAndGlyphs">38.34ºC; 9.78 J/g</text>
<text transform="translate(1621.3 335.0) scale(1 1.030)" font-size="60" fill="#FF0000" textLength="495.0" lengthAdjust="spacingAndGlyphs">45.53ºC; 13.58 J/g</text>
<text transform="translate(1623.2 420.8) scale(1 1.030)" font-size="60" fill="#0A8C3C" textLength="495.0" lengthAdjust="spacingAndGlyphs">45.31ºC; 16.47 J/g</text>
<text transform="translate(1617.5 486.2) scale(1 1.030)" font-size="60" fill="#FF0080" textLength="483.3" lengthAdjust="spacingAndGlyphs">45.80ºC; 14.38 J/g</text>
<text transform="translate(1615.5 566.2) scale(1 1.030)" font-size="60" fill="#14149C" textLength="483.4" lengthAdjust="spacingAndGlyphs">49.55ºC; 21.27 J/g</text>
<text transform="translate(1613.6 648.8) scale(1 1.030)" font-size="60" fill="#0A850A" textLength="485.4" lengthAdjust="spacingAndGlyphs">52.65ºC; 21.90 J/g</text>
<text transform="translate(1610.8 747.0) scale(1 1.030)" font-size="60" fill="#FF00FF" textLength="490.0" lengthAdjust="spacingAndGlyphs">53.66ºC; 20.56 J/g</text>
<text transform="translate(1612.4 850.0) scale(1 1.030)" font-size="60" fill="#800000" textLength="492.4" lengthAdjust="spacingAndGlyphs">55.86ºC; 24.38 J/g</text>
<text transform="translate(1618.5 970.4) scale(1 1.030)" font-size="60" fill="#8000FF" textLength="491.2" lengthAdjust="spacingAndGlyphs">56.01ºC; 20.06 J/g</text>
<text transform="translate(1623.2 1072.3) scale(1 1.030)" font-size="60" fill="#8A0045" textLength="493.1" lengthAdjust="spacingAndGlyphs">59.79ºC; 26.20 J/g</text>
<text transform="translate(1627.8 1185.8) scale(1 1.030)" font-size="60" fill="#FF8000" textLength="492.2" lengthAdjust="spacingAndGlyphs">60.73ºC; 24.63 J/g</text>
<text transform="translate(1626.2 1401.2) scale(1 1.030)" font-size="60" fill="#00FF00" textLength="491.9" lengthAdjust="spacingAndGlyphs">65.23ºC; 24.51 J/g</text>
<text transform="translate(1618.5 1630.0) scale(1 1.030)" font-size="60" fill="#404040" textLength="493.9" lengthAdjust="spacingAndGlyphs">67.21ºC; 22.36 J/g</text>
<text x="507.8" y="2441.6" font-size="44" fill="#333333" textLength="147.4" lengthAdjust="spacingAndGlyphs">3% W/V</text>
<text x="507.8" y="2604.0" font-size="44" fill="#333333" textLength="147.4" lengthAdjust="spacingAndGlyphs">5% W/V</text>
<text x="1646.6" y="2408.5" font-size="44" fill="#333333" textLength="205.8" lengthAdjust="spacingAndGlyphs">0,05% W/V</text>
<text x="1869.7" y="2521.8" font-size="44" fill="#333333" textLength="204.3" lengthAdjust="spacingAndGlyphs">0,10% W/V</text>
<text x="1578.7" y="2624.4" font-size="44" fill="#333333" textLength="204.8" lengthAdjust="spacingAndGlyphs">0,25% W/V</text>
<text x="1504.3" y="2702.6" font-size="44" fill="#333333" textLength="180.0" lengthAdjust="spacingAndGlyphs">0,4% W/V</text>
<text x="1946.4" y="2703.2" font-size="44" fill="#333333" textLength="180.5" lengthAdjust="spacingAndGlyphs">0,4% W/V</text>
<text x="1174.9" y="2721.8" font-size="44" fill="#333333" textLength="205.5" lengthAdjust="spacingAndGlyphs">0,50% W/V</text>
<text x="1498.6" y="2791.5" font-size="44" fill="#333333" textLength="204.0" lengthAdjust="spacingAndGlyphs">0,60% W/V</text>
<text x="1857.3" y="2841.9" font-size="44" fill="#333333" textLength="203.7" lengthAdjust="spacingAndGlyphs">0,60% W/V</text>
<text x="1224.0" y="2833.0" font-size="44" fill="#333333" textLength="205.5" lengthAdjust="spacingAndGlyphs">0,75% W/V</text>
<text x="1205.5" y="2902.3" font-size="44" fill="#333333" textLength="146.2" lengthAdjust="spacingAndGlyphs">1% W/V</text>
<text x="1809.7" y="2935.4" font-size="44" fill="#333333" textLength="204.3" lengthAdjust="spacingAndGlyphs">0,85% W/V</text>
<text x="1952.0" y="3020.2" font-size="44" fill="#333333" textLength="147.6" lengthAdjust="spacingAndGlyphs">1% W/V</text>
<text x="1892.4" y="3068.9" font-size="44" fill="#333333" textLength="206.7" lengthAdjust="spacingAndGlyphs">0,85% W/V</text>
<text x="615.4" y="2983.4" font-size="44" fill="#333333" textLength="180.1" lengthAdjust="spacingAndGlyphs">1,3% W/V</text>
<text x="1202.1" y="2989.1" font-size="44" fill="#333333" textLength="147.5" lengthAdjust="spacingAndGlyphs">1% W/V</text>
<text x="1706.9" y="3097.4" font-size="44" fill="#333333" textLength="144.4" lengthAdjust="spacingAndGlyphs">1% W/V</text>
<text x="1487.7" y="3158.8" font-size="44" fill="#333333" textLength="148.1" lengthAdjust="spacingAndGlyphs">1% W/V</text>
<text x="1705.2" y="3201.9" font-size="44" fill="#333333" textLength="145.7" lengthAdjust="spacingAndGlyphs">1% W/V</text>
<text x="762.8" y="3178.2" font-size="44" fill="#333333" textLength="203.3" lengthAdjust="spacingAndGlyphs">1,15% W/V</text>
<text x="1435.1" y="3255.8" font-size="44" fill="#333333" textLength="202.2" lengthAdjust="spacingAndGlyphs">1,25% W/V</text>
<text x="1097.1" y="3300.6" font-size="44" fill="#333333" textLength="177.8" lengthAdjust="spacingAndGlyphs">1,3% W/V</text>
<text x="1376.9" y="3360.2" font-size="44" fill="#333333" textLength="202.1" lengthAdjust="spacingAndGlyphs">1,15% W/V</text>
<text x="737.0" y="3362.8" font-size="44" fill="#333333" textLength="178.2" lengthAdjust="spacingAndGlyphs">1,5% W/V</text>
<text x="1020.2" y="3454.6" font-size="44" fill="#333333" textLength="179.9" lengthAdjust="spacingAndGlyphs">1,5% W/V</text>
<text x="475.1" y="3480.7" font-size="44" fill="#333333" textLength="148.0" lengthAdjust="spacingAndGlyphs">2% W/V</text>
<text x="678.8" y="3558.8" font-size="44" fill="#333333" textLength="146.3" lengthAdjust="spacingAndGlyphs">2% W/V</text>
<text x="634.7" y="3656.5" font-size="44" fill="#333333" textLength="145.2" lengthAdjust="spacingAndGlyphs">2% W/V</text>
<text transform="translate(349.8 2017.0) scale(1 1.030)" font-size="77" font-weight="bold" fill="#000">0</text>
<text transform="translate(604.8 2017.0) scale(1 1.030)" font-size="77" font-weight="bold" fill="#000">20</text>
<text transform="translate(882.3 2017.0) scale(1 1.030)" font-size="77" font-weight="bold" fill="#000">40</text>
<text transform="translate(1157.9 2017.0) scale(1 1.030)" font-size="77" font-weight="bold" fill="#000">60</text>
<text transform="translate(1434.9 2017.0) scale(1 1.030)" font-size="77" font-weight="bold" fill="#000">80</text>
<text transform="translate(1688.4 2017.0) scale(1 1.030)" font-size="77" font-weight="bold" fill="#000">100</text>
<text transform="translate(1964.9 2017.0) scale(1 1.030)" font-size="77" font-weight="bold" fill="#000">120</text>
<text transform="translate(383.8 3847.5) scale(1 1.030)" font-size="67.5" font-weight="bold" fill="#000">0</text>
<text transform="translate(668.6 3847.5) scale(1 1.030)" font-size="67.5" font-weight="bold" fill="#000">5</text>
<text transform="translate(934.4 3847.5) scale(1 1.030)" font-size="67.5" font-weight="bold" fill="#000">10</text>
<text transform="translate(1218.7 3847.5) scale(1 1.030)" font-size="67.5" font-weight="bold" fill="#000">15</text>
<text transform="translate(1505.0 3847.5) scale(1 1.030)" font-size="67.5" font-weight="bold" fill="#000">20</text>
<text transform="translate(1789.3 3847.5) scale(1 1.030)" font-size="67.5" font-weight="bold" fill="#000">25</text>
<text transform="translate(2074.6 3847.5) scale(1 1.030)" font-size="67.5" font-weight="bold" fill="#000">30</text>
<text x="246.5" y="3732.7" font-size="68" font-weight="bold" fill="#000">30</text>
<text x="245.5" y="3566.3" font-size="68" font-weight="bold" fill="#000">35</text>
<text x="246.5" y="3399.9" font-size="68" font-weight="bold" fill="#000">40</text>
<text x="245.5" y="3233.5" font-size="68" font-weight="bold" fill="#000">45</text>
<text x="246.5" y="3067.1" font-size="68" font-weight="bold" fill="#000">50</text>
<text x="245.5" y="2900.7" font-size="68" font-weight="bold" fill="#000">55</text>
<text x="246.5" y="2734.3" font-size="68" font-weight="bold" fill="#000">60</text>
<text x="245.5" y="2567.9" font-size="68" font-weight="bold" fill="#000">65</text>
<text x="246.5" y="2401.5" font-size="68" font-weight="bold" fill="#000">70</text>
<text transform="translate(693.8 2191.5) scale(1 1.015)" font-size="146" fill="#000" textLength="1114.4" lengthAdjust="spacingAndGlyphs">Temperature (ºC)</text>
<text transform="translate(844.2 3968.5) scale(1 1.015)" font-size="137.5" fill="#000" textLength="846.3" lengthAdjust="spacingAndGlyphs">Enthalpy (J/g)</text>
<text transform="translate(401.5 1833.0) scale(1 1.020)" font-size="150" font-weight="bold" fill="#000" textLength="183.0" lengthAdjust="spacingAndGlyphs">(a)</text>
<text transform="translate(1925.4 3623.5) scale(1 1.020)" font-size="150" font-weight="bold" fill="#000" textLength="190.8" lengthAdjust="spacingAndGlyphs">(b)</text>
<text transform="translate(246.8 1577.5) rotate(-90) scale(1 1.020)" font-size="170" textLength="1299.7" lengthAdjust="spacingAndGlyphs">Heat  Flow  (a.u.)</text>
<text transform="translate(173.0 3859.4) rotate(-90) scale(1 1.000)" font-size="138" textLength="1187.0" lengthAdjust="spacingAndGlyphs">MIT Temperature T</text>
<text transform="translate(219.0 2673.3) rotate(-90) scale(1 1.000)" font-size="138" textLength="72.2" lengthAdjust="spacingAndGlyphs">c</text>
<text transform="translate(172.5 2527.9) rotate(-90) scale(1 1.000)" font-size="138" textLength="242.0" lengthAdjust="spacingAndGlyphs">(ºC)</text>
</svg>
</body></html>
